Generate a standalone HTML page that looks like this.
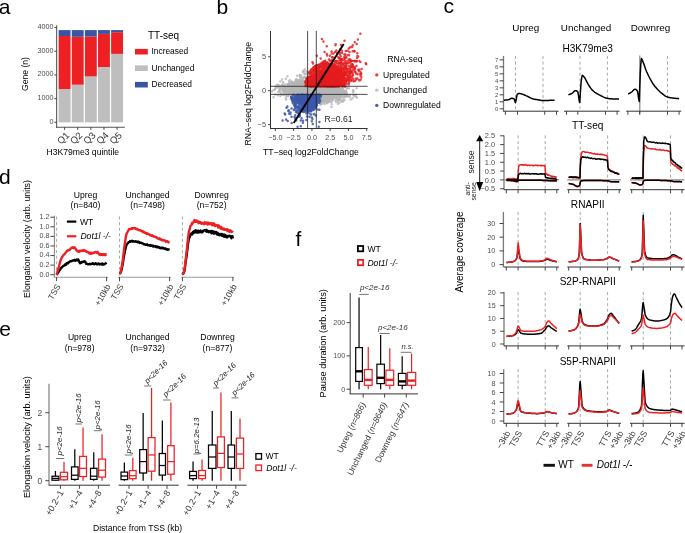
<!DOCTYPE html>
<html><head><meta charset="utf-8"><style>
html,body{margin:0;padding:0;background:#fff;}
svg{display:block;font-family:"Liberation Sans",sans-serif;will-change:transform;}
</style></head><body>
<svg width="685" height="533" viewBox="0 0 685 533">
<rect width="685" height="533" fill="#fff"/>
<text x="-1.2" y="14.2" font-size="21" text-anchor="start" fill="#000">a</text>
<text x="216.4" y="14.2" font-size="21" text-anchor="start" fill="#000">b</text>
<text x="443.6" y="12.8" font-size="21" text-anchor="start" fill="#000">c</text>
<text x="-1" y="184" font-size="21" text-anchor="start" fill="#000">d</text>
<text x="-0.8" y="336.2" font-size="21" text-anchor="start" fill="#000">e</text>
<text x="295.4" y="245.7" font-size="21" text-anchor="start" fill="#000">f</text>
<line x1="56.6" y1="25.2" x2="56.6" y2="127.8" stroke="#666" stroke-width="1.2" stroke-linecap="butt"/>
<line x1="56" y1="127.3" x2="124.9" y2="127.3" stroke="#555" stroke-width="1.1" stroke-linecap="butt"/>
<line x1="54.4" y1="122.3" x2="56.6" y2="122.3" stroke="#333" stroke-width="0.9" stroke-linecap="butt"/>
<text x="53.6" y="123.7" font-size="7.2" text-anchor="end" fill="#4d4d4d">0</text>
<line x1="54.4" y1="98.62" x2="56.6" y2="98.62" stroke="#333" stroke-width="0.9" stroke-linecap="butt"/>
<text x="53.6" y="100.02" font-size="7.2" text-anchor="end" fill="#4d4d4d">1000</text>
<line x1="54.4" y1="74.94" x2="56.6" y2="74.94" stroke="#333" stroke-width="0.9" stroke-linecap="butt"/>
<text x="53.6" y="76.34" font-size="7.2" text-anchor="end" fill="#4d4d4d">2000</text>
<line x1="54.4" y1="51.26" x2="56.6" y2="51.26" stroke="#333" stroke-width="0.9" stroke-linecap="butt"/>
<text x="53.6" y="52.66" font-size="7.2" text-anchor="end" fill="#4d4d4d">3000</text>
<line x1="54.4" y1="27.58" x2="56.6" y2="27.58" stroke="#333" stroke-width="0.9" stroke-linecap="butt"/>
<text x="53.6" y="28.98" font-size="7.2" text-anchor="end" fill="#4d4d4d">4000</text>
<rect x="58.65" y="89.1" width="11.9" height="33.2" fill="#bebebe" stroke="none" stroke-width="1"/>
<rect x="58.65" y="36" width="11.9" height="53.1" fill="#ed2024" stroke="none" stroke-width="1"/>
<rect x="58.65" y="30.1" width="11.9" height="5.9" fill="#3a54a4" stroke="none" stroke-width="1"/>
<line x1="64.6" y1="127.3" x2="64.6" y2="129.8" stroke="#333" stroke-width="0.9" stroke-linecap="butt"/>
<text transform="translate(69.9,135.9) rotate(-45)" font-size="9.5" text-anchor="end" fill="#333">Q1</text>
<rect x="71.77" y="84.7" width="11.9" height="37.6" fill="#bebebe" stroke="none" stroke-width="1"/>
<rect x="71.77" y="36.8" width="11.9" height="47.9" fill="#ed2024" stroke="none" stroke-width="1"/>
<rect x="71.77" y="30.1" width="11.9" height="6.7" fill="#3a54a4" stroke="none" stroke-width="1"/>
<line x1="77.72" y1="127.3" x2="77.72" y2="129.8" stroke="#333" stroke-width="0.9" stroke-linecap="butt"/>
<text transform="translate(83.02,135.9) rotate(-45)" font-size="9.5" text-anchor="end" fill="#333">Q2</text>
<rect x="84.89" y="76.4" width="11.9" height="45.9" fill="#bebebe" stroke="none" stroke-width="1"/>
<rect x="84.89" y="36.4" width="11.9" height="40" fill="#ed2024" stroke="none" stroke-width="1"/>
<rect x="84.89" y="30.1" width="11.9" height="6.3" fill="#3a54a4" stroke="none" stroke-width="1"/>
<line x1="90.84" y1="127.3" x2="90.84" y2="129.8" stroke="#333" stroke-width="0.9" stroke-linecap="butt"/>
<text transform="translate(96.14,135.9) rotate(-45)" font-size="9.5" text-anchor="end" fill="#333">Q3</text>
<rect x="98.01" y="67" width="11.9" height="55.3" fill="#bebebe" stroke="none" stroke-width="1"/>
<rect x="98.01" y="33.9" width="11.9" height="33.1" fill="#ed2024" stroke="none" stroke-width="1"/>
<rect x="98.01" y="30.1" width="11.9" height="3.8" fill="#3a54a4" stroke="none" stroke-width="1"/>
<line x1="103.96" y1="127.3" x2="103.96" y2="129.8" stroke="#333" stroke-width="0.9" stroke-linecap="butt"/>
<text transform="translate(109.26,135.9) rotate(-45)" font-size="9.5" text-anchor="end" fill="#333">Q4</text>
<rect x="111.13" y="53.9" width="11.9" height="68.4" fill="#bebebe" stroke="none" stroke-width="1"/>
<rect x="111.13" y="32.2" width="11.9" height="21.7" fill="#ed2024" stroke="none" stroke-width="1"/>
<rect x="111.13" y="30.1" width="11.9" height="2.1" fill="#3a54a4" stroke="none" stroke-width="1"/>
<line x1="117.08" y1="127.3" x2="117.08" y2="129.8" stroke="#333" stroke-width="0.9" stroke-linecap="butt"/>
<text transform="translate(122.38,135.9) rotate(-45)" font-size="9.5" text-anchor="end" fill="#333">Q5</text>
<text x="82.8" y="155.2" font-size="8.6" text-anchor="middle" fill="#000">H3K79me3 quintile</text>
<text transform="translate(27.6,74) rotate(-90)" font-size="8.6" text-anchor="middle" fill="#000">Gene (n)</text>
<text x="148" y="38.7" font-size="10" text-anchor="start" fill="#000">TT-seq</text>
<rect x="135" y="48.9" width="12.8" height="5.6" fill="#ed2024" stroke="none" stroke-width="1"/>
<text x="151.5" y="54.3" font-size="8.4" text-anchor="start" fill="#000">Increased</text>
<rect x="135" y="65.4" width="12.8" height="5.6" fill="#bebebe" stroke="none" stroke-width="1"/>
<text x="151.5" y="70.8" font-size="8.4" text-anchor="start" fill="#000">Unchanged</text>
<rect x="135" y="81.9" width="12.8" height="5.6" fill="#3a54a4" stroke="none" stroke-width="1"/>
<text x="151.5" y="87.3" font-size="8.4" text-anchor="start" fill="#000">Decreased</text>
<line x1="270.5" y1="31" x2="270.5" y2="128.9" stroke="#333" stroke-width="1" stroke-linecap="butt"/>
<line x1="270.1" y1="128.5" x2="367.6" y2="128.5" stroke="#333" stroke-width="1" stroke-linecap="butt"/>
<line x1="268" y1="56.8" x2="270.5" y2="56.8" stroke="#333" stroke-width="0.9" stroke-linecap="butt"/>
<text x="266" y="59.4" font-size="7.4" text-anchor="end" fill="#4d4d4d">5</text>
<line x1="268" y1="90.7" x2="270.5" y2="90.7" stroke="#333" stroke-width="0.9" stroke-linecap="butt"/>
<text x="266" y="93.3" font-size="7.4" text-anchor="end" fill="#4d4d4d">0</text>
<line x1="268" y1="124.6" x2="270.5" y2="124.6" stroke="#333" stroke-width="0.9" stroke-linecap="butt"/>
<text x="266" y="127.2" font-size="7.4" text-anchor="end" fill="#4d4d4d">−5</text>
<line x1="275.35" y1="128.5" x2="275.35" y2="131" stroke="#333" stroke-width="0.9" stroke-linecap="butt"/>
<text x="275.35" y="140.4" font-size="7.2" text-anchor="middle" fill="#4d4d4d">−5.0</text>
<line x1="293.62" y1="128.5" x2="293.62" y2="131" stroke="#333" stroke-width="0.9" stroke-linecap="butt"/>
<text x="293.62" y="140.4" font-size="7.2" text-anchor="middle" fill="#4d4d4d">−2.5</text>
<line x1="311.9" y1="128.5" x2="311.9" y2="131" stroke="#333" stroke-width="0.9" stroke-linecap="butt"/>
<text x="311.9" y="140.4" font-size="7.2" text-anchor="middle" fill="#4d4d4d">0.0</text>
<line x1="330.17" y1="128.5" x2="330.17" y2="131" stroke="#333" stroke-width="0.9" stroke-linecap="butt"/>
<text x="330.17" y="140.4" font-size="7.2" text-anchor="middle" fill="#4d4d4d">2.5</text>
<line x1="348.45" y1="128.5" x2="348.45" y2="131" stroke="#333" stroke-width="0.9" stroke-linecap="butt"/>
<text x="348.45" y="140.4" font-size="7.2" text-anchor="middle" fill="#4d4d4d">5.0</text>
<line x1="366.72" y1="128.5" x2="366.72" y2="131" stroke="#333" stroke-width="0.9" stroke-linecap="butt"/>
<text x="366.72" y="140.4" font-size="7.2" text-anchor="middle" fill="#4d4d4d">7.5</text>
<text x="310.9" y="154.9" font-size="8.7" text-anchor="middle" fill="#000">TT−seq log2FoldChange</text>
<text transform="translate(250.6,93.8) rotate(-90)" font-size="8.7" text-anchor="middle" fill="#000">RNA−seq log2FoldChange</text>
<path d="M311.6 88.8h0M329.0 89.9h0M293.5 86.7h0M303.4 92.1h0M318.8 89.5h0M306.9 93.2h0M309.1 94.1h0M320.3 96.6h0M313.5 93.8h0M323.4 87.7h0M322.7 93.5h0M331.3 99.2h0M290.5 99.1h0M328.9 90.9h0M321.5 89.1h0M289.6 92.0h0M298.1 84.1h0M316.4 86.6h0M303.6 86.8h0M312.9 91.9h0M304.8 88.0h0M316.8 88.8h0M324.6 89.2h0M314.7 87.4h0M300.4 89.3h0M318.4 92.9h0M311.9 90.9h0M314.0 87.2h0M310.5 88.3h0M323.6 96.8h0M325.0 90.8h0M349.9 96.7h0M317.7 88.6h0M301.7 95.7h0M314.8 95.1h0M327.5 92.1h0M319.9 89.5h0M333.4 92.4h0M333.0 92.7h0M318.9 93.3h0M314.0 86.9h0M290.8 93.8h0M312.4 90.8h0M321.6 87.4h0M293.8 92.1h0M316.9 95.3h0M303.3 93.2h0M284.6 88.2h0M286.3 92.8h0M323.3 90.0h0M326.3 86.5h0M320.8 82.1h0M322.0 87.8h0M314.4 91.5h0M303.9 93.5h0M322.8 89.4h0M290.0 85.8h0M296.9 92.5h0M342.0 88.2h0M338.1 88.9h0M314.1 88.9h0M323.0 90.4h0M306.8 90.5h0M313.1 95.4h0M320.5 94.7h0M301.0 100.0h0M305.1 88.4h0M314.6 88.6h0M312.9 88.0h0M312.1 81.2h0M310.4 87.4h0M319.4 86.8h0M317.5 90.8h0M314.9 96.3h0M322.1 91.4h0M328.8 94.8h0M290.6 89.9h0M306.8 95.7h0M334.0 87.4h0M313.8 90.8h0M312.3 91.9h0M313.7 93.3h0M295.6 89.2h0M320.7 88.8h0M324.2 90.2h0M300.6 90.6h0M344.6 93.4h0M305.2 89.5h0M324.6 87.8h0M329.9 95.3h0M329.7 91.4h0M304.9 83.8h0M332.9 94.3h0M331.9 91.7h0M334.3 87.5h0M306.5 90.6h0M295.6 96.0h0M313.3 94.8h0M320.8 92.0h0M324.6 91.7h0M318.6 89.1h0M350.6 99.5h0M311.8 89.3h0M314.8 94.7h0M324.4 90.1h0M320.6 93.1h0M338.7 94.0h0M326.3 93.9h0M326.3 97.9h0M295.6 90.7h0M299.2 88.9h0M308.2 93.0h0M318.5 90.1h0M313.3 91.1h0M325.6 94.2h0M313.9 90.1h0M300.4 97.5h0M311.3 92.9h0M325.7 91.9h0M306.0 81.6h0M299.0 97.9h0M317.4 90.0h0M310.0 103.5h0M314.7 91.8h0M315.3 90.6h0M323.3 91.8h0M328.6 90.2h0M317.4 91.5h0M319.3 90.8h0M309.4 88.1h0M310.7 87.9h0M317.5 91.2h0M307.5 88.6h0M321.6 96.9h0M309.7 87.4h0M314.9 89.5h0M343.1 99.5h0M311.3 94.6h0M314.5 98.0h0M303.5 91.8h0M330.0 85.2h0M305.6 90.5h0M291.5 88.7h0M320.9 89.5h0M324.1 94.3h0M300.2 93.1h0M314.3 85.8h0M311.3 92.8h0M320.3 90.4h0M325.0 86.4h0M308.5 86.1h0M309.3 88.7h0M293.8 86.7h0M331.0 91.1h0M304.4 87.1h0M326.3 88.6h0M347.5 95.9h0M329.5 94.5h0M294.4 85.8h0M302.3 90.7h0M330.7 90.3h0M301.7 93.0h0M298.1 87.6h0M305.5 90.2h0M308.8 90.3h0M311.1 90.7h0M310.6 90.7h0M341.4 101.8h0M282.8 88.9h0M325.7 90.0h0M317.7 92.9h0M303.6 90.4h0M303.2 97.5h0M306.9 93.1h0M346.7 85.1h0M331.6 91.9h0M314.7 92.0h0M298.6 92.9h0M304.7 93.0h0M313.3 91.4h0M317.6 86.1h0M334.7 85.2h0M330.2 96.3h0M303.8 91.6h0M315.1 82.8h0M335.6 89.5h0M320.3 86.2h0M310.9 87.7h0M339.5 91.7h0M315.7 89.1h0M306.5 97.2h0M318.5 95.4h0M316.5 91.4h0M314.5 94.1h0M301.4 94.4h0M306.7 97.4h0M319.1 86.0h0M337.9 86.6h0M308.4 95.5h0M299.4 84.9h0M341.2 96.7h0M328.3 97.0h0M319.5 90.1h0M324.6 90.9h0M329.6 92.5h0M294.5 87.4h0M318.4 92.2h0M317.5 101.2h0M320.8 87.1h0M313.0 88.2h0M334.5 88.6h0M304.4 88.2h0M317.5 88.2h0M316.3 86.8h0M308.2 87.8h0M321.5 87.6h0M321.9 93.0h0M319.0 89.2h0M310.9 88.5h0M324.9 89.1h0M320.9 86.1h0M296.6 86.1h0M325.8 87.4h0M295.8 92.7h0M317.8 96.7h0M307.9 85.7h0M308.2 92.6h0M301.5 97.9h0M280.2 88.6h0M329.2 93.1h0M296.6 90.4h0M319.6 85.6h0M312.1 89.7h0M297.4 87.3h0M329.4 93.2h0M330.1 86.9h0M319.8 81.6h0M304.4 89.7h0M320.8 93.5h0M335.3 91.7h0M298.4 87.8h0M337.3 89.4h0M313.3 91.2h0M320.5 89.9h0M333.5 95.4h0M301.5 97.1h0M294.2 91.1h0M315.5 88.8h0M299.8 89.9h0M298.7 89.1h0M319.7 91.4h0M302.6 98.1h0M317.5 91.5h0M305.1 87.2h0M300.5 87.9h0M304.6 90.4h0M309.4 87.7h0M334.7 90.3h0M323.1 91.1h0M329.7 94.3h0M311.1 93.0h0M316.3 90.0h0M324.7 97.2h0M309.2 87.0h0M321.1 90.7h0M327.4 91.1h0M309.8 89.7h0M334.2 91.6h0M316.5 90.4h0M335.8 89.8h0M300.9 94.4h0M314.4 91.4h0M307.1 84.9h0M303.6 86.7h0M302.8 86.2h0M335.9 94.0h0M307.9 97.2h0M306.0 92.3h0M293.0 94.6h0M299.8 87.8h0M324.5 98.2h0M303.5 97.9h0M321.4 85.2h0M306.3 89.9h0M334.6 88.2h0M326.5 94.4h0M323.2 86.0h0M317.1 90.0h0M316.6 93.0h0M353.0 90.2h0M317.3 94.8h0M314.7 89.8h0M290.6 92.4h0M304.3 92.5h0M294.5 97.1h0M353.5 95.1h0M337.5 96.5h0M292.3 98.4h0M310.0 93.4h0M314.5 88.9h0M313.9 91.3h0M320.3 82.5h0M338.9 87.0h0M321.3 94.9h0M311.2 95.3h0M320.5 88.6h0M303.4 83.0h0M310.5 92.9h0M289.0 81.0h0M318.3 91.8h0M318.9 94.2h0M320.2 87.4h0M324.2 85.5h0M303.2 93.0h0M321.2 95.7h0M314.1 92.0h0M312.6 90.7h0M324.3 84.8h0M330.3 91.4h0M325.2 98.1h0M338.9 89.1h0M312.3 90.9h0M314.8 84.0h0M332.0 91.1h0M328.7 95.8h0M313.6 88.9h0M324.9 87.4h0M304.6 87.9h0M316.8 94.3h0M324.3 99.0h0M343.6 94.4h0M310.1 90.9h0M336.6 93.1h0M317.4 91.6h0M286.8 91.8h0M324.9 92.2h0M329.6 92.7h0M319.7 89.7h0M328.5 89.0h0M320.9 85.5h0M311.3 88.1h0M326.7 91.1h0M306.6 79.7h0M324.3 94.2h0M321.9 89.5h0M303.3 85.8h0M313.3 96.9h0M320.6 92.1h0M282.0 89.2h0M305.1 92.7h0M302.2 87.2h0M301.0 90.2h0M310.0 91.4h0M323.2 91.9h0M301.1 91.9h0M309.8 94.0h0M307.9 94.6h0M291.3 93.2h0M326.6 91.5h0M338.5 92.9h0M331.5 101.9h0M299.7 90.5h0M290.2 80.2h0M308.0 85.2h0M310.7 92.8h0M271.9 91.4h0M315.2 92.6h0M297.2 94.4h0M312.2 94.1h0M304.5 92.1h0M286.7 94.2h0M337.6 95.0h0M288.9 95.3h0M313.0 93.3h0M315.2 88.6h0M309.0 91.3h0M331.9 86.8h0M315.1 89.9h0M323.3 89.6h0M317.4 93.0h0M323.0 82.4h0M312.1 93.5h0M307.9 92.1h0M312.0 84.3h0M310.6 89.6h0M327.6 88.4h0M311.4 88.2h0M333.4 95.2h0M333.8 90.7h0M311.8 93.4h0M336.0 86.4h0M319.3 88.9h0M309.6 92.4h0M297.0 87.8h0M314.0 89.7h0M332.2 87.4h0M310.5 94.1h0M327.5 92.7h0M305.1 93.3h0M320.8 92.0h0M313.7 86.1h0M326.0 90.1h0M309.7 96.0h0M325.8 92.7h0M303.0 84.4h0M303.2 92.7h0M309.3 88.6h0M308.9 90.0h0M316.5 90.7h0M331.2 92.2h0M313.2 90.9h0M309.2 92.9h0M320.5 93.7h0M325.8 85.6h0M319.9 94.0h0M315.1 89.8h0M340.3 97.1h0M310.3 91.4h0M317.9 90.4h0M328.4 97.6h0M301.5 90.6h0M321.1 92.4h0M316.6 89.4h0M337.8 99.5h0M307.0 95.0h0M308.3 93.0h0M308.8 94.2h0M301.2 87.9h0M327.2 94.4h0M305.3 90.9h0M326.5 88.5h0M291.1 87.0h0M335.2 92.1h0M330.8 92.8h0M315.8 87.3h0M311.3 94.5h0M337.3 95.6h0M304.7 96.7h0M314.2 91.9h0M336.9 86.3h0M323.7 95.4h0M321.3 86.8h0M326.1 94.6h0M310.8 88.9h0M324.6 85.0h0M322.0 94.3h0M320.5 83.4h0M298.4 89.1h0M313.5 90.1h0M310.0 93.2h0M283.2 91.0h0M330.2 96.2h0M322.1 98.4h0M313.8 95.2h0M325.6 90.1h0M315.2 88.1h0M301.5 89.0h0M311.3 87.6h0M329.7 93.9h0M301.1 85.2h0M323.1 93.0h0M312.3 93.2h0M309.8 92.6h0M324.4 98.4h0M327.8 95.2h0M307.1 93.5h0M332.0 90.2h0M312.8 90.6h0M299.3 94.0h0M315.4 92.5h0M297.2 91.9h0M309.6 96.7h0M304.9 89.5h0M296.4 89.2h0M315.1 92.5h0M307.2 91.3h0M312.6 99.1h0M329.8 92.0h0M302.4 83.0h0M294.0 85.6h0M331.7 93.4h0M315.8 88.4h0M318.3 86.3h0M315.1 97.8h0M325.0 86.5h0M321.5 83.7h0M342.1 101.2h0M343.0 91.7h0M312.5 92.2h0M318.1 91.1h0M305.5 90.5h0M304.2 83.3h0M323.2 86.1h0M305.7 86.9h0M330.2 95.6h0M329.5 90.3h0M307.8 95.5h0M329.1 95.7h0M305.2 88.0h0M292.1 95.1h0M316.8 89.2h0M310.9 93.8h0M336.0 91.8h0M316.6 85.7h0M297.4 90.9h0M317.8 85.9h0M300.4 90.8h0M299.3 90.8h0M297.1 88.7h0M297.1 85.2h0M324.4 89.2h0M280.3 81.5h0M315.2 93.0h0M306.8 88.0h0M322.3 90.4h0M317.6 92.4h0M319.5 96.0h0M312.3 93.8h0M302.2 87.0h0M301.7 86.3h0M300.0 90.9h0M301.0 89.2h0M301.0 88.6h0M311.8 90.1h0M321.5 89.4h0M315.2 95.7h0M333.3 89.8h0M319.8 92.6h0M313.3 87.9h0M301.5 90.5h0M320.9 93.4h0M300.4 89.2h0M329.1 93.8h0M304.4 91.7h0M320.4 95.8h0M327.6 90.0h0M308.2 91.9h0M306.0 95.4h0M322.4 92.4h0M298.7 87.3h0M333.3 89.7h0M305.1 92.0h0M318.8 92.8h0M301.5 86.6h0M313.0 94.7h0M352.6 98.3h0M314.9 95.2h0M301.8 92.9h0M320.0 93.3h0M297.7 82.6h0M315.2 84.7h0M309.5 91.2h0M329.8 90.6h0M307.4 87.6h0M302.8 84.0h0M319.5 92.3h0M323.0 87.3h0M316.7 89.1h0M345.3 91.4h0M317.6 84.8h0M304.3 90.7h0M296.3 93.7h0M318.5 91.1h0M320.1 94.9h0M310.2 89.7h0M310.9 89.0h0M337.5 92.0h0M315.0 96.1h0M331.8 88.4h0M314.6 92.8h0M326.2 97.2h0M322.2 93.5h0M336.9 93.2h0M305.7 89.7h0M297.4 85.9h0M310.3 89.7h0M326.5 97.0h0M319.9 94.7h0M299.9 84.4h0M310.7 94.5h0M337.8 90.1h0M319.2 83.3h0M329.4 92.7h0M314.5 90.8h0M314.8 87.4h0M293.8 83.9h0M284.6 86.2h0M295.8 90.7h0M337.6 89.4h0M330.8 95.4h0M340.6 94.3h0M298.3 86.2h0M302.0 91.3h0M290.8 83.2h0M293.5 93.0h0M320.3 92.6h0M311.1 87.2h0M322.8 92.1h0M304.9 88.1h0M291.6 87.6h0M315.5 95.1h0M296.2 83.6h0M315.3 91.9h0M313.9 88.0h0M295.0 86.4h0M301.7 94.5h0M307.9 87.4h0M299.6 91.0h0M326.9 89.8h0M301.1 87.4h0M325.9 86.8h0M313.8 97.7h0M309.8 95.5h0M313.5 88.2h0M318.7 94.3h0M332.8 91.6h0M293.0 92.1h0M306.8 92.9h0M321.1 84.2h0M329.7 90.7h0M303.7 92.2h0M337.9 92.1h0M308.0 90.2h0M310.3 88.6h0M301.1 90.6h0M296.3 92.1h0M311.3 96.5h0M311.7 95.9h0M325.7 91.5h0M319.6 94.9h0M276.4 87.0h0M319.1 89.7h0M342.6 91.0h0M313.4 94.4h0M318.6 86.2h0M311.1 90.4h0M295.9 95.4h0M325.3 93.4h0M298.5 88.7h0M314.1 92.0h0M316.0 85.5h0M311.1 91.4h0M320.5 97.8h0M337.6 92.9h0M318.5 85.5h0M316.2 90.3h0M323.8 85.0h0M336.7 97.2h0M297.0 90.1h0M304.6 91.2h0M326.0 97.3h0M309.2 89.8h0M311.7 97.9h0M315.4 93.0h0M320.4 90.3h0M300.1 87.3h0M335.6 95.5h0M291.0 86.5h0M314.6 87.7h0M333.3 92.3h0M315.0 93.8h0M336.6 97.3h0M319.2 95.5h0M304.2 86.9h0M285.5 91.6h0M322.3 89.8h0M306.6 101.5h0M314.3 97.0h0M317.3 88.2h0M298.7 93.4h0M310.3 89.0h0M311.6 84.4h0M309.7 94.4h0M316.4 91.7h0M309.9 93.2h0M305.6 94.6h0M327.3 91.8h0M339.7 91.3h0M329.4 86.5h0M315.1 84.2h0M317.9 88.5h0M317.6 91.8h0M308.9 89.9h0M307.0 90.2h0M305.6 87.2h0M314.2 95.6h0M329.5 93.1h0M323.5 89.8h0M304.1 89.4h0M329.4 91.9h0M329.1 90.9h0M300.1 93.5h0M322.5 94.0h0M319.1 91.9h0M322.5 85.4h0M345.9 91.6h0M275.2 88.4h0M329.0 91.5h0M304.3 85.7h0M332.3 91.6h0M321.0 89.0h0M298.1 90.7h0M302.8 92.4h0M324.6 92.1h0M316.7 90.5h0M301.1 88.0h0M321.9 89.3h0M323.0 91.8h0M311.3 93.4h0M333.7 89.0h0M329.3 91.3h0M336.5 93.5h0M287.3 84.4h0M303.5 95.8h0M321.6 90.7h0M330.5 93.3h0M312.4 90.6h0M317.4 98.0h0M322.0 85.2h0M330.1 97.7h0M313.3 93.7h0M324.1 91.2h0M337.3 86.2h0M309.2 87.1h0M317.8 89.6h0M313.3 94.1h0M321.8 90.5h0M321.5 97.6h0M322.4 97.4h0M320.2 89.2h0M314.1 86.9h0M316.7 87.9h0M317.9 87.9h0M318.0 97.9h0M306.7 85.0h0M307.5 90.7h0M325.9 88.3h0M315.8 92.6h0M310.4 92.9h0M305.2 87.5h0M297.3 88.6h0M324.7 88.3h0M316.6 94.9h0M324.8 90.3h0M322.9 87.3h0M304.4 88.8h0M313.6 84.7h0M306.4 92.3h0M326.0 82.5h0M314.4 86.6h0M324.7 85.8h0M325.7 95.0h0M325.7 92.3h0M306.4 88.0h0M299.4 87.3h0M327.9 102.2h0M307.8 93.5h0M319.9 94.2h0M334.4 94.1h0M301.3 91.4h0M317.4 87.6h0M317.5 93.5h0M302.2 89.4h0M326.2 93.9h0M309.4 91.4h0M292.0 85.9h0M333.9 93.2h0M296.3 87.5h0M317.7 94.4h0M344.5 100.0h0M318.1 88.0h0M295.8 90.0h0M317.1 93.2h0M296.1 83.5h0M340.6 97.5h0M299.1 95.0h0M301.4 88.1h0M310.4 96.7h0M292.7 94.7h0M310.1 96.3h0M327.8 92.8h0M323.7 88.0h0M315.1 88.4h0M319.5 88.8h0M320.7 87.2h0M306.5 90.0h0M304.8 99.7h0M310.2 94.1h0M326.9 96.3h0M305.0 89.1h0M322.3 88.4h0M298.3 82.5h0M333.2 95.7h0M297.1 84.0h0M303.4 89.8h0M306.1 87.7h0M303.1 84.3h0M336.4 89.4h0M312.7 96.7h0M339.5 87.4h0M310.6 89.6h0M319.0 90.7h0M320.6 89.7h0M292.0 81.8h0M355.9 94.7h0M302.4 85.4h0M293.8 87.4h0M308.1 87.3h0M319.8 89.3h0M318.3 95.4h0M296.1 92.5h0M306.5 92.6h0M320.5 97.8h0M313.5 85.7h0M319.5 91.8h0M289.8 93.3h0M315.8 92.6h0M313.4 93.6h0M313.3 93.3h0M356.9 97.4h0M290.2 87.7h0M314.8 92.9h0M314.4 92.8h0M329.1 90.6h0M300.8 89.3h0M317.6 89.1h0M310.9 88.7h0M322.5 92.6h0M304.1 93.7h0M321.5 96.4h0M343.0 94.1h0M318.3 89.2h0M294.4 92.0h0M349.9 95.1h0M304.2 91.3h0M303.5 93.8h0M304.2 93.8h0M304.3 81.0h0M306.6 91.3h0M303.1 98.1h0M327.7 90.2h0M291.0 85.7h0M325.2 85.0h0M303.6 90.6h0M332.3 100.8h0M302.4 86.1h0M310.5 92.5h0M314.6 88.8h0M322.9 87.5h0M319.2 90.9h0M319.1 93.5h0M315.7 93.5h0M330.3 93.9h0M330.5 88.7h0M315.1 88.7h0M307.9 89.5h0M324.7 86.9h0M313.9 96.7h0M311.9 92.1h0M316.6 89.4h0M310.5 93.0h0M329.3 89.5h0M306.4 90.3h0M336.3 94.6h0M307.0 95.8h0M316.8 92.7h0M303.4 85.6h0M313.8 90.7h0M329.4 85.2h0M318.6 91.0h0M333.7 95.3h0M330.5 93.1h0M304.1 87.2h0M301.5 90.3h0M317.3 96.7h0M302.4 90.5h0M294.2 89.2h0M301.2 85.4h0M304.0 95.0h0M312.7 90.0h0M317.9 93.5h0M302.6 90.0h0M329.8 97.6h0M317.9 89.0h0M330.9 97.9h0M335.0 86.3h0M327.4 91.0h0M305.2 85.5h0M306.6 92.5h0M300.5 92.7h0M302.6 92.9h0M296.8 83.9h0M315.5 85.9h0M312.2 84.3h0M317.3 85.8h0M316.7 92.6h0M326.8 89.1h0M305.6 87.5h0M322.6 91.5h0M321.4 83.7h0M313.7 89.3h0M303.7 91.0h0M326.5 92.3h0M302.5 89.0h0M300.1 85.9h0M308.1 94.4h0M311.4 93.4h0M303.7 90.5h0M322.1 88.8h0M306.7 91.6h0M305.7 87.3h0M312.3 91.3h0M319.3 93.0h0M292.4 87.2h0M324.2 93.3h0M310.2 92.0h0M336.2 96.0h0M335.7 94.8h0M298.2 91.7h0M318.0 95.0h0M319.5 93.5h0M326.6 92.4h0M314.0 98.4h0M307.7 93.7h0M292.3 90.1h0M323.4 89.6h0M317.6 87.0h0M298.4 91.7h0M329.4 96.5h0M322.7 91.9h0M319.4 83.7h0M320.2 87.1h0M344.2 91.3h0M306.1 91.0h0M298.2 92.4h0M312.2 92.7h0M317.7 91.8h0M305.1 90.2h0M313.7 92.6h0M307.6 96.6h0M289.7 85.1h0M301.1 90.5h0M320.5 87.7h0M298.6 88.9h0M296.9 84.4h0M322.8 94.7h0M320.0 85.9h0M307.0 86.0h0M317.6 94.0h0M342.1 88.5h0M302.9 87.6h0M327.1 92.2h0M300.2 95.8h0M328.3 90.4h0M313.6 88.7h0M316.1 86.1h0M309.3 85.9h0M308.4 84.9h0M322.1 91.0h0M307.9 90.7h0M316.9 91.9h0M294.0 94.2h0M313.0 93.7h0M305.6 92.0h0M305.6 90.3h0M305.6 87.7h0M345.4 92.8h0M333.3 91.8h0M319.3 88.5h0M330.3 88.4h0M322.9 90.6h0M307.9 96.3h0M326.7 83.0h0M319.9 93.4h0M322.2 93.2h0M322.3 98.0h0M306.8 91.5h0M318.9 83.9h0M313.2 90.4h0M314.6 90.7h0M331.1 88.2h0M327.0 92.1h0M334.8 91.0h0M323.8 87.4h0M294.9 92.8h0M304.4 91.7h0M306.8 98.8h0M301.4 88.8h0M318.3 93.6h0M303.3 90.2h0M309.5 92.3h0M329.4 91.0h0M318.0 95.9h0M305.6 93.9h0M313.8 90.3h0M304.1 99.5h0M307.4 88.6h0M301.8 90.0h0M327.7 88.1h0M328.5 95.3h0M315.1 86.0h0M307.0 86.4h0M317.9 91.0h0M304.4 93.3h0M326.0 91.1h0M301.1 95.6h0M297.7 91.0h0M324.0 92.1h0M322.3 86.9h0M284.8 89.1h0M319.0 91.6h0M309.7 95.3h0M325.0 97.6h0M340.5 92.0h0M298.7 95.3h0M307.3 85.3h0M314.7 86.2h0M308.6 95.8h0M323.3 89.5h0M324.1 89.1h0M330.8 88.6h0M303.1 88.1h0M309.8 97.0h0M312.0 87.8h0M326.8 95.4h0M299.1 88.6h0M292.9 89.9h0M296.7 85.2h0M313.1 99.2h0M301.3 88.8h0M321.6 91.6h0M317.7 91.0h0M319.7 85.0h0M314.2 92.4h0M291.0 93.4h0M328.9 89.6h0M306.9 87.3h0M306.2 89.2h0M306.8 91.4h0M322.0 92.9h0M319.4 90.7h0M319.4 93.9h0M329.0 90.3h0M306.0 89.5h0M312.3 94.1h0M307.1 91.4h0M324.2 89.3h0M330.0 96.3h0M308.7 84.9h0M327.3 91.7h0M302.7 91.3h0M294.4 91.8h0M314.4 90.8h0M295.4 87.8h0M313.7 93.2h0M312.7 95.6h0M318.3 89.7h0M324.5 92.4h0M345.3 95.2h0M290.1 86.3h0M323.1 93.0h0M319.0 88.5h0M317.9 96.9h0M303.5 89.8h0M338.7 95.5h0M320.8 94.1h0M282.4 84.5h0M320.2 89.7h0M296.6 95.2h0M325.4 92.7h0M321.4 92.7h0M318.0 97.1h0M319.1 96.9h0M343.5 89.8h0M309.8 86.2h0M308.9 94.1h0M309.0 96.3h0M295.4 93.8h0M321.5 90.6h0M330.0 94.8h0M328.2 91.4h0M326.1 96.4h0M324.2 87.7h0M313.9 88.0h0M299.5 90.4h0M312.3 88.9h0M329.1 95.5h0M319.3 86.5h0M325.2 97.3h0M311.3 96.8h0M331.1 94.2h0M308.8 91.4h0M306.6 87.6h0M335.2 91.1h0M315.0 90.2h0M312.8 89.6h0M307.5 96.8h0M331.4 97.2h0M307.9 90.0h0M307.5 94.1h0M303.5 92.4h0M316.4 87.5h0M323.3 85.8h0M310.0 91.7h0M321.3 90.7h0M327.3 94.0h0M320.4 88.7h0M320.8 89.2h0M302.1 89.7h0M314.7 80.5h0M332.4 85.8h0M317.0 88.7h0M311.5 94.5h0M304.0 91.4h0M320.5 97.5h0M322.2 90.6h0M306.2 89.2h0M324.6 91.6h0M323.1 93.2h0M302.8 94.7h0M331.8 90.2h0M314.9 88.6h0M319.2 92.3h0M295.4 91.9h0M325.9 91.0h0M308.0 83.5h0M308.6 89.4h0M309.4 89.5h0M316.5 92.4h0M316.3 95.5h0M336.2 87.5h0M308.6 96.9h0M316.3 96.6h0M292.1 88.1h0M323.7 93.6h0M303.4 91.5h0M322.1 89.9h0M299.8 91.7h0M320.4 89.9h0M318.6 91.5h0M293.3 91.1h0M303.1 87.7h0M307.9 84.8h0M309.2 94.3h0M342.1 91.7h0M304.2 85.3h0M321.1 90.6h0M309.9 90.1h0M308.6 85.8h0M317.1 92.3h0M339.0 92.6h0M314.2 89.5h0M306.0 92.2h0M304.6 89.7h0M331.6 97.5h0M312.1 84.7h0M304.7 86.3h0M309.6 87.8h0M329.6 89.7h0M282.1 79.6h0M324.3 92.2h0M339.6 94.5h0M324.0 92.2h0M311.5 92.0h0M318.0 89.8h0M343.5 93.8h0M312.5 96.2h0M322.8 84.2h0M327.0 93.3h0M320.5 91.1h0M331.9 97.5h0M313.2 90.2h0M316.1 89.5h0M326.1 91.6h0M311.3 93.8h0M287.4 87.1h0M327.0 87.7h0M304.4 92.8h0M331.1 91.7h0M315.1 85.1h0M300.0 96.3h0M309.8 86.6h0M319.7 91.1h0M309.0 92.4h0M303.2 93.5h0M303.5 83.3h0M317.0 92.6h0M278.7 84.9h0M317.0 90.2h0M311.7 82.3h0M347.0 88.1h0M330.5 87.7h0M320.5 91.0h0M318.9 92.5h0M317.9 97.6h0M320.0 91.4h0M319.3 91.1h0M310.2 94.9h0M307.0 97.9h0M301.0 87.6h0M330.7 76.5h0M318.6 88.0h0M326.2 71.2h0M304.9 84.0h0M292.2 89.8h0M334.2 79.6h0M311.6 81.8h0M310.0 82.6h0M301.9 80.7h0M319.8 81.0h0M315.2 83.7h0M294.4 91.3h0M336.1 77.0h0M315.7 77.4h0M285.8 78.8h0M305.0 82.2h0M297.1 91.3h0M301.4 85.2h0M325.1 85.3h0M315.8 81.4h0M310.8 75.5h0M294.4 82.7h0M305.6 91.3h0M296.1 87.9h0M295.1 85.3h0M313.1 86.4h0M307.7 82.4h0M304.4 83.7h0M296.2 86.5h0M307.2 78.5h0M317.1 81.5h0M324.3 81.5h0M315.6 86.2h0M330.7 75.4h0M302.1 81.2h0M316.5 82.0h0M314.2 90.5h0M315.9 87.5h0M305.3 83.8h0M319.0 76.2h0M307.0 89.9h0M336.5 74.6h0M296.3 88.4h0M300.2 75.2h0M298.1 81.3h0M273.4 90.3h0M285.5 88.5h0M305.0 85.4h0M316.9 84.4h0M322.5 81.5h0M324.6 76.1h0M314.5 80.3h0M336.9 80.0h0M328.5 79.7h0M290.2 94.1h0M307.2 72.6h0M308.5 83.6h0M317.1 79.1h0M314.7 88.6h0M284.7 91.9h0M304.0 86.6h0M326.1 79.1h0M301.8 87.7h0M311.3 89.0h0M319.4 82.7h0M304.3 88.4h0M314.5 90.1h0M329.2 77.8h0M293.3 84.7h0M322.7 80.5h0M330.8 83.1h0M300.3 89.9h0M316.6 80.9h0M334.5 83.3h0M314.4 86.7h0M326.0 77.2h0M301.9 86.0h0M298.6 91.5h0M278.3 92.2h0M326.9 80.5h0M305.9 89.5h0M318.4 76.1h0M307.1 74.2h0M310.4 84.5h0M301.0 85.1h0M294.6 88.5h0M322.5 79.9h0M324.6 71.3h0M309.1 87.4h0M309.3 77.5h0M292.3 85.8h0M293.8 87.3h0M337.4 82.3h0M306.2 82.0h0M304.4 71.6h0M328.8 81.8h0M329.6 87.8h0M306.6 85.3h0M318.7 81.9h0M322.6 72.9h0M306.1 90.3h0M315.2 77.5h0M314.6 82.1h0M301.0 80.4h0M275.9 85.9h0M319.7 76.0h0M328.4 70.9h0M289.2 82.5h0M303.1 71.0h0M309.0 84.6h0M298.6 83.1h0M306.7 87.9h0M304.4 83.0h0M303.0 88.4h0M322.7 74.1h0M292.6 82.9h0M322.4 82.4h0M300.3 81.0h0M303.3 90.1h0M311.3 83.7h0M298.8 89.0h0M329.9 71.6h0M305.3 73.7h0M323.8 77.3h0M301.2 75.4h0M305.5 89.9h0M296.1 87.5h0M315.9 94.6h0M310.3 100.5h0M318.9 97.1h0M335.7 95.6h0M322.6 97.3h0M332.7 93.3h0M308.7 101.7h0M335.7 99.6h0M345.2 96.2h0M324.3 100.2h0M322.5 97.2h0M338.7 90.9h0M309.0 95.1h0M310.4 96.7h0M321.6 101.2h0M335.6 100.4h0M324.8 98.1h0M314.1 90.2h0M318.0 100.3h0M317.6 92.4h0M332.1 89.6h0M324.7 93.5h0M330.1 92.9h0M320.2 101.9h0M315.3 103.7h0M329.8 99.3h0M312.5 94.4h0M325.4 93.5h0M345.5 92.2h0M320.7 97.1h0M311.2 92.5h0M339.5 98.8h0M321.9 94.1h0M322.7 97.9h0M317.2 100.6h0M320.7 97.3h0M309.1 97.1h0M314.0 98.8h0M332.8 99.7h0M317.3 98.3h0M332.7 98.3h0M315.8 104.3h0M325.7 101.6h0M333.6 96.7h0M313.5 97.5h0M316.1 101.2h0M327.5 96.5h0M338.6 93.6h0M312.9 94.4h0M328.7 95.8h0M317.8 99.1h0M329.6 101.5h0M313.0 91.9h0M323.8 96.3h0M320.6 103.3h0M299.5 92.0h0M314.7 92.3h0M318.6 101.2h0M323.2 101.9h0M311.7 95.0h0M319.7 94.4h0M306.5 91.8h0M327.8 94.9h0M318.2 98.9h0M335.3 91.3h0M315.6 99.7h0M324.7 88.1h0M329.9 91.4h0M330.6 99.5h0M322.9 100.9h0M318.5 92.4h0M319.3 99.3h0M305.1 98.4h0M326.5 94.2h0M337.3 95.2h0M302.9 105.1h0M332.1 90.3h0M338.6 100.1h0M323.5 93.2h0M314.1 95.8h0M321.2 104.3h0M335.2 96.4h0M326.4 96.4h0M327.2 101.8h0M326.4 95.0h0M326.6 96.5h0M323.8 100.9h0M318.6 101.2h0M330.1 100.5h0M319.9 90.4h0M310.6 102.0h0M305.9 98.7h0M318.0 96.8h0M322.3 93.3h0M329.4 92.7h0M334.3 96.7h0M302.9 93.9h0M343.5 85.3h0M316.1 102.9h0M306.4 104.3h0M316.7 97.3h0M302.5 98.8h0M322.1 94.5h0M297.0 102.2h0M326.1 95.9h0M318.2 97.0h0M310.9 97.1h0M296.0 102.0h0M336.5 96.0h0M311.1 94.2h0M303.6 98.5h0M325.1 91.3h0M320.5 97.4h0M305.9 102.7h0M323.5 101.7h0M308.4 101.3h0M331.7 104.2h0M323.5 95.4h0M330.0 99.2h0M321.2 91.8h0M315.0 93.9h0M345.3 96.8h0M303.4 97.7h0M328.4 92.9h0M327.9 93.0h0M305.5 104.5h0M319.3 96.5h0M310.1 91.6h0M323.5 98.0h0M343.4 96.9h0M314.5 97.5h0M326.3 96.2h0M328.2 95.6h0M341.6 101.3h0M326.2 94.2h0M342.1 91.3h0M322.8 93.7h0M322.6 101.0h0M315.1 97.0h0M333.7 96.7h0M339.1 89.9h0M333.9 97.0h0M320.2 100.8h0M330.8 99.4h0M311.9 96.0h0M320.9 96.2h0M318.9 100.0h0M313.2 96.2h0M334.1 93.5h0M326.0 96.0h0" stroke="#b4b4b4" stroke-opacity="0.8" stroke-width="2.5" stroke-linecap="round" fill="none"/>
<path d="M311.9 91.9h0M328.1 90.5h0M321.3 89.3h0M318.7 91.2h0M306.4 84.0h0M310.4 91.0h0M308.2 86.0h0M315.4 86.0h0M321.2 91.4h0M333.3 90.3h0M309.0 95.3h0M296.2 89.1h0M319.4 93.8h0M318.0 89.4h0M294.8 85.1h0M325.6 98.1h0M321.9 91.7h0M306.4 92.0h0M333.6 93.4h0M332.8 95.5h0M329.3 88.3h0M312.6 89.7h0M340.5 90.8h0M310.5 89.2h0M319.9 90.2h0M345.9 91.0h0M279.9 91.0h0M325.8 85.8h0M328.8 101.5h0M317.1 86.5h0M313.7 85.1h0M326.5 92.4h0M295.3 95.6h0M331.0 88.8h0M324.6 85.4h0M289.6 84.4h0M334.0 95.5h0M305.3 86.6h0M285.4 90.9h0M314.7 87.7h0M333.9 85.7h0M289.7 85.7h0M307.3 89.6h0M312.3 95.4h0M327.7 88.5h0M294.8 92.3h0M295.2 90.4h0M306.6 97.7h0M318.5 92.7h0M331.9 89.2h0M311.0 92.4h0M303.0 87.7h0M303.2 90.6h0M301.8 91.6h0M348.9 88.2h0M336.4 90.2h0M319.0 93.6h0M318.6 90.3h0M299.5 95.1h0M303.7 89.3h0M305.5 90.9h0M310.7 87.7h0M313.4 90.2h0M320.2 87.2h0M290.6 89.5h0M301.5 84.3h0M321.2 90.5h0M336.0 88.2h0M311.0 86.7h0M330.7 92.4h0M327.4 91.4h0M324.8 91.2h0M311.7 88.1h0M309.2 98.1h0M311.9 96.0h0M312.5 97.5h0M322.9 97.8h0M315.2 89.9h0M298.0 91.9h0M321.1 97.0h0M314.0 93.6h0M312.6 100.9h0M316.7 96.1h0M314.4 94.0h0M305.6 95.5h0M308.5 90.2h0M328.9 91.0h0M322.5 82.5h0M321.3 91.7h0M318.0 83.1h0M304.5 89.4h0M336.1 91.8h0M323.4 93.0h0M306.2 87.4h0M308.2 82.0h0M292.4 83.1h0M329.9 93.2h0M315.1 96.2h0M303.3 89.7h0M308.8 93.2h0M322.1 83.3h0M308.2 89.9h0M315.5 88.0h0M301.5 87.9h0M321.3 91.5h0M313.6 88.0h0M316.7 91.5h0M314.6 90.9h0M324.3 91.8h0M333.9 93.9h0M336.5 90.2h0M321.6 89.1h0M298.1 90.8h0M310.3 86.7h0M315.7 88.1h0M295.7 89.9h0M315.3 89.9h0M320.9 97.0h0M318.8 93.5h0M306.6 90.4h0M322.6 88.2h0M326.7 90.0h0M325.2 92.7h0M308.4 93.7h0M312.6 87.3h0M300.1 84.7h0M294.8 83.9h0M295.0 86.3h0M323.5 92.6h0M331.9 93.0h0M336.3 91.7h0M316.3 86.7h0M301.3 88.4h0M324.5 97.0h0M315.9 92.4h0M330.7 90.6h0M314.3 89.3h0M316.1 87.0h0M311.5 92.3h0M314.2 93.3h0M304.8 91.9h0M321.5 96.2h0M330.1 98.5h0M331.5 92.4h0M313.4 84.3h0M317.3 87.4h0M309.8 92.7h0M311.5 88.4h0M302.0 87.4h0M306.0 88.8h0M306.5 87.4h0M313.6 93.3h0M292.8 85.5h0M297.0 96.3h0M321.2 88.7h0M326.1 100.5h0M310.6 90.5h0M318.2 93.0h0M318.7 93.1h0M321.7 89.2h0M315.0 91.9h0M307.2 92.8h0M301.8 88.9h0M316.7 97.4h0M324.2 88.4h0M311.4 91.8h0M302.4 90.3h0M312.2 97.5h0M321.5 92.3h0M315.1 93.0h0M286.1 89.6h0M322.7 90.7h0M325.8 85.6h0M326.2 94.8h0M306.0 93.1h0M300.9 85.3h0M319.0 93.6h0M314.5 90.6h0M287.7 90.2h0M326.8 91.3h0M307.5 91.8h0M315.1 88.7h0M306.6 88.8h0M306.4 93.6h0M330.0 90.3h0M331.0 91.2h0M296.5 90.2h0M340.4 89.7h0M314.4 95.0h0M315.2 89.8h0M312.4 93.6h0M313.1 85.4h0M314.2 88.1h0M323.2 93.5h0M296.8 98.9h0M295.9 87.7h0M339.7 88.1h0M310.9 88.9h0M308.0 96.3h0M326.2 98.5h0M321.6 89.6h0M298.9 95.3h0M315.2 93.4h0M310.7 84.9h0M325.4 95.5h0M303.4 85.5h0M318.1 93.1h0M329.7 91.4h0M301.0 84.4h0M310.1 94.8h0M307.5 96.7h0M319.0 92.0h0M327.1 94.0h0M293.8 91.1h0M328.6 85.5h0M317.3 95.8h0M318.7 88.1h0M315.0 87.5h0M335.2 92.7h0M337.5 92.6h0M321.6 89.6h0M309.6 94.7h0M297.5 86.6h0M306.7 89.2h0M326.4 95.9h0M325.7 89.1h0M302.3 88.4h0M322.4 86.2h0M330.4 90.4h0M328.3 88.6h0M322.2 95.2h0M297.9 86.1h0M312.9 87.0h0M308.8 88.2h0M319.3 84.5h0M321.5 96.1h0M303.8 86.1h0M308.5 91.1h0M307.9 88.5h0M313.0 88.0h0M308.3 93.5h0M333.4 95.3h0M346.2 91.6h0M317.1 84.5h0M328.1 84.6h0M320.6 98.0h0M290.3 86.8h0M310.4 90.6h0M290.1 91.5h0M302.4 96.4h0M303.0 94.3h0M297.3 80.8h0M311.3 95.8h0M293.2 90.9h0M319.8 93.8h0M280.1 89.6h0M309.7 85.9h0M326.9 94.5h0M330.3 94.0h0M301.5 93.7h0M307.8 94.1h0M319.2 99.2h0M305.7 91.5h0M296.1 96.7h0M321.0 95.7h0M289.6 94.5h0M309.4 92.6h0M338.9 85.2h0M313.0 93.5h0M309.1 97.7h0M286.0 87.4h0M333.3 91.2h0M327.6 85.0h0M297.0 87.9h0M305.7 93.2h0M305.1 91.6h0M306.2 86.0h0M290.7 86.3h0M318.5 93.9h0M325.6 98.5h0M305.6 91.7h0M311.7 89.4h0M323.3 92.4h0M314.2 84.6h0M316.1 93.6h0M297.9 89.3h0M304.1 86.7h0M327.2 91.5h0M305.2 92.4h0M324.7 94.5h0M335.4 93.9h0M317.3 88.7h0M284.9 87.1h0M338.4 85.5h0M308.6 93.8h0M315.5 89.8h0M316.9 91.9h0M321.5 90.4h0M296.7 93.4h0M307.1 90.2h0M313.1 93.2h0M332.8 97.5h0M324.7 95.7h0M309.9 92.1h0M330.7 85.6h0M321.0 94.0h0M341.6 85.3h0M304.4 89.9h0M343.9 92.3h0M313.3 93.8h0M315.3 90.7h0M322.5 92.6h0M312.8 93.1h0M313.5 88.3h0M316.2 89.6h0M319.1 94.2h0M327.1 93.7h0M309.7 88.9h0M300.3 88.7h0M306.1 85.1h0M329.2 92.7h0M323.7 91.8h0M320.5 90.8h0M301.0 92.3h0M321.1 90.6h0M309.1 89.4h0M314.7 93.1h0M323.2 95.1h0M315.5 87.5h0M324.7 97.9h0M314.9 86.9h0M301.0 88.4h0M331.5 93.6h0M308.5 92.8h0M307.8 92.5h0M308.5 85.5h0M313.2 86.6h0M311.3 87.0h0M324.2 95.6h0M299.2 89.0h0M317.5 86.6h0M320.9 93.2h0M308.6 84.4h0M326.5 90.0h0M335.1 93.3h0M296.3 94.8h0M315.7 95.1h0M315.6 91.1h0M302.9 92.0h0M301.3 89.0h0M306.4 88.3h0M319.2 88.1h0M324.7 92.9h0M289.7 86.0h0M334.2 94.8h0M304.1 86.4h0M324.9 89.2h0M329.2 92.5h0M291.7 91.1h0M308.7 90.7h0M325.0 93.8h0M317.9 88.8h0M312.4 91.6h0M325.7 91.3h0M298.6 90.0h0M303.1 92.0h0M321.1 89.8h0M316.7 90.7h0M319.7 88.5h0M302.8 89.1h0M298.3 88.1h0M304.0 83.0h0M283.6 89.1h0M305.3 83.3h0M309.6 88.7h0M302.5 91.0h0M309.1 88.3h0M308.8 93.5h0M318.2 92.7h0M302.5 85.5h0M305.6 90.5h0M328.6 94.4h0M319.4 92.4h0M300.8 86.6h0M325.9 84.8h0M305.1 87.0h0M329.1 87.3h0M333.7 96.7h0M308.7 93.5h0M321.6 94.0h0M312.8 96.6h0M310.7 87.2h0M323.7 95.3h0M314.5 90.7h0M325.5 95.4h0M321.9 83.2h0M314.5 97.8h0M332.6 94.1h0M333.5 89.8h0M315.1 92.0h0M332.7 92.7h0M307.5 89.2h0M315.5 88.1h0M306.7 83.1h0M294.2 91.8h0M317.3 97.9h0M324.5 90.2h0M308.3 86.8h0M336.1 92.1h0M326.3 88.6h0M330.9 94.2h0M315.0 88.8h0M322.0 86.3h0M325.0 96.7h0M303.8 86.9h0M298.4 92.2h0M299.8 90.0h0M311.9 92.8h0M307.1 89.6h0M317.9 94.8h0M307.6 87.1h0M310.9 86.8h0M308.5 86.8h0M332.1 92.9h0M310.0 86.0h0M300.1 83.7h0M331.0 88.8h0M303.0 91.8h0M334.2 86.9h0M298.6 89.8h0M310.4 91.4h0M295.6 91.8h0M334.1 87.5h0M315.9 92.9h0M331.9 91.2h0M328.5 94.8h0M325.3 86.0h0M323.7 88.7h0M310.2 91.7h0M310.4 93.2h0M316.8 90.4h0M310.0 85.1h0M306.2 96.7h0M288.8 89.7h0M309.3 93.9h0M327.1 95.1h0M311.6 91.3h0M305.7 88.2h0M278.5 86.4h0M312.6 86.4h0M318.2 91.0h0M302.7 94.2h0M332.8 93.8h0M307.0 93.1h0M297.9 80.1h0M310.8 89.0h0M305.0 91.7h0M312.5 95.4h0M321.9 90.0h0M291.6 86.5h0M314.7 90.0h0M307.9 89.0h0M311.5 100.2h0M311.1 89.0h0M322.6 92.4h0M309.8 93.7h0M307.3 86.7h0M329.5 93.7h0M312.1 89.3h0M320.1 94.7h0M305.6 92.4h0M316.6 94.1h0M284.7 90.7h0M316.7 94.4h0M321.6 90.8h0M326.2 92.7h0M316.5 90.1h0M307.1 93.1h0M331.0 87.8h0M330.2 89.8h0M316.4 88.1h0M315.9 96.2h0M328.9 85.3h0M312.5 87.5h0M303.3 92.7h0M300.6 85.2h0M314.0 90.0h0M327.0 86.5h0M299.5 83.1h0M317.0 84.4h0M309.4 89.8h0M325.6 88.4h0M327.4 86.5h0M325.2 93.0h0M313.7 88.5h0M301.2 87.6h0M299.3 91.4h0M305.8 88.5h0M308.8 89.4h0M314.3 85.7h0M327.2 96.9h0M305.0 94.1h0M324.1 94.8h0M314.3 94.4h0M309.8 93.6h0M312.2 82.6h0M316.1 88.9h0M318.5 93.5h0M327.5 98.4h0M317.5 92.7h0M319.9 95.3h0M310.1 94.4h0M309.6 93.8h0M313.0 90.3h0M312.8 93.7h0M298.2 95.6h0M312.2 89.9h0M299.3 87.2h0M322.3 92.3h0M312.5 89.5h0M332.3 95.3h0M321.9 94.4h0M291.0 90.2h0M307.9 94.8h0M335.7 88.6h0M333.0 89.8h0M300.1 87.7h0M307.0 86.6h0M311.0 88.0h0M325.2 90.3h0M316.1 89.7h0M304.3 92.1h0M325.4 90.3h0M311.5 84.1h0M286.1 87.1h0M312.2 91.6h0M329.3 93.8h0M312.4 88.3h0M319.4 90.1h0M313.5 82.7h0M338.3 90.1h0M308.0 91.3h0M325.8 101.3h0M317.5 86.3h0M312.1 92.4h0M329.3 93.2h0M319.9 91.8h0M320.8 90.0h0M317.7 91.4h0M312.6 91.7h0M324.6 85.4h0M293.5 91.9h0M329.9 88.5h0M310.9 92.6h0M325.1 94.4h0M299.0 90.0h0M302.6 90.4h0M316.5 83.4h0M292.2 89.3h0M320.5 88.7h0M319.0 92.0h0M313.7 92.1h0M300.4 94.0h0M316.5 91.2h0M315.5 84.8h0M317.7 88.5h0M299.9 89.6h0M320.5 86.1h0M310.4 88.8h0M329.1 99.2h0M303.3 92.4h0M330.1 92.7h0M314.5 83.7h0M286.9 89.2h0M320.1 96.5h0M300.8 96.0h0M329.6 91.4h0M303.6 92.8h0M307.0 92.6h0M302.5 96.0h0M318.9 88.3h0M294.0 94.9h0M323.1 91.4h0M328.8 83.5h0M327.9 88.6h0M329.7 94.9h0M302.7 86.1h0M327.4 93.8h0M308.2 94.9h0M314.8 91.8h0M325.3 87.4h0M308.3 92.9h0M333.2 92.4h0M309.9 96.1h0M318.0 94.3h0M314.3 93.1h0M346.9 94.3h0M308.9 86.9h0M324.6 92.0h0M300.4 95.1h0M297.0 92.0h0M304.5 90.9h0M322.5 95.5h0M329.4 89.5h0M323.2 89.2h0M316.8 94.6h0M318.9 94.3h0M301.5 97.2h0M289.8 89.8h0M311.1 83.5h0M315.2 95.2h0M299.2 96.3h0M314.1 89.4h0M315.8 89.2h0M313.3 92.1h0M321.4 88.9h0M338.1 90.2h0M306.7 86.2h0M320.6 95.4h0M310.7 90.0h0M297.8 90.4h0M325.9 92.2h0M296.2 88.4h0M306.3 88.7h0M321.3 85.6h0M335.7 92.9h0M322.8 90.2h0M313.8 87.3h0M322.5 90.6h0M319.7 90.0h0M334.2 95.2h0M300.8 91.9h0M307.2 99.2h0M324.1 97.9h0M313.6 90.4h0M326.9 94.4h0M296.6 89.5h0M328.4 88.4h0M301.7 94.6h0M302.1 89.6h0M309.7 94.5h0M317.5 80.0h0M300.8 94.8h0M318.8 90.7h0M331.4 93.9h0M315.1 92.6h0M322.8 87.4h0M339.8 91.9h0M295.8 93.7h0M313.6 90.5h0M308.5 90.0h0M330.7 92.3h0M318.3 92.4h0M287.0 96.0h0M308.7 95.3h0M297.9 96.7h0M314.2 91.7h0M327.9 83.4h0M308.3 87.8h0M334.6 94.4h0M314.8 87.0h0M304.4 84.7h0M333.7 87.4h0M322.2 91.7h0M291.2 85.2h0M308.3 82.6h0M321.0 87.5h0M314.9 88.0h0M332.7 92.9h0M313.3 89.5h0M326.2 88.5h0M317.4 89.4h0M314.0 92.4h0M319.2 93.4h0M323.1 91.1h0M310.5 92.6h0M305.2 94.3h0M337.3 84.9h0M314.7 87.3h0M312.1 87.1h0M305.7 88.0h0M302.3 96.3h0M295.3 88.5h0M316.5 86.9h0M329.8 93.4h0M337.3 98.8h0M315.3 88.6h0M327.5 93.3h0M320.0 85.8h0M315.6 90.4h0M313.9 95.4h0M329.0 86.2h0M321.5 92.5h0M315.5 89.9h0M288.6 94.0h0M316.4 86.7h0M308.4 92.3h0M319.7 81.7h0M327.1 90.9h0M314.1 86.7h0M338.4 85.4h0M318.1 91.8h0M292.3 85.6h0M327.1 92.8h0M312.2 87.7h0M328.3 97.0h0M305.5 94.6h0M339.1 88.3h0M315.9 87.3h0M304.6 93.3h0M306.0 95.7h0M316.3 87.0h0M322.4 92.8h0M321.1 89.2h0M303.7 88.2h0M302.5 85.7h0M311.4 92.7h0M303.4 94.4h0M311.7 88.0h0M307.6 91.8h0M316.0 90.7h0M312.9 84.9h0M322.0 91.6h0M305.0 90.0h0M300.8 94.2h0M306.6 90.3h0M310.4 94.1h0M328.9 88.7h0M315.5 89.2h0M309.5 91.5h0M294.7 91.1h0M302.3 94.7h0M309.6 93.1h0M308.0 99.7h0M331.3 89.8h0M338.6 95.1h0M302.8 90.7h0M326.3 89.8h0M308.8 86.7h0M341.6 95.9h0M314.2 89.8h0M306.9 92.6h0M325.8 89.4h0M315.6 92.9h0M318.7 93.0h0M321.6 89.2h0M336.4 96.9h0M295.0 88.6h0M333.2 87.4h0M322.1 91.3h0M310.3 88.6h0M336.5 91.4h0M328.5 97.1h0M310.4 89.4h0M331.1 95.7h0M311.9 96.9h0M318.5 92.7h0M328.6 97.5h0M306.6 95.3h0M302.9 84.8h0M314.8 89.1h0M319.1 90.4h0M325.1 100.1h0M331.6 95.2h0M294.3 93.5h0M310.4 92.8h0M334.9 85.9h0M309.7 89.9h0M318.5 84.9h0M303.4 88.8h0M304.9 85.1h0M334.7 84.4h0M328.5 94.0h0M315.6 90.1h0M285.2 90.0h0M299.4 87.8h0M309.3 90.3h0M315.6 88.0h0M319.9 86.3h0M311.4 83.6h0M319.0 90.3h0M286.2 99.4h0M321.8 87.9h0M322.0 89.9h0M282.9 85.7h0M308.8 91.7h0M305.0 88.4h0M329.5 85.4h0M303.8 86.2h0M297.0 91.8h0M328.3 96.8h0M302.5 91.4h0M326.0 90.8h0M305.6 86.7h0M301.5 86.9h0M296.4 83.7h0M325.3 86.5h0M320.4 89.0h0M341.0 96.9h0M307.2 89.5h0M329.8 96.0h0M316.7 90.4h0M322.2 86.5h0M303.2 88.8h0M312.7 93.0h0M329.5 89.9h0M302.4 92.1h0M338.6 94.5h0M300.3 86.3h0M337.7 91.7h0M287.6 84.4h0M307.6 88.4h0M334.3 92.1h0M328.6 85.3h0M334.3 94.4h0M303.3 92.3h0M313.8 89.0h0M312.5 96.1h0M309.0 93.0h0M299.9 88.0h0M289.3 84.3h0M313.0 91.9h0M306.7 93.2h0M336.2 88.0h0M310.8 96.6h0M317.4 92.7h0M327.9 93.2h0M329.5 94.4h0M323.3 94.4h0M314.5 93.5h0M325.2 86.5h0M300.2 89.3h0M308.4 91.7h0M325.6 87.5h0M323.3 90.8h0M333.3 93.5h0M327.2 95.6h0M316.1 80.9h0M308.4 90.6h0M334.1 92.0h0M325.7 92.0h0M294.6 93.6h0M338.6 86.8h0M327.6 92.2h0M331.1 87.6h0M354.0 96.1h0M312.4 95.4h0M318.8 89.2h0M300.2 92.3h0M306.5 89.2h0M327.0 89.1h0M303.1 96.5h0M316.9 89.6h0M305.1 88.9h0M311.0 87.6h0M321.1 90.6h0M329.0 89.9h0M307.1 90.6h0M315.7 91.1h0M299.2 101.1h0M299.0 86.8h0M343.5 92.7h0M307.6 94.3h0M307.9 90.2h0M284.0 94.2h0M313.0 89.6h0M301.3 85.8h0M332.1 88.4h0M313.5 92.6h0M299.0 84.1h0M326.1 95.1h0M319.9 86.8h0M307.1 91.9h0M310.6 92.7h0M317.8 95.4h0M311.6 87.0h0M318.1 87.0h0M313.9 93.3h0M301.8 94.5h0M330.0 92.6h0M311.6 89.2h0M313.0 86.5h0M302.4 88.8h0M309.2 82.3h0M307.3 89.4h0M302.9 88.9h0M313.4 90.4h0M309.0 92.3h0M322.6 84.2h0M313.3 89.9h0M321.2 89.3h0M342.8 84.9h0M312.3 90.0h0M277.4 87.7h0M319.1 98.1h0M313.5 84.6h0M315.0 90.6h0M304.3 90.5h0M299.9 90.4h0M307.6 87.9h0M326.6 92.4h0M303.1 83.9h0M308.6 89.3h0M317.3 84.4h0M323.7 90.8h0M306.5 90.0h0M310.6 92.2h0M308.3 91.2h0M307.9 94.7h0M292.3 87.3h0M338.2 93.2h0M346.1 96.3h0M322.1 95.2h0M308.9 94.8h0M326.3 90.8h0M320.5 88.5h0M328.6 91.7h0M313.8 93.5h0M319.4 92.6h0M325.3 82.5h0M310.5 94.2h0M299.8 90.4h0M309.4 88.6h0M307.5 90.8h0M321.4 85.5h0M305.2 93.6h0M337.7 91.8h0M310.2 92.0h0M304.6 96.5h0M325.5 89.1h0M309.3 89.2h0M301.4 91.2h0M315.9 89.9h0M316.9 94.1h0M304.7 87.3h0M295.1 91.8h0M314.9 89.3h0M310.4 86.7h0M315.1 90.4h0M323.6 91.3h0M306.2 88.4h0M294.6 87.4h0M325.0 93.7h0M315.3 86.1h0M316.9 91.0h0M322.2 88.9h0M304.5 94.9h0M311.4 89.0h0M292.5 91.7h0M335.1 90.8h0M309.2 89.6h0M306.4 89.4h0M298.0 86.2h0M320.9 92.9h0M301.5 90.7h0M311.9 90.2h0M313.7 92.1h0M327.1 91.0h0M315.7 89.4h0M320.6 94.6h0M314.5 92.5h0M318.6 90.2h0M306.6 90.4h0M312.0 85.4h0M326.3 88.4h0M322.8 93.1h0M313.8 84.0h0M320.8 95.5h0M308.6 92.2h0M326.3 88.8h0M327.2 92.3h0M307.2 93.5h0M336.5 93.3h0M313.9 96.7h0M318.2 95.1h0M325.5 95.9h0M311.7 89.2h0M303.0 83.9h0M303.3 88.9h0M323.8 91.9h0M301.6 92.4h0M341.5 92.6h0M322.0 96.5h0M313.5 87.0h0M302.8 93.9h0M325.9 92.9h0M303.3 94.7h0M315.5 94.1h0M303.9 97.5h0M355.9 96.7h0M322.6 91.6h0M287.8 84.7h0M315.7 87.7h0M307.1 85.9h0M318.4 90.3h0M323.6 95.5h0M311.4 91.6h0M331.4 88.0h0M340.7 100.0h0M310.0 82.3h0M307.1 88.3h0M329.7 93.6h0M299.1 88.9h0M304.3 93.8h0M318.0 91.9h0M315.8 87.2h0M307.1 86.1h0M302.3 90.6h0M319.3 99.7h0M327.5 85.3h0M311.3 88.8h0M331.4 87.0h0M321.1 82.5h0M317.5 92.5h0M326.2 91.7h0M304.9 97.0h0M331.5 86.1h0M330.8 87.1h0M316.8 95.1h0M320.4 92.6h0M323.2 89.8h0M326.3 90.7h0M295.4 91.1h0M314.2 93.4h0M302.4 89.8h0M321.2 93.3h0M322.4 87.9h0M324.5 93.6h0M308.9 93.3h0M338.5 96.2h0M330.9 94.1h0M328.5 97.1h0M301.9 89.5h0M323.8 91.6h0M331.9 93.4h0M302.8 92.3h0M329.1 83.7h0M308.9 86.6h0M321.9 90.4h0M317.4 94.9h0M305.1 95.3h0M329.6 89.6h0M335.2 90.5h0M318.0 88.8h0M320.8 95.8h0M333.7 92.6h0M317.8 83.8h0M312.7 93.8h0M302.1 85.1h0M316.6 91.0h0M316.2 94.1h0M311.3 90.6h0M313.8 85.3h0M310.6 92.8h0M310.5 87.5h0M324.5 85.9h0M314.7 86.3h0M314.8 96.6h0M326.2 91.1h0M338.9 90.9h0M316.3 89.1h0M302.6 92.2h0M299.0 83.2h0M332.5 85.9h0M334.2 90.5h0M295.9 89.9h0M322.5 85.8h0M307.0 90.9h0M321.1 89.3h0M289.1 84.0h0M285.6 92.0h0M310.1 91.6h0M306.8 85.3h0M297.6 85.6h0M329.5 90.8h0M345.4 93.7h0M313.0 91.2h0M314.3 89.9h0M335.8 92.0h0M308.9 91.5h0M356.6 88.2h0M333.9 90.2h0M317.0 92.8h0M296.9 88.7h0M323.7 91.4h0M311.9 90.2h0M312.1 96.9h0M296.6 93.6h0M321.2 91.4h0M301.5 95.4h0M305.3 94.5h0M302.9 88.5h0M303.8 88.7h0M303.8 87.8h0M336.1 98.1h0M333.8 96.1h0M302.4 89.6h0M327.7 88.1h0M334.1 89.5h0M337.9 97.4h0M314.9 82.3h0M304.7 91.8h0M299.9 82.3h0M299.7 87.4h0M307.5 91.3h0M314.3 85.9h0M288.9 86.6h0M308.5 87.3h0M319.0 99.0h0M295.7 90.8h0M302.2 85.8h0M304.8 85.5h0M323.8 90.0h0M314.9 87.7h0M306.3 97.8h0M314.0 86.2h0M336.1 92.5h0M318.5 92.5h0M321.7 89.7h0M312.8 87.8h0M310.0 88.7h0M302.0 94.2h0M319.2 88.6h0M326.1 93.9h0M325.6 87.4h0M312.5 92.4h0M308.8 93.3h0M302.7 87.2h0M300.5 82.6h0M318.7 95.7h0M309.1 87.1h0M322.4 98.6h0M306.7 88.0h0M308.8 87.8h0M310.3 94.2h0M310.9 83.0h0M318.4 91.2h0M301.0 87.7h0M306.3 95.2h0M324.2 91.1h0M323.5 87.4h0M309.2 81.2h0M292.0 89.2h0M293.5 92.4h0M311.5 94.9h0M320.3 94.3h0M329.6 89.3h0M335.3 95.6h0M294.9 81.6h0M323.2 88.8h0M323.6 91.9h0M304.2 90.9h0M313.0 96.4h0M328.7 90.4h0M329.1 97.0h0M321.0 91.3h0M333.6 87.0h0M329.8 82.9h0M310.9 101.3h0M283.5 91.4h0M303.6 91.6h0M313.8 83.9h0M303.5 86.7h0M319.1 91.7h0M337.8 92.0h0M304.8 91.0h0M322.1 94.4h0M330.5 90.9h0M320.1 87.6h0M313.3 92.7h0M315.4 90.5h0M306.3 89.3h0M312.7 92.4h0M309.0 86.7h0M317.2 93.2h0M331.6 87.8h0M315.6 95.1h0M320.4 87.3h0M310.5 88.3h0M327.6 91.4h0M318.2 87.7h0M314.2 96.1h0M328.1 90.5h0M323.0 94.2h0M313.0 84.3h0M311.3 90.7h0M317.2 94.6h0M339.8 96.1h0M324.1 96.1h0M312.3 90.9h0M334.1 95.7h0M323.1 97.3h0M328.0 97.3h0M314.5 90.6h0M281.9 94.7h0M314.9 93.5h0M308.7 89.8h0M316.1 94.3h0M305.8 83.7h0M319.9 90.3h0M307.5 90.8h0M312.2 75.6h0M288.0 96.3h0M304.1 77.6h0M288.7 91.7h0M314.4 80.2h0M308.2 83.2h0M309.1 79.0h0M336.0 76.9h0M322.2 84.2h0M291.9 86.3h0M296.3 90.9h0M329.6 88.1h0M318.2 71.2h0M308.6 76.1h0M312.3 85.8h0M282.8 89.6h0M310.1 79.8h0M318.0 79.4h0M292.5 89.1h0M297.3 86.2h0M331.7 92.5h0M345.4 80.0h0M312.6 73.0h0M303.7 92.5h0M301.8 90.0h0M292.9 84.8h0M316.8 76.5h0M311.5 81.9h0M300.0 76.7h0M313.3 77.3h0M277.9 95.2h0M343.7 73.6h0M295.7 80.0h0M317.5 83.9h0M315.8 72.5h0M311.6 85.2h0M322.0 84.6h0M324.3 70.8h0M303.2 83.7h0M288.4 93.8h0M315.0 78.5h0M302.2 83.8h0M338.8 82.2h0M308.8 74.2h0M321.3 84.6h0M314.1 78.1h0M309.8 88.7h0M315.3 81.2h0M308.9 84.5h0M298.0 83.5h0M320.0 79.7h0M327.2 73.0h0M316.8 79.1h0M311.7 82.6h0M328.6 73.3h0M294.7 90.4h0M306.5 85.4h0M287.4 76.2h0M299.7 80.6h0M299.1 87.3h0M302.3 77.6h0M309.1 76.6h0M303.2 80.9h0M327.4 76.4h0M290.1 83.7h0M304.1 85.3h0M281.4 93.7h0M306.7 77.6h0M316.0 74.6h0M312.7 81.7h0M324.5 78.9h0M324.1 84.1h0M294.3 93.6h0M326.9 71.2h0M328.2 81.7h0M305.8 81.0h0M329.3 84.6h0M304.0 83.9h0M322.9 84.2h0M307.4 77.8h0M306.9 85.2h0M307.7 81.2h0M304.1 91.2h0M307.3 86.1h0M305.7 89.8h0M354.2 70.3h0M304.5 74.3h0M318.5 87.2h0M306.1 82.0h0M313.6 83.7h0M309.2 79.2h0M320.7 81.7h0M274.9 89.6h0M335.1 74.9h0M298.5 81.4h0M308.9 82.5h0M336.1 72.7h0M306.4 85.0h0M335.2 80.2h0M321.0 89.6h0M297.2 75.7h0M321.2 79.0h0M320.2 86.3h0M306.8 77.0h0M314.2 87.6h0M329.0 77.2h0M296.4 83.2h0M312.4 79.8h0M303.8 88.7h0M298.7 85.9h0M292.6 84.3h0M315.7 79.9h0M318.2 83.6h0M300.4 86.6h0M301.4 89.4h0M305.9 85.5h0M299.1 85.3h0M344.0 80.4h0M335.7 67.4h0M302.8 82.9h0M284.4 92.7h0M314.8 74.4h0M284.3 89.1h0M311.9 74.9h0M321.6 76.8h0M317.6 97.0h0M329.9 87.8h0M321.5 95.7h0M326.7 95.8h0M319.0 96.9h0M326.6 99.8h0M323.7 90.7h0M328.8 96.9h0M321.9 101.6h0M310.7 91.7h0M306.2 93.9h0M332.1 95.3h0M321.5 94.6h0M297.1 101.8h0M318.8 98.5h0M317.9 95.6h0M327.6 90.4h0M314.4 93.4h0M312.4 95.0h0M314.4 100.9h0M327.4 96.7h0M317.7 97.1h0M329.8 98.1h0M318.0 98.2h0M332.5 98.3h0M330.5 94.3h0M320.0 103.1h0M305.8 99.1h0M338.0 103.8h0M321.5 95.6h0M327.5 93.6h0M294.2 98.7h0M309.2 99.5h0M313.8 99.5h0M327.7 99.7h0M318.3 101.8h0M312.0 100.9h0M320.7 98.1h0M322.7 93.9h0M319.1 92.1h0M308.8 98.3h0M337.6 92.1h0M323.6 97.4h0M299.1 96.9h0M319.2 102.3h0M319.3 89.6h0M307.1 100.4h0M316.6 96.7h0M326.8 103.3h0M332.9 97.0h0M335.7 91.0h0M318.5 100.0h0M307.0 100.7h0M315.6 97.9h0M315.5 96.5h0M315.6 92.9h0M319.1 87.5h0M332.2 99.4h0M323.5 97.8h0M331.5 94.0h0M307.4 99.1h0M335.8 90.5h0M339.3 102.7h0M318.9 96.8h0M327.2 93.7h0M322.9 97.2h0M322.5 97.9h0M320.8 97.8h0M317.2 99.4h0M315.5 102.0h0M310.6 99.9h0M320.9 96.3h0M307.1 98.2h0M329.7 98.9h0M316.9 93.8h0M309.7 93.5h0M305.8 92.7h0M312.5 95.7h0M321.3 98.9h0M325.8 92.4h0M317.1 100.1h0M318.5 94.1h0M317.5 97.3h0M317.2 97.8h0M323.9 93.9h0M331.2 88.2h0M327.0 93.3h0M323.5 99.6h0M321.3 99.1h0M329.9 90.9h0M317.6 102.5h0M340.2 94.4h0M333.9 97.9h0M310.6 98.7h0M320.3 104.5h0M320.1 103.2h0M315.3 100.0h0M311.8 102.8h0M308.6 100.2h0M316.7 99.5h0M335.6 91.9h0M307.4 95.2h0M336.7 89.9h0M322.7 92.7h0M307.2 95.5h0M322.5 98.2h0M332.5 92.0h0M323.9 96.4h0M321.5 98.4h0M314.4 99.0h0M329.7 93.7h0M327.1 101.7h0M327.3 95.8h0M323.9 97.5h0M331.1 97.2h0M321.6 98.7h0M326.4 91.8h0M315.5 100.7h0M319.5 94.5h0M338.1 99.8h0M313.4 90.9h0M292.6 102.1h0M307.7 98.7h0M333.3 98.0h0M326.6 95.2h0M333.7 93.6h0M336.8 94.7h0M313.2 93.7h0M327.4 102.2h0M320.9 96.0h0M310.7 95.2h0M322.8 97.2h0M318.8 90.3h0M313.4 90.6h0M321.8 97.7h0M319.4 101.6h0M321.0 100.9h0M325.9 91.3h0M314.7 92.1h0M320.5 100.6h0M297.8 104.5h0M342.0 91.4h0M320.3 101.7h0M330.0 92.4h0M320.5 103.6h0M324.5 103.9h0M313.7 103.2h0M321.9 103.7h0M311.6 94.3h0M317.5 102.6h0" stroke="#b4b4b4" stroke-opacity="0.8" stroke-width="2.5" stroke-linecap="round" fill="none"/>
<path d="M302.9 91.1h0M319.9 90.4h0M293.2 96.3h0M321.5 93.5h0M321.9 86.7h0M322.9 90.3h0M304.5 89.4h0M289.1 90.8h0M296.1 86.9h0M316.3 95.8h0M302.4 92.2h0M333.3 89.5h0M300.5 86.5h0M335.2 89.5h0M327.0 89.4h0M312.5 86.9h0M319.0 88.6h0M328.1 91.4h0M297.2 90.5h0M331.0 96.3h0M319.2 90.5h0M322.2 91.2h0M309.4 92.0h0M338.3 101.5h0M309.3 88.1h0M307.7 90.9h0M327.7 95.8h0M293.1 91.1h0M328.8 96.9h0M312.9 90.0h0M328.2 92.6h0M316.5 88.3h0M322.7 94.8h0M333.7 95.2h0M303.4 84.5h0M313.6 93.0h0M329.4 86.0h0M316.3 90.4h0M291.1 86.7h0M315.8 85.9h0M306.2 87.2h0M299.1 90.2h0M337.7 91.7h0M307.7 86.5h0M314.9 87.8h0M326.6 93.5h0M299.7 88.8h0M324.1 92.3h0M324.8 88.5h0M320.6 98.9h0M339.6 98.5h0M339.0 92.4h0M318.6 87.9h0M326.2 91.0h0M323.0 100.9h0M314.0 88.8h0M331.8 84.9h0M309.7 94.2h0M336.6 88.2h0M287.2 92.3h0M320.7 89.7h0M315.5 93.9h0M314.8 90.2h0M320.4 91.8h0M302.9 87.5h0M309.9 95.7h0M333.8 89.1h0M327.9 95.5h0M322.5 87.8h0M316.0 81.2h0M299.9 89.4h0M325.7 89.3h0M301.3 92.6h0M306.1 88.3h0M338.2 90.0h0M324.8 87.8h0M291.5 93.7h0M322.9 88.6h0M301.3 94.2h0M299.0 90.2h0M323.8 89.9h0M302.3 90.1h0M311.6 91.9h0M313.0 91.0h0M310.1 93.4h0M321.5 92.7h0M329.1 100.4h0M319.0 86.3h0M321.3 95.2h0M312.0 90.6h0M322.3 88.5h0M318.3 92.6h0M305.9 87.7h0M314.2 89.6h0M314.9 87.9h0M332.3 96.2h0M314.0 92.0h0M313.9 89.6h0M308.6 84.7h0M302.8 91.6h0M305.8 90.4h0M316.8 89.4h0M290.6 93.0h0M306.5 88.1h0M296.8 90.1h0M303.6 87.9h0M334.5 90.6h0M292.1 84.4h0M320.6 89.7h0M301.7 95.3h0M318.0 82.7h0M301.8 94.6h0M307.9 88.8h0M332.6 93.0h0M334.2 93.2h0M306.2 89.0h0M307.8 87.2h0M306.2 90.5h0M318.7 84.8h0M317.0 87.1h0M322.8 81.4h0M336.1 96.4h0M326.6 83.4h0M306.8 88.1h0M321.1 91.7h0M320.8 94.7h0M319.1 87.7h0M315.2 91.9h0M314.4 98.8h0M313.3 84.9h0M330.5 94.2h0M345.4 94.7h0M322.1 92.2h0M305.9 92.5h0M321.8 85.3h0M298.4 80.8h0M327.2 88.9h0M300.9 94.0h0M320.6 93.7h0M315.0 88.0h0M283.1 82.3h0M320.8 91.2h0M325.2 90.5h0M326.0 92.9h0M320.5 91.7h0M320.3 89.1h0M326.2 91.1h0M319.3 95.6h0M311.2 91.9h0M303.6 81.7h0M343.2 101.6h0M342.4 91.8h0M307.4 90.0h0M330.0 88.8h0M285.9 90.6h0M317.0 89.1h0M326.2 93.0h0M316.8 93.5h0M317.4 87.3h0M310.5 98.5h0M318.2 92.6h0M300.0 87.8h0M332.4 90.9h0M307.1 89.9h0M326.4 89.2h0M312.5 97.2h0M321.4 91.8h0M327.4 81.5h0M321.9 99.5h0M323.0 93.0h0M317.4 88.1h0M330.7 84.1h0M326.6 88.3h0M291.6 93.5h0M317.8 93.8h0M307.4 89.7h0M291.2 98.0h0M321.9 90.7h0M321.0 89.1h0M324.3 89.1h0M304.5 93.3h0M329.9 88.5h0M333.2 91.3h0M334.0 94.1h0M307.0 88.9h0M321.4 91.9h0M317.9 93.1h0M319.0 96.8h0M314.1 94.9h0M303.9 85.0h0M301.9 91.6h0M323.6 91.8h0M313.6 99.7h0M316.7 82.8h0M290.8 88.4h0M304.9 91.7h0M316.7 90.2h0M318.5 90.8h0M330.5 89.6h0M338.4 88.9h0M317.4 90.3h0M307.7 92.8h0M309.2 87.0h0M307.2 88.1h0M327.8 90.7h0M306.1 91.0h0M323.4 91.2h0M292.0 89.4h0M312.8 81.8h0M328.9 88.1h0M306.5 93.0h0M317.0 91.5h0M295.5 84.6h0M315.2 96.2h0M303.8 95.5h0M324.8 88.3h0M307.7 97.4h0M307.3 90.8h0M341.1 86.4h0M313.4 94.7h0M312.3 90.1h0M305.2 93.5h0M326.2 93.5h0M310.2 98.2h0M306.0 93.6h0M318.9 96.8h0M305.3 93.0h0M317.1 94.6h0M326.7 85.9h0M295.2 91.4h0M288.5 84.8h0M341.4 84.6h0M328.1 91.1h0M318.2 84.9h0M308.0 88.9h0M298.7 89.2h0M324.7 97.5h0M320.8 94.1h0M307.5 89.4h0M310.1 86.6h0M337.5 95.1h0M330.2 86.1h0M309.4 92.9h0M310.6 88.9h0M297.5 94.1h0M321.2 85.7h0M305.4 91.4h0M307.8 90.1h0M339.3 91.7h0M305.4 87.7h0M332.1 90.7h0M300.1 90.4h0M301.4 83.9h0M318.2 87.1h0M320.9 94.5h0M302.0 95.7h0M300.0 95.0h0M325.1 90.3h0M302.5 95.8h0M309.1 95.3h0M315.3 92.6h0M308.0 93.5h0M310.5 86.9h0M330.4 89.9h0M327.0 93.4h0M329.3 92.0h0M316.1 90.4h0M336.8 87.9h0M314.0 93.2h0M314.1 92.4h0M314.0 81.2h0M317.0 92.3h0M310.3 90.5h0M328.8 86.2h0M297.9 85.7h0M346.9 88.6h0M338.7 92.9h0M300.9 86.2h0M324.8 91.3h0M338.2 90.1h0M328.6 96.9h0M293.3 92.0h0M299.8 93.6h0M318.5 95.0h0M290.9 93.5h0M317.9 88.7h0M302.2 87.7h0M329.1 88.2h0M312.2 90.8h0M305.7 91.6h0M328.6 100.2h0M318.4 90.4h0M318.8 91.7h0M314.1 86.0h0M307.7 89.8h0M314.4 87.3h0M319.4 96.8h0M315.8 99.7h0M323.7 89.2h0M315.3 88.8h0M343.4 90.2h0M323.7 88.1h0M303.7 89.3h0M315.6 89.6h0M313.5 87.0h0M322.2 87.4h0M340.3 89.2h0M314.4 88.3h0M323.5 89.5h0M317.1 91.0h0M322.6 95.2h0M308.5 91.4h0M319.6 90.3h0M299.6 93.9h0M313.4 94.6h0M328.8 97.7h0M321.8 93.3h0M303.0 86.7h0M329.5 87.5h0M299.1 85.9h0M299.1 90.5h0M317.3 89.4h0M312.2 93.0h0M313.1 92.4h0M299.8 90.0h0M293.5 93.9h0M328.7 99.3h0M290.7 84.3h0M281.7 85.2h0M329.4 90.0h0M306.6 93.1h0M321.8 90.9h0M324.5 98.5h0M310.4 93.3h0M301.3 90.7h0M327.3 88.0h0M307.7 91.0h0M312.5 88.0h0M298.1 92.4h0M303.9 93.1h0M302.2 86.9h0M300.9 91.7h0M317.4 89.8h0M295.4 87.7h0M321.4 88.3h0M321.5 95.2h0M319.2 96.8h0M316.5 95.8h0M320.3 98.5h0M313.0 93.8h0M320.6 98.2h0M325.1 87.5h0M328.3 97.4h0M318.8 90.9h0M299.5 90.6h0M296.4 82.7h0M301.5 87.4h0M298.2 88.1h0M320.2 88.2h0M330.3 95.1h0M320.7 88.5h0M302.9 94.0h0M295.7 86.5h0M324.1 95.4h0M313.0 85.4h0M320.2 89.6h0M291.2 90.7h0M316.3 94.2h0M337.3 87.2h0M340.2 89.4h0M314.8 89.7h0M319.2 93.9h0M315.4 87.2h0M292.2 89.1h0M325.3 91.9h0M311.0 89.9h0M318.6 88.2h0M326.0 86.5h0M292.0 87.3h0M291.7 83.2h0M308.3 90.0h0M308.3 88.5h0M298.9 90.5h0M304.8 91.7h0M306.7 85.5h0M313.5 89.5h0M312.2 87.0h0M321.8 88.9h0M298.8 87.2h0M309.2 92.3h0M318.4 90.7h0M325.5 90.5h0M312.8 93.5h0M326.0 96.9h0M324.0 90.4h0M314.8 92.4h0M313.7 89.2h0M313.1 97.8h0M301.0 88.3h0M308.0 97.0h0M305.5 91.2h0M312.2 88.8h0M301.0 90.6h0M325.2 87.6h0M324.0 86.4h0M322.8 89.2h0M321.3 85.7h0M309.8 88.9h0M332.4 88.7h0M307.2 89.5h0M294.0 96.1h0M336.6 90.7h0M331.4 98.6h0M311.0 88.5h0M298.4 84.9h0M323.3 96.5h0M320.8 88.5h0M283.1 85.9h0M314.7 91.1h0M310.9 85.3h0M302.8 96.3h0M303.9 91.7h0M342.4 93.6h0M316.5 92.1h0M328.8 92.7h0M323.0 90.8h0M303.1 86.8h0M320.9 89.6h0M314.7 89.2h0M317.3 86.1h0M310.6 89.8h0M315.1 92.7h0M308.7 89.1h0M315.5 92.1h0M317.3 87.9h0M326.3 94.8h0M303.0 85.0h0M312.3 99.8h0M292.8 91.8h0M319.7 87.3h0M332.5 87.4h0M309.6 89.2h0M316.8 91.1h0M315.9 91.8h0M307.4 90.2h0M325.0 89.8h0M320.7 88.0h0M331.6 91.4h0M321.7 90.6h0M313.6 86.0h0M294.4 92.3h0M308.0 88.2h0M307.6 84.5h0M302.4 91.5h0M302.7 89.9h0M340.7 91.7h0M317.1 89.7h0M325.6 92.6h0M281.7 94.6h0M328.2 89.7h0M320.0 88.5h0M294.4 94.4h0M310.6 91.5h0M320.8 86.8h0M305.0 84.9h0M327.2 90.0h0M306.8 92.1h0M319.2 91.1h0M318.8 89.3h0M298.3 91.3h0M314.3 93.7h0M319.8 101.2h0M316.0 90.5h0M324.0 91.4h0M328.9 89.9h0M319.6 89.2h0M316.5 93.6h0M319.3 95.0h0M331.7 89.5h0M290.6 85.2h0M313.8 86.8h0M302.5 78.8h0M321.7 93.3h0M288.0 88.9h0M291.5 93.4h0M320.1 92.9h0M341.3 85.6h0M321.2 89.8h0M309.3 98.1h0M313.5 91.7h0M353.7 91.2h0M323.7 88.3h0M308.6 90.6h0M322.1 81.6h0M314.4 89.4h0M313.6 90.4h0M301.5 100.1h0M284.8 84.6h0M316.1 90.9h0M308.0 88.6h0M318.2 91.6h0M301.1 81.1h0M280.2 95.8h0M311.8 94.3h0M303.8 93.7h0M294.7 88.9h0M328.9 93.5h0M326.0 85.2h0M317.4 91.8h0M320.4 88.8h0M309.6 90.1h0M292.1 88.9h0M305.5 90.8h0M319.9 86.5h0M310.6 88.2h0M318.8 87.3h0M303.4 89.0h0M319.3 94.3h0M334.7 92.8h0M315.3 94.5h0M331.8 90.8h0M288.3 88.3h0M304.7 95.7h0M317.5 97.3h0M319.2 90.1h0M311.3 94.8h0M338.4 92.0h0M353.1 92.2h0M325.1 95.0h0M330.2 96.5h0M302.8 91.1h0M317.5 93.3h0M302.0 91.0h0M309.6 84.9h0M290.1 87.1h0M318.0 92.1h0M319.5 95.2h0M318.6 92.8h0M321.5 100.1h0M311.9 92.7h0M312.3 88.1h0M324.5 93.0h0M312.3 90.1h0M326.7 89.1h0M317.9 92.7h0M311.8 87.4h0M289.4 88.9h0M311.2 82.9h0M287.6 95.2h0M307.8 87.0h0M313.4 89.4h0M303.1 92.6h0M326.2 87.8h0M329.6 83.7h0M318.2 89.7h0M325.4 88.5h0M319.0 87.4h0M287.9 89.7h0M297.2 92.5h0M327.4 90.7h0M306.6 91.7h0M315.3 85.8h0M319.4 94.2h0M327.1 92.8h0M311.7 92.6h0M297.8 81.2h0M319.9 99.1h0M327.5 96.8h0M333.5 92.9h0M332.3 95.1h0M325.0 97.1h0M320.8 91.7h0M315.8 88.4h0M306.9 95.9h0M337.2 94.4h0M305.6 86.2h0M321.0 90.9h0M310.3 88.4h0M323.5 89.7h0M328.9 87.6h0M326.5 92.3h0M303.0 87.6h0M318.5 92.9h0M292.5 87.9h0M324.8 94.7h0M330.7 89.2h0M306.4 93.1h0M291.9 82.1h0M294.6 87.9h0M311.7 88.9h0M311.3 91.2h0M315.7 94.0h0M321.3 96.4h0M313.5 88.6h0M324.7 87.8h0M313.2 89.6h0M319.1 88.1h0M322.5 89.4h0M322.8 83.4h0M311.9 88.7h0M315.0 93.8h0M308.0 92.6h0M296.4 82.9h0M315.3 96.5h0M294.3 97.6h0M334.4 94.0h0M325.0 84.4h0M322.6 88.7h0M306.5 94.7h0M320.7 98.0h0M336.8 96.6h0M328.4 87.2h0M295.8 94.2h0M299.3 99.2h0M320.8 93.9h0M327.8 90.0h0M321.8 89.5h0M319.4 84.6h0M336.6 90.6h0M300.8 94.5h0M318.6 83.6h0M319.7 91.2h0M311.2 94.6h0M322.0 85.5h0M318.1 88.2h0M342.1 94.8h0M340.3 91.4h0M324.2 86.8h0M298.0 83.8h0M327.4 86.1h0M291.3 88.7h0M317.3 88.2h0M328.4 92.0h0M316.2 90.5h0M325.7 97.1h0M325.0 89.9h0M317.4 88.3h0M320.8 89.3h0M310.4 90.1h0M305.4 95.6h0M332.4 85.3h0M316.5 87.2h0M320.3 90.7h0M316.6 82.3h0M323.6 92.7h0M334.7 92.7h0M332.5 87.6h0M292.5 92.2h0M318.6 90.4h0M314.7 91.7h0M309.7 92.7h0M311.4 89.4h0M307.5 88.2h0M315.0 91.3h0M300.8 90.7h0M312.3 97.3h0M304.3 96.9h0M296.1 87.9h0M326.3 89.1h0M336.1 102.1h0M324.0 90.9h0M319.0 98.8h0M307.8 85.7h0M296.6 91.0h0M302.5 99.3h0M324.7 91.0h0M307.3 95.8h0M334.1 90.7h0M299.1 93.1h0M316.8 90.7h0M334.0 92.8h0M310.5 87.0h0M325.5 92.7h0M329.0 96.8h0M321.0 92.4h0M318.4 89.7h0M315.6 89.5h0M301.4 85.7h0M308.7 90.8h0M315.7 93.5h0M305.7 93.7h0M315.1 89.9h0M320.1 90.0h0M318.4 90.1h0M323.0 90.1h0M318.7 92.4h0M320.7 93.0h0M314.2 92.3h0M310.7 89.2h0M306.0 94.1h0M316.3 86.5h0M334.6 93.8h0M317.3 86.0h0M308.3 89.8h0M299.1 86.9h0M283.8 90.1h0M319.1 93.2h0M309.1 87.1h0M327.4 85.5h0M296.2 92.2h0M318.9 89.4h0M315.6 88.6h0M301.5 96.5h0M341.7 89.4h0M340.1 93.6h0M306.1 94.1h0M323.5 98.8h0M307.5 91.5h0M295.8 90.8h0M304.0 96.2h0M310.0 92.5h0M323.2 91.9h0M313.7 94.3h0M317.0 88.1h0M329.7 89.2h0M307.5 89.6h0M292.4 82.8h0M305.5 99.7h0M322.4 95.7h0M330.6 91.1h0M324.0 86.2h0M317.3 91.0h0M306.9 86.6h0M319.9 90.5h0M313.0 84.2h0M329.6 93.6h0M312.9 93.4h0M322.1 85.7h0M306.3 94.6h0M308.5 92.6h0M335.0 90.6h0M294.1 95.2h0M319.9 88.8h0M317.9 94.1h0M318.3 90.4h0M306.6 89.9h0M311.5 95.2h0M305.1 90.1h0M309.7 96.8h0M310.4 91.8h0M342.7 93.1h0M334.2 89.1h0M342.2 86.8h0M318.7 90.1h0M324.9 85.7h0M321.1 91.5h0M283.3 87.8h0M314.1 92.8h0M309.7 88.2h0M321.7 93.8h0M294.1 86.5h0M293.3 94.8h0M313.6 87.2h0M318.8 82.9h0M315.8 82.5h0M318.6 93.6h0M303.6 91.1h0M319.9 92.5h0M339.5 89.7h0M320.0 98.5h0M313.5 90.0h0M314.3 93.3h0M308.2 85.6h0M305.0 83.4h0M300.2 90.7h0M306.9 87.8h0M331.5 90.5h0M291.4 90.8h0M317.7 93.5h0M307.5 98.8h0M321.0 86.8h0M331.2 91.6h0M316.4 98.4h0M287.5 89.7h0M308.2 91.3h0M314.2 87.8h0M326.5 91.3h0M306.9 90.7h0M310.9 96.8h0M318.6 91.6h0M320.4 96.5h0M303.6 84.9h0M306.8 92.6h0M308.7 86.5h0M284.1 88.6h0M317.3 89.7h0M304.2 88.8h0M313.5 91.0h0M326.2 93.2h0M311.9 99.8h0M298.6 93.1h0M317.4 89.3h0M300.0 89.6h0M331.3 93.9h0M317.1 93.8h0M304.9 91.1h0M323.1 90.9h0M324.2 90.2h0M287.4 92.2h0M314.5 98.2h0M286.0 95.4h0M310.1 95.7h0M299.0 98.8h0M314.6 88.1h0M318.0 89.0h0M313.4 91.7h0M327.6 94.9h0M328.9 93.9h0M337.8 91.7h0M298.5 87.2h0M343.1 94.5h0M333.5 95.5h0M305.9 84.7h0M304.6 90.1h0M327.6 86.3h0M319.8 91.7h0M324.4 94.2h0M327.0 88.9h0M295.1 83.8h0M322.6 97.1h0M308.5 90.2h0M330.7 91.9h0M315.0 84.0h0M317.5 91.6h0M298.4 82.9h0M320.7 87.1h0M317.0 93.7h0M336.4 93.0h0M337.9 87.1h0M291.6 88.2h0M302.5 91.5h0M313.5 87.2h0M324.1 93.6h0M327.2 92.2h0M322.3 89.0h0M294.6 83.0h0M303.7 86.4h0M316.5 90.7h0M324.7 96.0h0M314.6 91.0h0M313.3 91.0h0M323.4 91.0h0M311.9 83.1h0M313.3 92.1h0M313.9 88.7h0M332.7 91.9h0M297.5 83.8h0M295.3 93.5h0M301.2 87.8h0M315.2 93.6h0M306.0 88.2h0M300.4 88.9h0M324.8 89.6h0M284.9 90.1h0M331.7 94.7h0M325.5 95.7h0M311.8 89.2h0M308.2 94.0h0M317.0 87.2h0M309.7 88.1h0M308.1 89.6h0M327.1 88.8h0M318.7 93.9h0M308.2 90.3h0M334.3 90.1h0M297.1 93.0h0M308.9 80.4h0M326.8 95.4h0M300.9 86.4h0M326.0 91.4h0M332.9 92.7h0M303.3 89.9h0M312.2 86.4h0M304.8 91.0h0M315.0 82.3h0M308.8 97.2h0M308.0 88.0h0M317.1 84.4h0M314.2 89.5h0M298.8 98.6h0M320.7 97.0h0M308.4 98.2h0M301.3 80.9h0M321.7 93.8h0M316.6 94.5h0M306.7 92.1h0M299.8 85.6h0M333.8 91.0h0M322.7 92.7h0M306.4 85.7h0M309.8 87.0h0M316.3 83.6h0M321.5 97.7h0M326.6 90.2h0M302.7 91.4h0M277.3 84.8h0M319.5 90.1h0M310.2 94.9h0M297.2 84.7h0M302.5 93.4h0M328.9 87.9h0M307.8 87.2h0M304.9 95.1h0M291.5 87.9h0M333.6 93.1h0M323.4 86.5h0M308.9 92.1h0M297.2 89.5h0M298.3 94.4h0M295.3 92.5h0M311.3 92.1h0M313.4 93.7h0M341.6 91.3h0M320.4 93.0h0M319.4 90.5h0M309.7 82.3h0M317.8 93.9h0M339.3 87.4h0M310.4 94.6h0M310.7 84.6h0M316.3 88.3h0M335.9 90.8h0M302.9 85.3h0M327.4 93.5h0M300.7 84.7h0M302.8 86.9h0M314.2 83.8h0M316.6 94.0h0M297.2 87.9h0M307.6 90.6h0M321.7 86.7h0M290.5 89.9h0M316.7 95.7h0M313.5 93.4h0M331.7 89.5h0M334.5 87.5h0M314.7 89.2h0M299.2 85.4h0M311.9 89.1h0M335.8 90.4h0M342.7 88.1h0M321.9 94.9h0M306.1 94.5h0M318.3 92.1h0M302.2 94.0h0M310.0 96.5h0M328.5 90.9h0M309.8 93.3h0M330.3 87.5h0M309.4 88.9h0M304.1 90.8h0M325.9 92.0h0M313.7 89.0h0M294.6 87.6h0M340.1 95.0h0M288.1 86.8h0M320.3 91.9h0M325.0 88.3h0M321.9 89.8h0M314.7 88.1h0M327.1 92.7h0M308.9 95.2h0M305.2 89.2h0M334.6 88.3h0M294.4 90.0h0M341.7 93.0h0M308.2 92.2h0M337.2 88.3h0M295.2 88.5h0M303.3 94.9h0M303.8 88.7h0M300.9 92.1h0M329.1 91.7h0M337.3 94.5h0M310.1 87.3h0M318.4 89.1h0M326.3 86.5h0M311.5 87.9h0M340.2 91.4h0M314.8 90.0h0M315.1 87.8h0M332.4 86.5h0M292.5 91.9h0M322.1 85.7h0M335.5 95.0h0M324.1 89.3h0M335.3 94.3h0M328.5 88.2h0M319.6 89.6h0M293.4 87.6h0M327.3 89.5h0M293.5 86.1h0M302.0 90.0h0M323.4 91.3h0M293.3 86.5h0M313.0 91.0h0M302.8 91.2h0M320.2 95.9h0M315.0 92.0h0M327.3 98.4h0M316.1 96.0h0M329.0 94.0h0M309.9 100.3h0M306.2 99.1h0M315.6 91.8h0M317.8 85.2h0M336.2 93.7h0M301.7 84.7h0M324.9 91.0h0M302.0 87.4h0M322.1 88.8h0M307.7 90.6h0M318.2 93.5h0M317.1 97.3h0M329.3 98.8h0M305.4 91.6h0M322.1 93.0h0M315.9 94.1h0M317.8 93.0h0M334.0 88.9h0M301.4 96.7h0M315.9 84.3h0M323.6 88.6h0M310.1 87.9h0M341.5 96.2h0M314.5 89.1h0M329.5 91.8h0M327.8 87.7h0M304.3 90.6h0M327.9 93.3h0M324.0 94.0h0M297.9 85.1h0M322.4 84.9h0M305.4 87.7h0M310.8 89.3h0M328.0 91.9h0M301.4 92.7h0M281.2 85.8h0M302.2 84.9h0M299.5 91.2h0M293.9 84.2h0M309.7 92.8h0M307.5 92.6h0M320.5 94.9h0M307.6 93.6h0M296.9 91.1h0M328.7 91.1h0M317.0 85.2h0M293.7 92.9h0M317.1 91.6h0M320.6 84.8h0M316.0 93.5h0M316.4 96.2h0M298.0 91.2h0M324.6 89.3h0M330.7 87.4h0M311.5 83.0h0M305.7 91.5h0M311.2 88.4h0M314.1 90.2h0M310.5 89.2h0M309.5 86.3h0M319.0 95.7h0M310.3 91.7h0M316.0 86.3h0M321.2 86.2h0M324.7 90.5h0M316.4 92.5h0M316.2 95.1h0M296.3 81.9h0M333.2 86.8h0M320.6 91.5h0M296.8 86.7h0M291.8 88.6h0M337.1 88.3h0M319.9 91.5h0M327.0 93.2h0M323.8 92.6h0M316.6 88.9h0M288.3 84.9h0M340.0 86.4h0M300.0 90.0h0M324.3 94.0h0M290.5 93.0h0M326.2 91.0h0M327.8 93.5h0M308.2 84.8h0M320.6 88.1h0M316.3 89.2h0M298.5 90.6h0M293.3 89.6h0M299.9 88.2h0M320.3 91.4h0M304.6 92.3h0M311.6 86.6h0M315.4 88.0h0M317.2 84.3h0M335.0 92.3h0M336.0 89.0h0M310.5 91.8h0M314.0 92.7h0M293.1 87.3h0M325.7 92.3h0M307.3 93.1h0M308.7 85.7h0M311.2 84.2h0M319.1 88.9h0M315.6 94.7h0M289.1 85.8h0M307.3 88.5h0M299.7 89.0h0M314.0 90.9h0M320.5 84.4h0M312.6 87.4h0M311.3 92.2h0M322.3 95.6h0M312.7 89.8h0M308.0 93.4h0M327.0 101.1h0M346.5 86.7h0M287.6 86.2h0M306.8 90.6h0M300.3 90.5h0M338.1 90.1h0M316.2 92.8h0M306.0 96.5h0M319.9 89.4h0M302.5 91.5h0M333.8 98.0h0M322.1 89.2h0M309.1 91.0h0M311.9 88.8h0M328.6 85.7h0M293.7 90.4h0M328.8 96.3h0M318.3 94.0h0M320.6 95.4h0M339.1 87.5h0M321.7 96.5h0M316.2 93.0h0M332.1 95.2h0M318.8 96.5h0M297.5 84.2h0M282.9 91.1h0M319.1 92.7h0M333.3 91.9h0M310.5 88.0h0M301.9 91.7h0M334.7 93.4h0M324.2 88.5h0M315.3 90.1h0M307.3 94.7h0M311.6 94.8h0M308.7 92.1h0M306.9 90.3h0M326.8 91.3h0M300.1 83.2h0M294.6 93.6h0M320.3 91.8h0M314.8 90.0h0M288.5 93.7h0M328.0 91.0h0M316.5 85.1h0M310.9 93.9h0M292.8 88.1h0M279.0 90.4h0M291.6 92.4h0M308.4 91.5h0M303.5 92.5h0M314.0 84.0h0M315.3 95.9h0M284.2 94.9h0M317.2 87.0h0M321.6 87.9h0M329.3 88.4h0M308.9 93.7h0M295.7 89.0h0M288.9 92.1h0M300.5 94.6h0M327.5 92.9h0M319.5 91.2h0M332.0 94.0h0M330.2 90.8h0M326.5 92.3h0M324.5 91.2h0M309.5 85.7h0M301.6 90.8h0M313.0 96.5h0M307.3 92.8h0M308.4 87.6h0M328.1 91.3h0M316.5 92.7h0M305.5 90.7h0M328.0 91.9h0M319.3 99.5h0M309.5 87.5h0M329.8 91.6h0M296.7 86.8h0M313.5 95.6h0M307.0 80.9h0M315.8 73.5h0M301.0 81.9h0M314.8 78.3h0M279.5 87.2h0M309.4 82.9h0M313.2 74.5h0M308.9 77.8h0M303.2 79.2h0M308.5 89.5h0M316.8 72.0h0M318.7 78.1h0M305.9 82.3h0M330.8 74.8h0M320.7 90.2h0M305.0 87.3h0M317.1 78.3h0M309.9 86.7h0M321.1 78.5h0M295.4 89.3h0M330.6 74.6h0M322.9 82.3h0M311.8 89.3h0M310.3 86.6h0M313.6 73.8h0M360.9 74.8h0M323.8 82.5h0M307.4 81.0h0M300.2 79.5h0M275.4 94.6h0M285.0 87.1h0M298.6 81.9h0M298.0 90.8h0M291.8 87.8h0M303.2 72.3h0M307.6 77.1h0M322.5 78.0h0M319.8 84.4h0M309.3 79.9h0M284.9 92.4h0M307.1 71.3h0M327.6 81.7h0M320.6 76.0h0M306.3 90.2h0M314.9 82.2h0M316.0 83.5h0M321.8 77.1h0M311.8 82.7h0M318.5 83.1h0M321.9 78.2h0M292.5 86.8h0M320.0 88.3h0M285.8 98.2h0M310.9 88.9h0M322.8 75.1h0M320.4 81.7h0M323.9 84.5h0M311.9 89.1h0M318.0 78.9h0M300.8 86.6h0M273.5 97.2h0M288.1 85.6h0M316.4 87.2h0M300.0 85.5h0M325.2 90.1h0M336.7 76.3h0M316.8 77.3h0M311.9 78.5h0M280.4 92.5h0M324.5 82.6h0M294.0 86.3h0M304.0 91.0h0M319.3 87.5h0M320.8 73.6h0M322.9 77.4h0M309.2 83.7h0M314.4 83.9h0M305.5 83.4h0M334.6 73.4h0M307.3 86.6h0M300.2 77.6h0M307.5 87.2h0M304.7 69.6h0M281.8 87.2h0M289.3 85.9h0M299.7 75.0h0M296.6 80.8h0M326.6 84.2h0M298.7 91.0h0M310.9 93.1h0M324.7 86.0h0M296.4 79.0h0M303.6 88.4h0M303.2 84.4h0M310.7 87.9h0M312.9 84.0h0M296.5 89.6h0M313.3 90.0h0M299.4 80.3h0M288.6 90.2h0M318.2 94.1h0M295.5 91.5h0M312.0 87.0h0M339.8 71.2h0M299.5 89.1h0M302.1 84.0h0M340.0 72.8h0M316.3 78.4h0M295.9 81.7h0M297.4 86.8h0M320.2 83.0h0M302.8 89.1h0M305.7 91.4h0M313.3 79.1h0M309.9 79.5h0M317.4 89.1h0M320.8 78.1h0M313.9 92.9h0M311.5 79.9h0M333.2 87.9h0M323.2 85.8h0M299.1 86.2h0M304.7 77.0h0M298.1 86.8h0M312.3 79.2h0M315.3 81.5h0M322.6 82.6h0M330.7 99.0h0M326.1 99.2h0M320.1 98.9h0M312.6 101.6h0M332.1 96.7h0M322.8 92.7h0M327.9 90.9h0M316.5 100.5h0M319.1 88.7h0M312.2 103.9h0M313.5 101.2h0M336.8 91.1h0M321.0 102.2h0M307.9 98.1h0M312.3 105.5h0M331.3 93.1h0M324.8 100.3h0M319.0 100.8h0M322.6 92.3h0M346.8 93.5h0M327.1 95.1h0M319.0 92.4h0M322.1 91.5h0M312.3 98.4h0M323.4 94.2h0M318.3 92.8h0M318.2 91.8h0M330.3 89.6h0M303.8 91.4h0M321.1 98.8h0M330.6 93.6h0M324.1 98.2h0M325.0 93.4h0M322.1 101.4h0M315.6 99.2h0M326.2 93.7h0M318.7 100.1h0M312.8 97.6h0M328.4 98.1h0M344.4 94.0h0M316.6 99.7h0M327.2 98.2h0M324.7 98.7h0M331.5 107.0h0M310.9 95.0h0M329.7 100.6h0M331.7 95.5h0M320.1 89.8h0M319.6 88.1h0M318.6 98.5h0M320.7 87.3h0M316.7 97.3h0M317.8 95.3h0M321.3 92.4h0M324.8 97.5h0M334.8 95.6h0M316.7 93.4h0M333.6 85.1h0M306.0 101.8h0M319.0 91.8h0M327.1 98.0h0M325.3 97.2h0M329.4 96.0h0M320.4 92.5h0M325.1 95.2h0M327.3 102.8h0M345.0 91.7h0M332.9 92.5h0M313.7 96.9h0M340.5 91.9h0M321.1 101.2h0M300.2 99.6h0M310.7 99.6h0M324.0 101.9h0M312.1 97.3h0M326.0 97.2h0M323.6 99.5h0M304.6 96.8h0M319.9 96.4h0M330.7 91.7h0M340.0 93.8h0M318.8 98.8h0M318.4 93.0h0M337.4 96.2h0M333.2 94.3h0M322.7 99.4h0M322.3 98.1h0M325.2 95.8h0M319.4 94.3h0M331.8 94.6h0M321.7 95.5h0M328.4 98.1h0M303.2 98.9h0M315.4 93.9h0M301.6 96.5h0M316.0 95.6h0M330.8 92.6h0M305.2 100.7h0M322.3 95.0h0M303.2 97.8h0M335.0 94.9h0M323.4 97.5h0M329.4 97.1h0M314.3 105.7h0M331.3 95.7h0M316.8 92.7h0M317.0 96.1h0M322.4 95.2h0M311.3 98.4h0M309.1 96.0h0M331.0 96.0h0M308.8 93.8h0M325.0 93.2h0M344.4 97.3h0M322.4 97.3h0M331.5 93.4h0M328.3 96.5h0M310.7 95.5h0M328.5 98.0h0M318.0 100.9h0M334.7 94.0h0M330.3 95.9h0M326.5 89.9h0M316.3 101.5h0M330.6 96.2h0M321.6 94.0h0M310.4 99.7h0M303.9 88.0h0M308.6 97.6h0M309.4 97.5h0M334.2 91.6h0M324.8 92.3h0M308.5 90.4h0M332.9 92.2h0M313.5 97.1h0M326.4 93.9h0M348.1 96.6h0M310.4 100.1h0M323.8 96.8h0M328.7 100.6h0M323.7 99.6h0M334.4 97.6h0M321.4 95.1h0M319.9 93.8h0M310.3 96.0h0M315.9 91.5h0M304.7 87.5h0M335.0 89.0h0M312.3 98.0h0M304.6 93.7h0" stroke="#b4b4b4" stroke-opacity="0.8" stroke-width="2.5" stroke-linecap="round" fill="none"/>
<path d="M324.0 84.5h0M321.6 86.3h0M314.9 80.9h0M320.1 83.7h0M328.6 73.3h0M317.4 77.1h0M312.8 82.6h0M329.1 80.0h0M317.5 78.0h0M319.9 86.3h0M320.5 78.2h0M323.6 73.2h0M316.9 78.9h0M336.1 86.4h0M331.0 80.1h0M333.2 74.4h0M337.6 80.3h0M313.1 81.9h0M325.5 80.8h0M320.2 77.1h0M329.1 83.6h0M335.8 85.7h0M311.8 86.6h0M330.2 72.0h0M319.0 79.7h0M316.6 80.5h0M310.5 84.4h0M333.0 86.6h0M317.5 80.5h0M314.6 76.5h0M324.8 75.4h0M319.7 78.1h0M328.4 77.7h0M338.1 83.5h0M315.5 77.0h0M334.0 77.9h0M314.5 86.0h0M329.0 73.3h0M329.1 74.3h0M332.1 86.5h0M329.2 72.3h0M326.5 77.1h0M320.7 86.5h0M312.5 81.1h0M318.5 73.1h0M322.3 77.2h0M329.7 74.0h0M322.2 71.9h0M323.0 86.5h0M335.6 86.3h0M319.6 83.9h0M323.6 78.2h0M329.5 75.0h0M335.7 81.0h0M335.0 80.1h0M311.2 82.4h0M324.5 73.5h0M312.4 85.1h0M317.5 80.7h0M336.3 81.6h0M329.5 81.6h0M328.6 73.0h0M325.8 82.0h0M322.4 83.6h0M329.6 80.7h0M328.7 76.3h0M321.8 82.4h0M331.6 73.8h0M314.0 79.3h0M322.8 85.5h0M315.7 76.4h0M321.9 80.6h0M325.8 74.8h0M328.7 85.8h0M320.3 81.8h0M322.4 82.4h0M312.4 82.7h0M329.3 72.7h0M332.3 73.7h0M326.3 81.8h0M331.8 85.4h0M317.6 82.3h0M329.7 72.1h0M315.4 77.4h0M320.1 84.2h0M325.8 79.9h0M323.2 84.5h0M314.5 79.8h0M321.7 80.6h0M314.1 84.5h0M311.0 81.0h0M335.3 81.9h0M314.9 76.0h0M335.4 83.5h0M319.7 81.6h0M312.5 85.9h0M336.1 83.1h0M333.2 81.9h0M337.7 81.4h0M320.5 75.4h0M327.9 79.7h0M333.9 86.5h0M334.0 84.8h0M332.3 84.4h0M310.9 86.5h0M319.3 84.8h0M321.1 75.1h0M316.9 74.8h0M321.3 77.6h0M315.0 80.9h0M327.6 73.4h0M311.9 84.4h0M332.0 73.7h0M329.4 73.4h0M335.1 76.9h0M323.6 83.2h0M336.0 83.1h0M322.7 80.9h0M310.0 84.9h0M323.7 77.3h0M327.6 74.6h0M312.9 81.4h0M328.2 72.6h0M327.7 86.5h0M326.7 76.7h0M325.9 78.9h0M332.6 78.5h0M337.7 83.5h0M320.7 77.0h0M320.1 72.1h0M313.7 83.3h0M316.5 79.8h0M331.0 81.7h0M333.5 84.5h0M334.0 85.6h0M322.9 72.1h0M321.2 85.1h0M330.5 77.9h0M338.0 81.4h0M337.5 81.8h0M315.2 82.9h0M327.0 72.2h0M335.7 82.0h0M322.9 77.2h0M331.6 72.5h0M334.6 79.6h0M321.4 71.1h0M321.6 72.2h0M331.1 75.9h0M317.5 74.5h0M317.2 73.3h0M320.4 72.5h0M321.9 79.0h0M329.3 86.4h0M329.0 86.6h0M332.8 78.7h0M331.9 83.8h0M319.0 80.5h0M318.9 72.9h0M324.4 77.0h0M336.1 86.2h0M323.0 73.3h0M323.5 74.1h0M335.8 78.3h0M315.1 84.9h0M331.3 73.3h0M325.7 78.8h0M329.6 85.8h0M312.5 78.1h0M322.2 83.4h0M329.6 72.2h0M327.2 70.8h0M333.5 76.4h0M319.7 80.6h0M311.3 83.9h0M322.5 72.8h0M333.4 84.5h0M314.2 82.8h0M327.7 72.4h0M332.6 73.4h0M316.1 81.3h0M332.5 82.1h0M325.0 74.9h0M321.6 85.3h0M326.1 77.3h0M323.8 72.6h0M310.2 86.0h0M334.5 75.8h0M315.7 78.5h0M322.9 77.7h0M327.8 74.3h0M322.4 80.8h0M322.2 70.8h0M328.6 74.8h0M310.5 82.2h0M328.9 81.7h0M323.6 84.5h0M331.1 86.3h0M323.2 76.8h0M311.6 82.7h0M328.6 75.6h0M320.2 82.7h0M332.2 80.1h0M330.3 79.3h0M336.4 79.6h0M321.8 86.0h0M327.4 83.0h0M337.0 80.0h0M324.1 84.3h0M319.6 82.4h0M331.8 83.8h0M312.3 83.1h0M330.7 76.5h0M332.7 81.9h0M315.7 78.3h0M322.2 72.0h0M312.0 81.9h0M323.1 76.1h0M318.6 83.4h0M317.5 85.6h0M313.3 83.6h0M327.3 76.9h0M316.8 84.3h0M329.3 74.3h0M336.2 86.6h0M325.9 79.2h0M338.0 83.9h0M315.7 85.3h0M326.6 79.5h0M332.8 81.2h0M321.5 72.4h0M310.1 84.8h0M312.6 78.3h0M330.5 81.9h0M333.2 86.5h0M324.6 84.0h0M312.3 77.8h0M317.0 80.1h0M331.5 72.5h0M321.1 75.5h0M321.4 70.9h0M328.6 74.1h0M333.7 80.5h0M323.1 70.6h0M323.9 74.9h0M332.1 85.5h0M320.6 76.5h0M331.6 77.7h0M337.8 80.7h0M319.2 77.6h0M331.1 86.5h0M317.2 83.8h0M321.9 79.5h0M326.4 78.2h0M321.0 77.9h0M325.0 73.4h0M324.5 77.6h0M325.9 80.0h0M334.8 82.7h0M324.6 83.5h0M327.4 86.1h0M331.1 83.3h0M319.7 79.8h0M326.1 85.1h0M324.9 76.4h0M323.8 83.8h0M336.1 84.3h0M320.9 84.9h0M322.1 81.0h0M324.1 76.6h0M310.4 82.0h0M313.1 77.4h0M330.4 81.9h0M317.1 78.4h0M327.7 79.6h0M313.7 77.0h0M313.4 78.1h0M319.4 80.8h0M332.6 84.1h0M316.8 74.4h0M316.8 79.6h0M330.4 74.5h0M318.8 80.2h0M312.9 86.1h0M328.8 79.5h0M327.7 75.7h0M330.1 78.9h0M324.4 82.9h0M320.8 74.0h0M329.0 76.2h0M329.1 83.1h0M331.7 79.1h0M329.6 82.0h0M314.5 86.2h0M327.4 76.2h0M324.7 81.4h0M328.1 72.9h0M336.2 80.5h0M330.5 75.2h0M334.6 82.3h0M323.3 73.0h0M331.1 86.4h0M330.5 80.0h0M333.4 82.2h0M333.8 75.3h0M320.6 81.2h0M314.6 85.7h0M329.8 77.4h0M329.4 72.5h0M310.4 83.3h0M325.3 84.0h0M311.0 85.7h0M324.3 81.8h0M329.3 81.3h0M333.5 74.6h0M319.8 77.9h0M329.8 85.8h0M326.9 83.1h0M322.2 77.5h0M323.2 79.3h0M312.9 79.9h0M324.1 77.9h0M331.9 77.3h0M325.3 86.3h0M321.6 86.0h0M335.2 83.1h0M335.4 81.4h0M323.4 81.5h0M320.2 73.5h0M322.3 79.4h0M315.4 74.7h0M333.7 77.6h0M326.3 85.4h0M332.3 78.0h0M333.3 77.1h0M313.8 84.8h0M338.9 86.2h0M314.0 86.4h0M320.5 85.3h0M323.8 75.0h0M322.8 70.6h0M331.1 73.3h0M318.3 73.3h0M326.8 79.2h0M334.8 80.2h0M329.2 83.4h0M332.5 81.1h0M326.4 81.8h0M334.6 81.7h0M333.4 80.4h0M314.5 79.0h0M336.1 83.4h0M319.6 76.6h0M322.1 71.3h0M314.6 75.0h0M314.2 81.4h0M324.4 81.2h0M335.6 84.2h0M313.3 82.1h0M313.4 80.3h0M336.0 81.0h0M328.1 71.9h0M324.9 84.2h0M327.7 72.0h0M323.9 74.4h0M314.4 75.9h0M313.3 85.5h0M320.4 78.9h0M322.4 73.9h0M326.1 83.9h0M327.4 80.3h0M336.8 83.7h0M336.2 85.4h0M321.8 83.8h0M332.7 84.5h0M320.1 81.8h0M318.9 74.1h0M333.2 80.1h0M323.7 78.0h0M321.9 85.8h0M336.0 85.3h0M319.6 75.2h0M330.6 85.1h0M311.9 82.8h0M316.1 84.8h0M326.2 78.2h0M319.3 81.6h0M334.6 86.5h0M325.5 79.3h0M327.4 85.5h0M315.2 78.1h0M331.2 84.5h0M333.2 75.6h0M330.7 85.2h0M312.4 80.6h0M328.5 77.8h0M321.3 82.3h0M324.6 78.2h0M336.3 80.5h0M313.4 76.7h0M319.4 72.8h0M328.8 83.5h0M326.2 72.2h0M317.9 79.1h0M327.4 72.3h0M330.2 73.9h0M316.6 75.2h0M320.7 72.8h0M325.7 85.1h0M333.6 74.8h0M321.0 71.1h0M334.6 78.1h0M317.4 77.0h0M328.3 76.7h0M319.2 74.4h0M331.1 78.6h0M322.7 81.2h0M330.7 66.2h0M331.7 65.4h0M314.8 70.7h0M311.3 80.3h0M341.6 72.7h0M327.4 68.1h0M309.2 80.8h0M333.1 84.9h0M323.1 64.6h0M307.5 80.0h0M312.6 76.3h0M332.6 85.3h0M322.7 63.7h0M341.3 83.7h0M319.9 72.9h0M337.0 77.9h0M335.4 77.7h0M335.0 74.3h0M322.6 81.3h0M330.0 69.8h0M335.4 77.7h0M315.6 70.1h0M339.2 84.5h0M312.9 81.5h0M312.2 80.9h0M309.1 84.1h0M335.0 85.9h0M311.2 85.1h0M334.4 65.7h0M337.2 74.3h0M325.1 70.8h0M316.1 70.6h0M305.6 85.7h0M326.9 70.1h0M336.0 80.8h0M319.1 67.1h0M332.5 65.6h0M308.6 77.7h0M330.1 71.9h0M339.8 78.5h0M311.4 81.1h0M344.5 85.6h0M318.6 80.3h0M317.3 72.0h0M314.5 67.5h0M340.1 73.4h0M310.6 82.6h0M335.8 86.2h0M310.5 77.9h0M308.8 83.6h0M342.7 76.0h0M306.7 85.8h0M314.6 85.8h0M328.0 71.6h0M345.0 86.4h0M310.0 84.9h0M306.9 84.6h0M309.0 77.0h0M308.2 86.0h0M307.8 83.2h0M335.6 66.2h0M315.5 77.6h0M317.6 69.8h0M336.2 72.8h0M328.9 65.3h0M330.7 66.7h0M309.7 80.6h0M343.8 76.9h0M331.7 82.9h0M332.5 70.7h0M344.2 85.7h0M315.9 66.8h0M345.2 83.1h0M325.6 71.4h0M340.8 79.5h0M337.5 72.9h0M310.3 84.0h0M339.4 70.7h0M308.6 78.8h0M341.8 76.3h0M309.4 84.4h0M341.1 79.6h0M313.5 83.7h0M340.8 84.7h0M335.4 77.8h0M330.5 73.8h0M340.5 73.2h0M327.3 69.4h0M311.2 77.5h0M309.1 72.4h0M342.2 81.9h0M322.9 70.8h0M331.7 68.6h0M324.1 68.8h0M333.6 68.8h0M317.8 66.5h0M338.7 73.1h0M319.9 71.5h0M305.4 82.4h0M334.1 70.4h0M335.6 77.7h0M337.8 71.1h0M308.2 80.7h0M315.3 69.3h0M341.0 71.5h0M310.0 86.3h0M323.9 66.8h0M338.2 70.9h0M323.2 63.3h0M320.8 79.3h0M336.3 71.2h0M324.1 71.0h0M341.3 78.4h0M338.2 68.4h0M333.5 82.2h0M312.7 76.5h0M315.9 66.1h0M309.3 80.3h0M330.6 81.7h0M313.5 67.3h0M339.8 71.1h0M310.5 73.1h0M320.3 66.7h0M342.1 84.9h0M333.4 76.3h0M342.2 83.3h0M321.8 75.3h0M318.3 65.0h0M322.7 68.3h0M318.1 70.5h0M308.6 78.7h0M331.1 66.2h0M315.9 66.1h0M326.1 63.6h0M337.2 83.8h0M336.0 70.5h0M311.8 69.1h0M315.0 81.4h0M324.0 79.6h0M312.7 76.3h0M337.6 67.1h0M351.2 73.1h0M337.9 68.6h0M339.9 69.5h0M338.3 71.5h0M345.5 54.6h0M340.9 64.9h0M324.7 65.5h0M340.8 67.6h0M339.6 71.3h0M336.8 69.7h0M345.8 65.8h0M358.3 56.6h0M324.7 76.6h0M336.3 50.5h0M339.9 54.4h0M328.5 77.7h0M336.3 61.0h0M344.4 74.7h0M318.9 67.9h0M326.3 74.5h0M352.7 45.3h0M321.7 62.8h0M354.3 66.9h0M348.1 54.9h0M346.0 61.3h0M342.1 75.2h0M332.1 57.2h0M352.4 66.1h0M340.3 49.3h0M334.0 73.5h0M333.0 71.3h0M326.8 54.1h0M326.0 74.0h0M326.1 78.2h0M340.6 68.6h0M328.3 71.9h0M356.1 61.3h0M350.9 66.2h0M333.5 75.6h0M333.5 75.7h0M328.7 74.8h0M326.5 68.0h0M341.5 75.6h0M339.8 71.5h0M355.0 68.8h0M326.6 78.5h0M328.3 70.7h0M315.1 78.1h0M333.6 70.8h0M329.0 59.6h0M344.3 62.9h0M325.3 74.2h0M324.7 65.5h0M349.1 55.2h0M333.8 70.1h0M337.6 70.0h0M341.6 67.9h0M325.3 60.8h0M335.0 61.4h0M346.8 68.7h0M345.5 74.9h0M333.1 70.1h0M342.1 60.5h0M341.2 73.4h0M338.7 63.4h0M333.5 72.8h0M350.2 47.3h0M328.9 72.2h0M354.8 61.3h0M332.4 76.0h0M313.9 69.8h0M340.8 67.5h0M331.0 72.7h0M325.4 71.5h0M328.6 72.0h0M350.0 68.2h0M352.1 47.0h0M341.1 59.5h0M344.3 62.6h0M344.7 58.0h0M335.6 75.4h0M316.8 55.8h0M340.7 56.3h0M349.1 66.3h0M352.7 51.3h0M336.2 70.4h0M346.6 57.6h0M324.1 71.5h0M350.5 60.8h0M336.1 70.5h0M324.3 73.3h0M327.1 55.5h0M319.9 69.5h0M341.4 63.1h0M345.3 63.0h0M337.1 72.9h0M345.4 73.5h0M340.5 68.8h0M317.0 80.7h0M334.3 68.8h0M335.0 74.6h0M337.1 73.0h0M342.0 52.9h0M355.0 71.2h0M324.2 78.8h0M314.8 66.4h0M352.7 73.1h0M344.3 60.1h0M339.2 58.3h0M328.3 70.8h0M329.3 72.2h0M348.1 60.5h0M320.3 64.3h0M337.5 74.8h0M351.1 65.0h0M331.6 51.5h0M356.7 44.1h0M338.9 75.9h0M341.4 68.6h0M336.7 74.7h0M333.3 60.7h0M341.5 74.1h0M347.6 62.8h0M324.3 65.3h0M350.8 71.8h0M345.2 81.9h0M344.4 77.7h0M336.1 79.4h0M340.2 77.0h0M335.5 71.0h0M337.8 76.0h0M342.3 78.4h0M344.0 75.7h0M349.0 79.6h0M337.8 71.3h0M336.5 79.6h0M347.9 79.3h0M346.5 82.7h0M335.2 69.8h0M360.1 74.3h0M342.9 83.9h0M339.9 82.1h0M335.9 70.3h0M335.0 81.8h0M349.2 82.4h0M350.6 66.1h0M344.9 81.8h0M351.4 80.5h0M336.4 72.0h0M340.4 72.1h0M351.2 72.2h0M344.8 73.0h0M345.1 73.6h0M334.3 81.7h0M334.5 80.1h0M353.6 60.9h0M348.5 77.0h0M338.9 83.4h0M361.4 77.3h0M354.9 81.0h0M348.2 78.5h0M334.2 75.7h0M357.4 56.1h0M340.8 76.8h0M334.9 84.0h0M349.9 77.7h0M351.8 64.0h0M339.3 78.5h0M335.2 77.2h0M346.5 81.3h0M339.4 72.7h0M349.3 77.7h0M345.0 80.4h0M345.0 73.2h0M352.2 75.8h0M343.7 74.6h0M341.7 80.0h0M341.8 74.1h0M337.4 82.0h0M360.6 75.8h0" stroke="#e41a1c" stroke-opacity="0.82" stroke-width="2.5" stroke-linecap="round" fill="none"/>
<path d="M332.3 78.9h0M337.8 83.3h0M312.8 84.2h0M316.3 84.4h0M316.1 79.2h0M321.5 77.6h0M323.6 76.8h0M320.1 77.6h0M333.7 85.7h0M325.8 74.3h0M324.6 79.8h0M319.6 73.6h0M330.7 72.6h0M326.6 72.1h0M319.6 74.2h0M322.4 78.1h0M330.3 82.7h0M328.2 86.3h0M318.6 79.2h0M322.5 81.1h0M316.3 74.1h0M314.3 78.2h0M329.0 74.9h0M317.5 86.5h0M325.7 70.6h0M314.0 75.5h0M328.0 75.5h0M332.6 73.3h0M318.1 75.2h0M322.4 75.6h0M315.9 76.3h0M315.8 83.5h0M321.2 76.5h0M321.2 71.7h0M333.2 82.8h0M323.9 75.1h0M312.8 85.7h0M322.1 74.3h0M324.6 72.2h0M323.2 71.3h0M329.2 71.4h0M328.5 78.0h0M321.9 72.4h0M324.3 76.6h0M320.2 76.8h0M323.5 79.7h0M315.4 76.7h0M318.2 76.3h0M327.6 74.4h0M327.5 74.3h0M330.1 80.2h0M336.5 78.5h0M335.0 80.6h0M322.7 83.6h0M333.5 84.8h0M319.0 73.8h0M316.3 81.6h0M326.1 77.3h0M324.8 79.6h0M332.8 80.3h0M328.5 78.9h0M332.3 80.1h0M318.6 83.3h0M315.8 79.8h0M335.5 84.7h0M323.6 82.2h0M316.4 79.8h0M321.4 75.2h0M324.2 78.5h0M332.9 81.4h0M313.2 83.2h0M331.1 86.0h0M334.3 86.2h0M326.1 80.6h0M331.5 73.7h0M325.0 72.5h0M312.0 79.6h0M331.7 85.8h0M315.7 85.9h0M316.5 85.2h0M337.8 83.0h0M314.8 86.1h0M316.3 76.4h0M330.5 84.5h0M314.9 86.5h0M314.0 81.3h0M318.9 74.6h0M319.2 85.7h0M316.4 84.9h0M316.7 83.6h0M322.5 72.7h0M329.7 75.1h0M323.2 75.8h0M338.1 84.4h0M334.8 79.9h0M325.4 72.1h0M319.0 78.7h0M333.9 83.2h0M319.3 75.0h0M324.8 79.7h0M337.8 84.1h0M320.1 84.1h0M320.7 84.3h0M323.8 77.5h0M335.2 85.0h0M327.7 86.0h0M326.8 81.8h0M325.1 79.8h0M338.9 85.3h0M323.0 81.8h0M320.1 82.4h0M320.3 80.0h0M320.7 71.3h0M321.6 76.0h0M333.8 81.5h0M328.0 74.5h0M332.7 86.0h0M319.7 78.1h0M315.1 86.2h0M337.1 82.0h0M327.0 77.0h0M328.6 86.3h0M331.3 86.3h0M317.0 83.4h0M332.0 75.9h0M324.1 72.6h0M322.6 76.7h0M337.6 82.1h0M331.7 73.7h0M328.6 73.3h0M327.1 80.9h0M322.3 81.8h0M319.4 80.2h0M333.4 76.1h0M319.4 81.1h0M338.8 86.5h0M322.9 80.5h0M321.3 80.8h0M328.7 80.7h0M320.1 75.2h0M325.1 72.3h0M320.5 77.4h0M315.8 82.0h0M328.6 77.7h0M328.4 76.5h0M331.5 77.7h0M323.0 77.3h0M334.7 81.2h0M323.2 72.5h0M316.6 74.5h0M324.3 75.9h0M316.2 80.2h0M321.5 77.5h0M325.6 71.8h0M338.0 84.3h0M319.3 74.8h0M330.5 81.2h0M313.7 77.9h0M327.0 74.3h0M332.7 80.4h0M317.4 79.7h0M332.7 86.1h0M336.0 81.9h0M329.0 73.8h0M325.3 75.9h0M336.7 79.9h0M320.1 81.1h0M335.1 83.5h0M314.2 79.8h0M319.5 74.5h0M318.9 85.7h0M324.5 80.2h0M335.6 76.7h0M326.5 78.5h0M336.7 79.1h0M310.0 86.0h0M317.8 79.4h0M335.4 82.2h0M315.3 82.6h0M319.5 76.0h0M317.2 77.4h0M328.9 78.3h0M336.3 83.8h0M314.0 85.4h0M325.9 72.5h0M324.6 72.6h0M322.3 74.6h0M333.3 76.4h0M322.0 85.2h0M335.0 79.2h0M316.0 75.9h0M333.0 77.8h0M317.2 73.1h0M315.5 77.4h0M314.9 84.2h0M333.5 81.6h0M318.6 78.4h0M329.9 72.8h0M325.8 80.8h0M331.3 85.3h0M333.8 77.9h0M319.2 82.5h0M321.2 81.7h0M320.0 82.2h0M330.5 82.9h0M313.8 79.7h0M332.9 74.8h0M316.1 81.3h0M332.9 79.2h0M327.7 71.9h0M322.0 73.2h0M322.0 77.3h0M322.8 74.1h0M321.2 75.1h0M319.8 84.5h0M332.8 81.5h0M314.0 84.6h0M333.9 77.1h0M334.3 81.6h0M327.4 84.9h0M330.8 85.6h0M332.9 74.7h0M328.7 80.0h0M322.8 81.3h0M321.7 84.8h0M331.9 74.4h0M313.0 85.5h0M333.4 74.9h0M321.4 72.7h0M317.3 83.4h0M332.4 86.6h0M316.7 84.9h0M331.8 76.1h0M330.4 76.4h0M324.1 85.1h0M322.9 73.9h0M310.3 85.2h0M328.9 82.3h0M324.6 85.7h0M331.2 73.9h0M320.5 78.2h0M329.9 74.3h0M328.9 79.7h0M327.7 75.2h0M331.6 81.3h0M322.2 76.4h0M316.7 80.2h0M329.3 73.7h0M317.2 84.9h0M311.4 85.5h0M321.5 78.8h0M327.8 74.8h0M324.3 82.7h0M316.6 77.3h0M314.7 84.2h0M319.3 76.7h0M312.3 77.8h0M326.3 76.2h0M317.1 76.2h0M327.6 73.8h0M314.2 83.9h0M315.6 77.8h0M328.3 73.0h0M316.0 74.4h0M322.1 86.0h0M315.4 74.5h0M322.3 77.9h0M331.4 75.9h0M317.6 84.3h0M328.1 78.4h0M319.4 76.7h0M327.7 78.8h0M319.7 85.1h0M326.5 73.4h0M320.1 78.1h0M313.5 76.6h0M324.7 78.9h0M326.3 73.5h0M314.8 77.4h0M311.3 85.1h0M336.3 82.4h0M330.2 79.1h0M319.2 82.6h0M325.7 73.2h0M313.3 78.8h0M318.8 74.4h0M321.9 84.4h0M333.3 74.8h0M320.5 79.7h0M319.0 72.3h0M325.9 71.4h0M320.4 72.7h0M331.1 75.4h0M327.0 77.0h0M330.5 83.1h0M322.4 80.2h0M333.1 84.2h0M310.4 82.4h0M318.6 79.1h0M330.4 77.7h0M319.1 76.7h0M318.0 76.6h0M312.5 80.6h0M323.1 72.8h0M320.3 83.6h0M327.6 85.6h0M334.2 77.2h0M328.4 80.3h0M315.2 79.8h0M331.2 73.8h0M322.6 73.2h0M316.1 83.9h0M333.8 84.2h0M323.2 72.4h0M325.5 78.0h0M326.7 86.1h0M335.6 78.3h0M319.1 75.7h0M322.5 81.7h0M325.4 79.7h0M326.3 70.7h0M338.5 83.8h0M324.5 72.8h0M337.8 82.7h0M317.7 85.8h0M317.0 78.4h0M324.1 76.2h0M330.9 82.5h0M314.2 81.9h0M315.4 84.1h0M328.0 76.8h0M337.1 83.3h0M312.5 78.3h0M327.5 73.6h0M319.1 77.7h0M327.5 83.1h0M335.0 81.1h0M330.1 72.0h0M316.7 86.1h0M324.6 79.7h0M337.0 80.3h0M316.1 80.5h0M334.5 86.1h0M319.6 83.7h0M314.8 86.5h0M321.5 78.7h0M324.0 81.5h0M334.4 83.6h0M335.6 83.3h0M331.5 83.5h0M321.8 76.1h0M335.4 80.8h0M330.9 74.7h0M315.8 78.0h0M336.2 80.3h0M330.8 74.3h0M326.7 78.5h0M316.0 74.3h0M319.1 73.8h0M331.5 80.4h0M329.5 82.2h0M326.0 79.7h0M333.3 85.4h0M311.2 82.3h0M320.4 73.6h0M315.7 81.7h0M317.9 82.9h0M311.5 81.2h0M324.0 79.5h0M318.0 82.8h0M337.6 80.5h0M332.6 76.9h0M318.6 72.2h0M331.6 80.7h0M335.9 84.2h0M316.8 86.3h0M334.6 81.2h0M327.3 83.2h0M322.2 84.8h0M314.6 76.7h0M315.9 73.5h0M326.2 84.9h0M334.5 81.4h0M336.2 77.5h0M321.0 77.9h0M313.7 79.5h0M316.8 76.3h0M321.6 77.5h0M333.6 78.0h0M314.3 79.7h0M320.4 72.4h0M326.0 81.5h0M312.3 79.0h0M329.8 82.1h0M337.6 83.2h0M323.1 73.1h0M338.1 84.8h0M331.3 78.1h0M315.4 79.9h0M332.9 73.5h0M323.8 74.6h0M331.2 84.3h0M332.3 79.0h0M310.7 86.5h0M324.8 79.3h0M331.0 76.2h0M334.1 80.0h0M334.3 80.0h0M318.9 78.3h0M331.1 83.6h0M334.4 84.6h0M331.2 83.1h0M330.7 83.5h0M329.8 84.1h0M332.9 79.9h0M315.4 86.0h0M330.0 80.9h0M342.8 75.9h0M311.7 81.1h0M311.6 69.5h0M307.1 78.8h0M336.6 78.8h0M329.6 77.6h0M307.3 83.0h0M309.8 76.8h0M341.0 78.9h0M316.2 80.3h0M341.7 82.3h0M327.9 68.2h0M322.7 63.2h0M315.4 77.7h0M339.7 70.2h0M307.1 81.7h0M329.0 70.8h0M339.6 76.9h0M326.0 75.4h0M334.2 70.4h0M340.1 80.9h0M313.6 72.1h0M333.0 66.8h0M310.4 77.5h0M321.1 70.8h0M306.2 81.4h0M322.7 63.5h0M337.9 77.4h0M310.9 76.2h0M308.5 82.5h0M321.0 63.9h0M328.9 65.3h0M317.1 70.9h0M313.6 76.8h0M311.8 73.1h0M336.3 72.1h0M322.5 65.0h0M343.1 75.8h0M307.3 80.9h0M322.0 69.8h0M319.7 66.5h0M307.2 83.7h0M328.7 71.5h0M327.4 63.5h0M309.9 71.8h0M331.1 74.4h0M310.7 70.3h0M330.5 76.3h0M332.1 68.3h0M305.6 81.6h0M333.7 79.4h0M319.7 77.6h0M344.2 81.8h0M337.6 82.4h0M340.8 82.5h0M316.2 68.2h0M315.7 80.3h0M336.1 77.8h0M327.3 77.4h0M322.3 67.3h0M312.6 82.6h0M336.4 81.0h0M329.8 63.8h0M329.2 82.0h0M339.0 76.0h0M325.8 66.3h0M337.7 68.4h0M342.4 85.9h0M326.8 66.7h0M321.9 73.8h0M318.3 68.5h0M313.7 77.6h0M334.1 65.7h0M332.5 85.7h0M325.0 63.3h0M314.6 70.0h0M332.0 82.2h0M328.2 63.4h0M336.3 67.2h0M336.1 69.4h0M317.1 76.7h0M344.9 79.3h0M319.0 67.3h0M325.6 70.7h0M315.8 69.8h0M312.5 75.5h0M316.4 85.7h0M314.6 76.6h0M342.3 73.9h0M314.2 72.8h0M310.4 77.9h0M308.9 80.6h0M330.2 72.0h0M326.5 63.2h0M326.4 72.8h0M335.5 84.8h0M315.5 72.5h0M342.4 86.5h0M327.4 65.0h0M321.5 73.5h0M342.2 78.2h0M312.3 72.8h0M315.7 67.4h0M339.8 80.8h0M335.4 66.6h0M342.6 80.0h0M317.5 71.4h0M344.8 84.5h0M305.9 85.9h0M332.3 65.6h0M338.0 83.1h0M331.7 76.4h0M341.0 72.4h0M343.5 81.9h0M330.8 74.6h0M324.5 79.1h0M316.7 65.1h0M318.0 68.0h0M338.3 82.2h0M340.8 72.7h0M324.2 69.1h0M315.9 65.7h0M321.2 63.9h0M326.3 68.7h0M306.3 80.6h0M323.8 69.2h0M340.4 74.8h0M313.2 72.3h0M320.4 65.4h0M328.5 67.5h0M319.3 72.5h0M328.1 79.7h0M333.7 67.6h0M315.9 70.6h0M339.0 73.0h0M337.5 74.6h0M340.3 80.5h0M307.8 85.7h0M312.1 80.6h0M307.1 82.1h0M345.6 68.2h0M331.8 77.9h0M345.1 67.1h0M326.8 46.3h0M357.1 58.1h0M349.2 72.3h0M333.8 69.1h0M365.8 63.2h0M354.7 42.3h0M334.2 74.3h0M320.0 79.2h0M340.5 71.5h0M336.3 61.2h0M327.8 72.2h0M336.8 72.1h0M354.6 61.0h0M354.5 51.5h0M312.9 70.7h0M339.9 59.4h0M348.8 48.5h0M335.4 71.6h0M325.3 79.6h0M344.5 40.7h0M332.7 64.3h0M344.9 58.6h0M352.4 71.2h0M336.4 73.8h0M335.1 51.9h0M341.0 45.1h0M332.2 68.0h0M329.7 71.0h0M335.2 73.5h0M324.0 73.9h0M360.3 33.7h0M331.7 68.0h0M342.8 73.7h0M335.8 75.3h0M322.6 72.5h0M337.0 63.1h0M356.4 65.9h0M350.5 69.7h0M323.9 64.1h0M325.6 75.9h0M329.1 68.8h0M345.6 63.4h0M339.9 52.7h0M324.0 63.6h0M341.1 62.3h0M335.1 70.6h0M327.3 62.2h0M343.5 64.5h0M350.5 59.7h0M345.6 56.3h0M352.8 64.4h0M316.2 71.7h0M359.1 69.7h0M342.9 68.9h0M337.7 71.4h0M349.0 73.4h0M341.2 59.5h0M337.5 68.2h0M331.7 70.0h0M333.0 60.3h0M312.5 62.3h0M338.4 73.2h0M341.5 72.2h0M333.7 73.8h0M313.0 78.4h0M339.9 72.0h0M338.9 63.3h0M339.3 74.6h0M339.9 58.4h0M339.7 62.6h0M337.3 69.4h0M324.6 76.2h0M313.9 82.3h0M345.1 72.2h0M335.3 66.5h0M350.1 62.4h0M343.2 68.2h0M333.2 64.1h0M313.0 63.4h0M327.1 76.4h0M335.1 65.4h0M342.1 70.6h0M326.0 78.3h0M355.5 60.9h0M350.5 61.6h0M341.1 67.1h0M335.2 77.4h0M327.5 65.8h0M324.2 74.1h0M331.6 60.2h0M337.9 76.3h0M350.2 72.4h0M352.0 61.0h0M334.9 77.2h0M343.4 64.7h0M329.7 76.1h0M345.4 74.2h0M343.7 70.6h0M344.9 72.7h0M333.4 71.2h0M341.9 50.7h0M313.7 70.4h0M337.3 75.4h0M324.9 74.9h0M326.8 75.3h0M345.7 51.0h0M359.4 71.2h0M323.4 61.6h0M353.2 69.5h0M345.4 66.2h0M344.3 56.9h0M347.8 73.8h0M320.7 58.4h0M339.2 69.7h0M330.0 63.4h0M344.2 70.0h0M358.9 71.2h0M324.6 51.9h0M334.8 71.4h0M331.5 61.0h0M327.8 63.7h0M334.6 74.9h0M347.8 71.6h0M341.4 75.7h0M345.5 80.7h0M350.8 79.2h0M338.7 73.5h0M340.6 83.8h0M336.3 84.6h0M347.3 69.6h0M340.9 79.7h0M347.2 78.7h0M339.2 76.3h0M345.8 72.3h0M345.4 84.4h0M346.0 80.6h0M357.7 74.2h0M339.4 79.1h0M350.2 77.4h0M334.4 80.0h0M335.1 74.5h0M346.8 77.6h0M349.6 80.2h0M340.8 75.1h0M346.6 75.3h0M334.5 73.3h0M357.3 78.6h0M337.7 61.1h0M356.8 73.8h0M338.1 65.4h0M337.1 76.0h0M352.7 67.4h0M346.9 79.7h0M343.1 80.7h0M337.9 73.3h0M352.3 65.7h0M336.0 80.6h0M343.4 78.6h0M338.6 80.9h0M351.2 80.6h0M345.8 81.7h0M351.1 79.3h0M336.2 72.7h0M349.8 75.3h0M344.1 77.9h0M353.1 65.8h0M342.5 76.8h0M337.3 76.0h0M336.1 85.1h0M361.6 68.9h0M356.0 73.4h0M347.3 75.2h0M361.2 73.7h0M339.0 68.9h0M336.9 83.4h0M342.9 74.3h0M334.8 76.1h0M336.7 69.5h0" stroke="#e41a1c" stroke-opacity="0.82" stroke-width="2.5" stroke-linecap="round" fill="none"/>
<path d="M334.9 86.5h0M324.0 73.5h0M312.7 83.1h0M311.4 85.1h0M323.9 82.7h0M328.9 73.6h0M315.4 81.1h0M318.6 86.2h0M322.3 76.8h0M326.1 84.7h0M322.8 78.3h0M322.3 82.5h0M334.4 76.7h0M324.4 75.7h0M326.6 83.8h0M315.5 85.0h0M330.4 78.2h0M327.1 82.1h0M310.0 85.5h0M311.5 81.2h0M336.8 83.6h0M332.6 86.5h0M317.4 81.4h0M326.0 76.2h0M328.5 72.3h0M313.8 79.6h0M324.2 85.3h0M338.4 85.9h0M334.1 83.4h0M324.6 72.0h0M317.9 80.5h0M313.5 76.5h0M323.9 83.7h0M314.9 74.2h0M311.8 81.0h0M324.6 76.8h0M336.2 78.4h0M331.7 75.3h0M312.6 86.5h0M314.2 80.0h0M313.6 79.6h0M316.0 81.8h0M331.2 76.1h0M329.2 81.2h0M330.6 86.5h0M330.0 79.8h0M333.2 85.6h0M314.0 83.2h0M311.1 81.6h0M314.8 80.4h0M327.0 85.6h0M327.4 78.6h0M323.6 83.3h0M320.7 85.7h0M326.3 82.3h0M323.9 74.2h0M326.7 78.1h0M331.7 80.3h0M322.4 78.2h0M318.1 75.5h0M311.6 80.7h0M314.5 84.9h0M324.6 77.7h0M315.7 76.7h0M315.3 74.5h0M336.3 81.5h0M315.0 86.1h0M316.1 80.7h0M321.5 75.0h0M321.9 71.8h0M326.1 83.3h0M328.9 83.5h0M331.8 78.2h0M325.0 80.0h0M320.4 86.2h0M336.7 79.8h0M324.0 75.9h0M330.3 83.5h0M326.8 73.4h0M314.9 85.7h0M320.5 72.8h0M313.6 84.5h0M336.1 85.7h0M323.8 82.4h0M327.1 73.0h0M331.6 73.5h0M313.4 78.5h0M335.7 82.7h0M324.7 78.0h0M321.6 73.1h0M326.7 84.5h0M316.6 81.3h0M310.2 82.9h0M321.9 81.7h0M310.4 86.5h0M311.3 83.8h0M332.0 81.7h0M334.1 78.0h0M321.8 79.9h0M319.5 72.8h0M323.9 75.4h0M330.3 77.9h0M334.7 78.4h0M324.1 72.5h0M321.6 81.5h0M328.5 71.1h0M318.3 79.4h0M336.3 78.5h0M325.8 73.2h0M318.4 80.3h0M321.9 73.3h0M333.1 75.8h0M310.8 80.9h0M327.7 72.5h0M328.0 81.3h0M322.5 72.2h0M319.1 83.7h0M312.6 78.9h0M332.5 75.7h0M317.3 73.4h0M326.5 73.1h0M336.0 77.6h0M321.4 76.5h0M333.1 76.5h0M324.2 76.9h0M325.9 83.2h0M331.7 81.3h0M322.8 74.6h0M327.2 84.3h0M319.6 79.0h0M312.7 82.7h0M319.5 79.0h0M312.4 82.9h0M324.8 72.9h0M315.1 82.6h0M323.4 76.4h0M327.1 78.7h0M335.5 83.4h0M324.6 76.8h0M327.6 79.2h0M326.0 82.8h0M323.0 83.7h0M323.6 78.3h0M316.3 73.8h0M329.8 72.8h0M330.0 72.4h0M316.3 73.7h0M318.6 73.2h0M316.1 86.4h0M315.3 85.2h0M321.4 85.4h0M325.0 84.4h0M328.2 71.8h0M334.0 85.6h0M325.0 77.4h0M338.2 82.0h0M322.2 85.0h0M323.7 84.2h0M322.9 72.0h0M313.9 80.0h0M324.2 80.7h0M335.0 79.8h0M314.2 75.2h0M317.2 75.6h0M335.3 80.3h0M322.9 81.1h0M317.4 75.0h0M322.5 73.0h0M330.7 77.5h0M325.8 75.1h0M312.2 82.1h0M327.9 75.9h0M317.6 82.2h0M331.5 78.8h0M324.8 84.1h0M332.6 76.8h0M331.2 81.6h0M331.6 79.6h0M325.6 77.9h0M321.0 78.0h0M317.9 76.6h0M323.0 85.3h0M321.1 82.2h0M328.2 72.2h0M311.9 86.2h0M327.1 74.6h0M323.4 81.5h0M332.1 76.0h0M331.9 78.5h0M327.2 83.8h0M321.9 77.2h0M335.1 81.0h0M319.8 81.0h0M333.7 78.1h0M331.2 72.3h0M319.6 80.7h0M324.8 78.4h0M316.6 84.8h0M312.7 78.7h0M321.9 81.4h0M327.3 74.4h0M326.8 72.7h0M322.6 76.9h0M332.9 81.7h0M316.0 78.8h0M326.2 76.3h0M312.3 78.9h0M330.2 80.3h0M321.3 79.1h0M323.2 80.9h0M329.8 80.7h0M325.1 79.0h0M327.2 85.4h0M313.5 82.1h0M320.3 71.6h0M318.0 77.8h0M333.2 86.0h0M322.8 84.7h0M316.4 78.9h0M318.4 76.0h0M329.1 76.0h0M321.8 73.4h0M320.5 80.9h0M323.0 77.3h0M337.4 82.5h0M338.0 82.2h0M312.4 82.9h0M311.9 83.0h0M327.2 71.4h0M317.2 84.0h0M320.0 83.8h0M328.2 76.8h0M328.3 83.7h0M318.0 83.8h0M323.9 83.9h0M318.4 83.0h0M323.1 76.9h0M323.0 75.8h0M337.4 82.1h0M313.1 84.7h0M317.6 74.9h0M331.0 84.2h0M326.6 77.0h0M315.3 80.0h0M330.8 84.6h0M320.8 82.8h0M335.5 81.7h0M331.2 85.8h0M325.2 83.1h0M332.3 84.2h0M337.5 81.9h0M328.2 85.9h0M337.5 86.5h0M326.8 73.5h0M321.5 75.2h0M313.0 86.6h0M330.6 76.7h0M324.8 78.4h0M328.9 81.6h0M320.7 74.8h0M326.4 73.2h0M333.2 83.9h0M329.0 72.2h0M327.0 82.9h0M331.5 77.9h0M311.8 80.8h0M331.6 80.0h0M315.1 82.3h0M311.4 84.3h0M310.1 85.1h0M327.3 71.5h0M334.9 80.0h0M312.0 77.9h0M334.0 82.0h0M329.6 81.2h0M324.6 79.5h0M335.5 86.2h0M323.4 74.4h0M317.1 79.5h0M321.5 86.0h0M335.1 83.2h0M318.7 73.4h0M315.9 78.1h0M322.0 74.4h0M316.4 73.3h0M314.4 75.4h0M327.4 76.6h0M315.2 77.0h0M313.2 85.3h0M320.5 78.2h0M334.6 77.5h0M327.6 77.1h0M326.0 81.7h0M315.1 74.3h0M320.0 76.5h0M320.1 78.3h0M321.8 79.7h0M323.2 76.9h0M326.3 75.5h0M323.9 80.0h0M314.8 86.0h0M327.1 77.1h0M322.8 78.2h0M310.4 82.1h0M321.7 82.2h0M323.7 71.5h0M328.7 73.8h0M330.7 81.9h0M334.9 80.3h0M318.6 73.3h0M313.1 76.9h0M323.7 86.2h0M315.2 78.6h0M325.5 84.8h0M313.0 78.0h0M320.7 77.6h0M327.6 85.6h0M324.0 77.9h0M324.1 86.6h0M321.1 79.1h0M329.2 75.9h0M331.0 74.7h0M325.7 77.7h0M319.6 77.8h0M321.8 76.3h0M315.6 75.9h0M322.1 84.4h0M319.1 71.9h0M325.7 82.8h0M329.0 80.8h0M335.5 80.4h0M311.6 80.1h0M317.9 81.5h0M319.4 83.9h0M330.5 79.5h0M314.2 86.1h0M330.4 83.6h0M316.6 73.9h0M319.3 84.8h0M322.1 72.7h0M320.5 73.3h0M327.2 79.1h0M327.7 72.9h0M311.3 85.1h0M324.5 86.2h0M320.9 84.9h0M324.3 77.0h0M315.2 81.1h0M329.8 86.4h0M336.7 79.9h0M317.2 81.6h0M332.8 80.5h0M324.9 82.9h0M312.8 84.6h0M319.7 80.0h0M321.4 80.7h0M319.5 74.6h0M319.5 72.1h0M327.2 86.4h0M315.8 81.5h0M333.2 76.7h0M319.2 84.4h0M317.4 86.4h0M315.5 75.2h0M336.5 78.0h0M326.9 78.4h0M312.8 83.4h0M313.6 80.1h0M310.1 83.9h0M319.7 82.0h0M331.6 77.2h0M331.6 73.0h0M314.6 75.4h0M317.5 73.3h0M331.4 85.4h0M318.1 81.6h0M311.4 83.1h0M332.2 73.2h0M331.7 74.8h0M317.7 85.6h0M318.4 84.3h0M337.3 86.0h0M326.3 72.4h0M317.3 80.7h0M319.6 80.3h0M329.0 83.5h0M334.1 76.8h0M318.4 81.6h0M328.0 74.0h0M313.4 81.0h0M333.6 80.9h0M322.8 78.0h0M322.5 79.8h0M325.6 86.5h0M322.3 85.6h0M331.8 82.4h0M323.8 79.0h0M325.6 81.2h0M329.4 75.7h0M325.9 75.5h0M330.5 72.9h0M321.8 70.8h0M327.7 71.8h0M326.7 75.7h0M329.9 80.1h0M320.5 83.1h0M315.4 80.9h0M321.3 84.9h0M313.2 81.1h0M332.3 83.7h0M334.4 75.8h0M331.0 77.4h0M327.6 75.5h0M319.2 74.0h0M322.9 71.2h0M316.7 80.6h0M330.3 69.9h0M329.3 64.2h0M313.7 70.4h0M334.7 65.6h0M329.9 68.0h0M329.3 69.6h0M342.4 83.2h0M325.8 63.7h0M339.6 79.4h0M321.4 66.7h0M329.5 69.3h0M340.6 77.8h0M328.4 85.0h0M314.0 67.2h0M336.4 69.4h0M323.2 63.0h0M335.5 75.8h0M318.4 72.1h0M334.8 83.5h0M318.4 65.0h0M334.1 81.2h0M340.1 74.3h0M328.6 64.6h0M339.9 82.1h0M339.4 70.6h0M327.6 63.4h0M339.7 72.5h0M305.8 83.6h0M310.7 86.4h0M307.1 79.5h0M308.8 78.4h0M309.6 73.9h0M311.1 75.3h0M309.7 77.4h0M344.2 86.2h0M340.6 82.1h0M337.1 74.5h0M334.4 74.0h0M339.3 81.4h0M341.5 77.4h0M340.2 76.3h0M334.5 72.2h0M343.5 83.4h0M315.8 68.4h0M316.5 70.9h0M339.7 70.0h0M337.5 67.9h0M312.0 77.0h0M312.5 79.5h0M340.8 83.9h0M327.5 73.5h0M317.9 77.3h0M341.8 74.7h0M319.0 72.9h0M323.2 67.0h0M340.7 76.4h0M340.0 74.2h0M338.0 75.9h0M339.2 74.6h0M337.3 78.7h0M308.5 77.3h0M308.6 79.1h0M330.5 73.9h0M330.4 66.7h0M310.2 73.7h0M311.1 86.5h0M329.3 69.7h0M338.3 74.1h0M327.5 67.2h0M340.4 83.6h0M324.0 70.4h0M314.2 67.5h0M326.2 64.5h0M311.3 74.5h0M341.0 71.7h0M338.3 69.4h0M320.8 66.6h0M307.0 84.8h0M317.5 68.1h0M336.3 67.3h0M315.3 66.0h0M343.7 85.5h0M323.0 65.6h0M338.4 78.7h0M313.6 73.8h0M337.6 75.9h0M332.3 72.0h0M336.3 67.1h0M313.2 68.5h0M341.2 75.5h0M340.2 83.2h0M337.4 71.3h0M326.8 71.4h0M339.8 74.9h0M341.0 84.7h0M333.6 67.8h0M319.8 67.5h0M324.0 67.8h0M309.9 73.8h0M316.7 72.9h0M311.4 72.1h0M306.1 81.4h0M318.3 70.4h0M308.9 79.7h0M338.9 73.4h0M322.2 71.3h0M339.7 80.5h0M311.3 76.2h0M339.6 85.2h0M314.7 82.6h0M310.7 71.2h0M324.1 66.3h0M341.9 76.8h0M306.0 80.7h0M313.9 67.2h0M309.6 72.2h0M341.1 82.2h0M342.1 78.4h0M332.7 69.0h0M318.3 78.7h0M332.6 65.4h0M335.1 74.8h0M326.9 68.4h0M326.8 63.1h0M326.7 79.0h0M322.2 73.3h0M321.8 67.9h0M308.1 82.4h0M315.3 71.1h0M331.8 67.0h0M335.2 71.9h0M318.1 68.2h0M318.6 68.1h0M343.1 77.7h0M307.9 86.4h0M311.3 86.5h0M338.6 79.7h0M306.3 78.6h0M328.8 67.6h0M312.3 80.7h0M329.0 73.1h0M329.9 55.7h0M335.6 68.7h0M343.4 71.3h0M330.5 69.0h0M335.1 70.1h0M335.3 62.8h0M339.5 70.8h0M326.3 66.5h0M358.3 69.8h0M349.6 52.1h0M354.9 68.0h0M329.2 76.4h0M332.3 68.5h0M357.9 39.6h0M340.4 60.6h0M337.1 72.7h0M319.9 75.5h0M342.4 59.0h0M335.7 71.0h0M345.4 74.4h0M335.4 45.3h0M348.9 68.9h0M346.7 68.6h0M340.9 70.3h0M335.7 64.2h0M333.4 72.9h0M335.3 72.9h0M329.8 66.4h0M344.3 54.5h0M339.5 72.6h0M340.4 71.6h0M336.6 68.1h0M329.7 78.6h0M326.0 62.8h0M323.0 76.1h0M319.6 76.7h0M349.9 72.6h0M351.2 67.0h0M321.6 79.6h0M324.0 67.1h0M348.4 72.0h0M340.0 63.2h0M338.1 68.8h0M324.4 61.4h0M325.9 74.8h0M321.9 39.1h0M335.7 44.2h0M335.5 66.3h0M337.0 52.7h0M359.5 61.0h0M344.6 67.5h0M336.9 77.1h0M332.4 63.2h0M334.0 64.4h0M319.6 72.5h0M350.7 71.5h0M319.8 74.2h0M324.4 64.6h0M335.1 67.0h0M333.4 53.6h0M338.1 57.2h0M366.2 64.3h0M345.4 69.4h0M345.9 72.1h0M314.5 74.6h0M344.7 72.8h0M333.5 64.6h0M330.1 60.7h0M325.1 75.0h0M329.4 71.3h0M343.3 71.7h0M334.7 57.8h0M319.4 64.7h0M339.4 75.4h0M341.1 67.5h0M320.5 76.3h0M342.3 63.5h0M347.7 69.0h0M331.1 67.2h0M339.3 72.1h0M331.6 66.8h0M329.3 73.2h0M347.5 50.8h0M341.6 63.8h0M335.8 75.3h0M348.9 71.9h0M320.7 77.1h0M346.8 63.7h0M323.5 41.4h0M343.2 65.8h0M342.0 68.4h0M332.2 71.5h0M346.3 72.2h0M318.1 79.8h0M324.0 75.2h0M325.9 68.8h0M331.8 53.4h0M332.4 75.8h0M334.9 72.2h0M357.0 61.2h0M320.5 79.3h0M360.3 62.0h0M357.3 53.3h0M325.4 64.9h0M326.5 74.7h0M346.6 66.1h0M333.6 77.3h0M328.9 75.7h0M354.3 51.1h0M340.6 71.4h0M344.0 70.4h0M336.8 69.6h0M343.8 75.4h0M337.5 67.1h0M344.7 74.8h0M342.8 68.8h0M344.5 67.3h0M321.0 76.2h0M342.1 74.1h0M351.3 72.4h0M342.6 74.0h0M332.5 57.3h0M341.3 71.7h0M349.7 70.9h0M339.8 82.1h0M353.0 75.1h0M359.0 80.1h0M335.5 80.1h0M336.4 71.6h0M337.9 75.2h0M334.3 74.5h0M335.4 77.9h0M341.7 84.7h0M341.8 83.9h0M339.7 72.2h0M360.7 79.5h0M348.0 76.0h0M355.5 72.2h0M353.2 79.4h0M334.3 81.7h0M334.6 83.5h0M360.9 72.4h0M339.3 74.6h0M339.8 73.6h0M356.1 79.4h0M341.1 68.0h0M339.7 74.2h0M346.5 70.4h0M337.2 83.7h0M347.5 78.9h0M343.2 80.0h0M349.2 76.1h0M347.9 79.3h0M353.5 81.3h0M336.9 70.6h0M335.8 82.4h0M337.4 73.4h0M338.4 67.3h0M346.2 79.9h0M356.0 78.8h0M336.7 81.6h0M348.5 63.2h0M344.0 84.0h0M351.8 77.3h0M350.9 61.2h0M344.1 84.0h0M335.0 81.5h0M341.2 80.8h0M348.4 84.0h0M349.8 74.3h0M349.2 59.2h0M359.8 80.4h0M348.6 80.9h0M353.5 78.8h0M340.4 71.0h0M342.4 78.7h0M339.7 66.3h0M338.3 68.1h0M348.8 84.6h0M343.6 76.9h0M344.7 77.5h0" stroke="#e41a1c" stroke-opacity="0.82" stroke-width="2.5" stroke-linecap="round" fill="none"/>
<path d="M302.5 105.1h0M306.4 99.7h0M304.2 95.9h0M312.0 99.6h0M304.8 98.2h0M297.7 97.9h0M313.5 95.5h0M309.3 102.3h0M305.4 95.5h0M305.3 102.3h0M311.0 101.6h0M306.2 98.8h0M300.5 99.5h0M303.5 98.5h0M299.1 95.6h0M306.4 106.4h0M305.5 96.9h0M312.8 94.9h0M296.5 97.0h0M311.3 103.6h0M317.4 95.1h0M313.3 104.8h0M312.0 99.1h0M307.7 99.1h0M311.7 97.8h0M311.5 94.9h0M311.0 100.5h0M309.0 96.4h0M297.6 94.9h0M305.6 99.1h0M309.8 104.0h0M313.6 98.8h0M303.8 103.5h0M305.1 97.3h0M299.5 100.1h0M304.1 97.0h0M318.7 96.0h0M295.9 97.7h0M307.4 95.3h0M304.8 101.9h0M307.7 95.6h0M315.7 102.6h0M299.2 103.0h0M299.9 101.2h0M308.7 106.6h0M302.8 104.5h0M302.5 105.0h0M300.3 99.3h0M302.2 101.3h0M310.0 103.0h0M302.3 98.2h0M315.9 102.5h0M318.5 95.9h0M310.5 98.0h0M312.5 102.6h0M307.8 102.5h0M298.8 101.4h0M299.1 97.8h0M306.0 100.4h0M301.3 103.5h0M309.5 99.4h0M307.0 101.7h0M303.9 96.0h0M311.8 96.2h0M309.8 96.9h0M312.7 95.9h0M308.3 103.6h0M297.4 95.4h0M312.0 101.0h0M311.4 106.0h0M301.7 98.9h0M308.0 100.1h0M303.1 95.9h0M307.8 100.1h0M304.1 102.9h0M298.3 96.9h0M307.2 97.4h0M304.4 102.7h0M317.5 95.7h0M304.9 97.0h0M310.2 101.8h0M313.2 101.1h0M297.6 100.6h0M299.8 98.7h0M311.6 99.9h0M296.5 99.3h0M315.0 100.8h0M305.0 99.4h0M304.0 96.8h0M313.2 97.8h0M305.4 100.8h0M312.0 97.5h0M303.8 104.2h0M305.9 95.1h0M296.4 98.4h0M310.5 102.3h0M297.3 98.2h0M297.9 101.6h0M309.4 98.6h0M315.1 95.1h0M305.1 101.3h0M300.2 103.0h0M316.4 100.2h0M309.2 99.5h0M296.8 95.9h0M305.6 105.8h0M302.6 101.5h0M303.0 96.9h0M303.3 96.1h0M315.9 96.1h0M301.0 100.5h0M301.6 103.2h0M307.2 101.5h0M313.6 97.3h0M299.8 96.1h0M310.7 106.3h0M318.4 95.3h0M315.9 99.7h0M301.4 99.6h0M297.7 94.9h0M298.0 99.6h0M301.8 99.4h0M302.4 97.0h0M302.3 101.4h0M299.9 99.0h0M314.5 98.0h0M316.4 102.2h0M311.4 105.1h0M312.7 103.4h0M306.4 102.6h0M308.4 99.6h0M298.1 97.4h0M318.1 94.8h0M309.3 105.1h0M305.8 102.2h0M309.9 99.9h0M311.1 96.9h0M303.7 104.8h0M307.5 98.4h0M308.7 98.2h0M310.9 98.1h0M305.2 101.6h0M312.1 102.4h0M317.0 96.2h0M304.5 94.9h0M299.2 103.2h0M309.6 98.3h0M313.4 103.3h0M315.3 103.0h0M318.0 97.9h0M303.0 98.6h0M317.9 96.0h0M309.4 105.4h0M315.4 95.2h0M303.9 97.6h0M306.7 103.2h0M308.6 96.6h0M300.0 102.5h0M308.5 99.7h0M305.3 100.6h0M309.7 104.1h0M315.1 99.2h0M302.4 97.4h0M298.8 97.5h0M310.9 94.9h0M311.9 98.4h0M308.3 101.3h0M301.0 101.1h0M314.7 102.5h0M313.6 99.3h0M304.4 104.9h0M312.8 101.5h0M313.7 99.0h0M307.4 103.6h0M308.9 97.3h0M315.0 99.1h0M302.2 99.3h0M308.5 102.1h0M314.1 97.6h0M305.1 103.2h0M301.1 102.1h0M301.9 100.7h0M310.1 98.8h0M314.1 100.0h0M310.7 105.3h0M304.3 99.2h0M310.2 103.8h0M303.4 104.8h0M302.9 94.8h0M312.7 95.3h0M307.5 99.9h0M314.1 98.0h0M301.5 98.9h0M307.4 99.5h0M309.5 103.8h0M306.5 105.8h0M306.2 101.7h0M306.7 102.7h0M307.4 96.3h0M313.0 102.1h0M299.1 100.6h0M300.6 99.1h0M306.4 104.1h0M315.9 98.9h0M306.5 102.1h0M318.2 98.7h0M313.0 99.5h0M298.5 101.1h0M315.0 101.5h0M303.3 104.5h0M307.4 100.0h0M303.9 104.3h0M312.7 104.5h0M302.9 97.6h0M314.0 101.1h0M297.4 99.7h0M296.7 99.1h0M305.5 106.0h0M298.1 101.3h0M312.2 98.6h0M303.1 97.9h0M299.2 101.1h0M304.3 98.9h0M308.1 102.6h0M305.2 104.2h0M306.3 104.3h0M308.6 103.3h0M313.5 105.0h0M301.5 95.1h0M300.8 95.9h0M306.3 103.8h0M312.5 101.5h0M304.2 101.1h0M305.9 97.0h0M304.1 99.9h0M311.6 104.4h0M305.5 104.3h0M297.2 99.8h0M315.6 99.8h0M314.4 102.8h0M299.3 102.2h0M305.5 96.8h0M300.1 96.4h0M313.2 97.3h0M298.0 101.1h0M312.9 96.5h0M311.2 105.8h0M306.0 94.9h0M300.7 102.9h0M305.0 105.6h0M301.5 96.1h0M312.5 95.4h0M303.5 95.8h0M309.8 106.1h0M305.3 97.3h0M298.3 101.7h0M317.1 94.8h0M303.4 104.3h0M300.0 101.5h0M312.9 101.7h0M314.7 96.9h0M302.3 103.1h0M301.6 96.2h0M305.3 95.8h0M312.5 102.7h0M302.8 103.5h0M297.6 95.5h0M294.1 100.6h0M301.2 108.0h0M318.7 99.3h0M308.4 107.7h0M312.3 108.8h0M293.9 101.4h0M297.3 100.7h0M318.3 100.6h0M311.2 111.2h0M310.6 107.5h0M306.1 110.2h0M309.0 106.7h0M311.7 105.6h0M304.3 108.5h0M319.6 94.8h0M294.9 105.9h0M317.5 101.6h0M318.6 99.7h0M309.0 110.5h0M296.3 107.0h0M303.6 108.0h0M294.9 103.0h0M312.6 95.7h0M303.7 105.3h0M313.4 109.9h0M308.4 106.8h0M315.4 104.9h0M295.9 96.8h0M295.5 105.2h0M301.4 110.4h0M292.0 98.6h0M313.2 104.5h0M299.0 100.3h0M315.4 102.8h0M302.0 97.3h0M291.7 97.0h0M299.4 110.5h0M293.9 95.2h0M313.3 105.5h0M306.1 108.3h0M314.2 108.0h0M299.7 110.3h0M297.5 95.0h0M291.4 97.8h0M311.7 102.3h0M292.1 100.0h0M319.4 100.9h0M317.5 100.3h0M320.2 101.2h0M310.4 98.0h0M309.5 105.5h0M306.7 100.5h0M313.0 97.1h0M315.2 106.7h0M311.9 109.6h0M310.5 108.9h0M318.3 95.9h0M315.0 105.5h0M320.2 101.1h0M305.3 105.7h0M319.7 100.2h0M319.0 97.2h0M313.8 109.8h0M300.5 96.6h0M316.8 96.1h0M293.3 94.8h0M311.7 110.0h0M301.5 108.7h0M313.2 109.4h0M302.9 96.2h0M306.4 107.0h0M315.6 98.2h0M316.8 104.4h0M298.2 106.4h0M319.3 102.7h0M315.9 107.3h0M315.7 102.6h0M314.6 108.9h0M299.1 109.1h0M298.6 95.0h0M297.5 96.7h0M300.8 109.0h0M293.4 101.2h0M299.2 111.8h0M299.7 115.1h0M299.8 116.2h0M291.7 123.1h0M286.5 107.8h0M304.9 110.1h0M284.7 113.5h0M304.6 107.3h0M300.8 126.3h0M286.1 119.5h0M294.5 117.0h0M295.3 115.3h0M301.8 110.1h0M297.6 126.7h0M295.3 119.1h0M303.0 106.8h0M288.9 110.4h0M312.5 107.9h0M282.6 120.5h0M290.5 112.6h0M311.8 121.2h0M310.2 109.0h0M309.6 116.7h0M309.5 113.4h0M309.5 110.8h0M312.8 124.0h0M312.4 119.1h0M311.1 114.4h0M307.0 116.4h0" stroke="#3a56aa" stroke-opacity="0.85" stroke-width="2.5" stroke-linecap="round" fill="none"/>
<path d="M305.2 106.4h0M310.5 104.1h0M303.7 99.5h0M312.6 101.6h0M301.2 95.8h0M302.4 100.3h0M307.1 95.5h0M313.0 98.9h0M307.6 101.0h0M307.0 102.6h0M313.6 103.7h0M312.1 98.6h0M312.7 102.9h0M314.1 100.8h0M315.0 95.2h0M317.1 100.6h0M308.8 96.2h0M301.5 103.1h0M305.6 105.7h0M310.9 100.7h0M315.5 95.4h0M312.9 101.2h0M311.1 104.5h0M310.2 96.4h0M308.6 103.5h0M304.8 96.6h0M310.2 106.1h0M308.7 104.4h0M296.5 99.1h0M315.1 97.2h0M303.9 102.4h0M318.0 96.2h0M307.0 98.6h0M309.3 100.7h0M315.0 97.7h0M307.2 94.8h0M300.1 95.3h0M303.4 101.3h0M297.5 95.9h0M305.5 95.3h0M303.8 97.9h0M309.0 99.8h0M311.9 99.0h0M318.2 97.8h0M298.6 100.1h0M314.8 103.9h0M299.3 98.8h0M303.3 98.1h0M299.6 98.8h0M313.5 104.1h0M314.1 101.8h0M318.3 96.9h0M297.7 97.1h0M296.8 99.6h0M302.2 97.0h0M299.5 102.9h0M307.4 95.0h0M309.5 97.4h0M301.9 100.7h0M302.8 100.5h0M314.4 96.9h0M297.3 100.0h0M300.2 102.6h0M301.6 99.9h0M303.2 102.9h0M312.2 95.3h0M307.6 106.4h0M314.6 101.9h0M311.7 95.2h0M314.9 100.9h0M313.5 100.7h0M309.0 106.4h0M308.9 104.8h0M308.4 99.3h0M304.2 104.1h0M307.5 106.2h0M296.9 95.9h0M318.0 98.7h0M302.7 100.7h0M306.1 103.4h0M318.0 97.5h0M313.7 104.4h0M309.5 96.0h0M307.1 105.1h0M308.1 104.2h0M298.8 98.8h0M307.1 104.2h0M307.8 98.8h0M305.9 95.7h0M314.1 101.7h0M310.9 99.0h0M308.3 102.5h0M299.9 98.5h0M310.3 105.7h0M311.5 100.2h0M307.8 96.5h0M299.6 103.6h0M317.1 96.6h0M312.7 100.7h0M309.8 105.3h0M309.3 104.8h0M317.3 95.6h0M312.5 105.1h0M304.0 102.2h0M309.3 104.1h0M298.9 100.3h0M307.6 106.2h0M298.5 95.8h0M312.3 97.8h0M301.7 104.0h0M309.2 97.8h0M305.4 95.7h0M308.0 98.5h0M317.6 95.8h0M306.8 101.5h0M306.9 105.7h0M300.7 101.4h0M313.7 99.7h0M303.1 102.7h0M309.0 100.7h0M304.0 98.5h0M310.5 103.9h0M303.7 102.8h0M307.6 96.2h0M304.6 97.9h0M314.0 98.9h0M304.6 102.5h0M307.9 98.2h0M296.8 97.1h0M313.2 98.9h0M311.3 106.1h0M301.1 101.6h0M318.4 96.0h0M303.3 96.9h0M301.4 100.3h0M309.8 97.7h0M302.2 105.6h0M305.9 106.7h0M299.6 99.3h0M298.4 102.3h0M311.9 99.6h0M301.4 101.7h0M308.7 100.1h0M302.1 102.0h0M306.0 95.8h0M305.6 97.9h0M306.8 97.5h0M299.0 98.6h0M302.1 94.9h0M302.1 97.2h0M307.1 99.1h0M298.3 99.4h0M302.6 98.8h0M306.9 96.6h0M306.2 96.2h0M313.9 103.5h0M305.0 101.8h0M318.6 96.8h0M302.1 96.0h0M312.0 104.0h0M309.9 99.4h0M309.4 99.9h0M312.9 104.9h0M302.9 103.7h0M308.1 105.1h0M316.0 95.4h0M304.3 99.3h0M300.3 103.0h0M314.1 95.0h0M303.4 96.2h0M303.5 102.3h0M311.1 98.1h0M310.0 99.0h0M315.0 99.9h0M304.3 103.5h0M306.4 94.9h0M302.9 105.1h0M314.5 99.9h0M312.8 95.1h0M306.8 97.2h0M310.9 103.0h0M300.0 102.2h0M315.8 96.5h0M317.5 96.9h0M296.6 99.2h0M305.9 97.4h0M309.6 96.1h0M307.5 95.4h0M304.0 100.9h0M301.8 102.8h0M312.8 97.3h0M309.0 95.4h0M307.8 97.3h0M313.9 96.3h0M307.1 103.9h0M305.6 100.5h0M315.3 100.3h0M315.9 100.2h0M310.5 97.3h0M306.9 104.5h0M318.6 95.4h0M306.1 102.8h0M308.6 98.4h0M298.9 98.3h0M299.6 95.4h0M311.9 105.5h0M316.8 101.3h0M309.5 102.6h0M298.1 98.1h0M314.5 94.9h0M311.9 104.3h0M311.5 105.5h0M309.5 100.3h0M312.8 105.3h0M306.8 94.9h0M300.6 102.7h0M300.7 96.5h0M312.9 105.0h0M303.6 101.8h0M307.7 103.3h0M309.2 101.4h0M310.7 101.8h0M299.2 96.2h0M311.8 98.5h0M300.0 102.2h0M311.0 102.2h0M302.8 102.6h0M304.8 104.0h0M304.5 96.7h0M305.5 101.6h0M310.9 95.1h0M312.4 103.7h0M298.7 99.9h0M304.9 101.6h0M311.7 105.6h0M304.3 100.4h0M312.4 105.5h0M309.6 96.3h0M297.7 99.2h0M317.3 99.8h0M306.1 103.6h0M308.7 106.6h0M307.4 100.4h0M316.1 98.7h0M299.3 97.7h0M311.0 96.0h0M300.8 97.9h0M301.1 99.4h0M316.5 97.6h0M314.2 101.0h0M300.3 98.1h0M311.1 96.9h0M306.6 104.5h0M299.1 96.9h0M309.8 98.0h0M314.9 97.7h0M295.7 96.7h0M307.3 95.5h0M313.0 98.1h0M318.3 95.3h0M311.8 100.6h0M314.6 95.9h0M302.3 95.4h0M314.4 103.5h0M303.5 102.2h0M307.3 95.5h0M308.9 100.0h0M312.5 108.4h0M316.2 106.2h0M318.1 98.9h0M303.6 109.8h0M302.7 101.0h0M306.4 102.3h0M304.2 108.5h0M313.4 104.2h0M320.8 96.6h0M313.6 107.3h0M296.4 103.1h0M307.7 101.9h0M312.8 102.7h0M295.4 96.6h0M295.6 107.6h0M302.5 110.6h0M305.5 102.2h0M292.3 100.6h0M320.5 97.2h0M301.4 104.7h0M312.9 107.3h0M303.4 105.7h0M318.8 101.4h0M315.3 103.9h0M300.7 109.9h0M311.8 96.9h0M310.2 108.5h0M317.2 100.2h0M305.2 111.9h0M295.8 107.0h0M295.0 97.9h0M300.3 104.9h0M314.0 100.3h0M303.6 111.4h0M321.0 95.2h0M292.2 100.8h0M316.0 107.2h0M307.8 110.5h0M303.3 108.6h0M295.3 101.5h0M310.9 103.3h0M314.9 99.2h0M292.2 96.7h0M310.1 103.8h0M292.1 96.5h0M309.3 104.8h0M319.5 96.0h0M309.9 109.7h0M306.1 103.1h0M308.1 106.1h0M303.6 110.8h0M311.8 104.0h0M307.9 104.1h0M304.8 104.2h0M291.2 97.2h0M294.1 99.0h0M319.3 100.0h0M300.8 109.3h0M306.5 106.1h0M316.5 97.8h0M316.3 99.4h0M310.1 107.7h0M307.2 109.1h0M300.7 111.2h0M313.0 104.7h0M316.5 97.5h0M319.7 99.9h0M308.7 108.4h0M310.4 108.7h0M311.4 98.4h0M299.5 110.2h0M294.8 104.1h0M296.0 96.9h0M309.6 107.1h0M294.8 98.2h0M319.0 100.0h0M300.1 106.4h0M308.8 107.0h0M314.1 107.1h0M312.8 100.8h0M317.5 100.3h0M292.1 98.9h0M306.2 111.5h0M289.0 113.5h0M285.1 114.4h0M298.3 113.2h0M302.9 122.8h0M303.3 112.1h0M303.1 110.4h0M298.6 108.4h0M300.5 110.1h0M300.8 120.4h0M296.2 120.5h0M291.5 116.8h0M296.0 111.7h0M309.8 109.0h0M301.6 118.2h0M300.0 108.9h0M308.1 105.9h0M295.7 118.2h0M298.3 106.5h0M290.2 114.0h0M287.7 120.9h0M308.5 107.7h0M311.1 110.2h0M318.7 126.8h0M307.9 108.5h0M306.4 113.5h0M315.3 107.3h0M310.3 107.0h0M319.4 109.8h0" stroke="#3a56aa" stroke-opacity="0.85" stroke-width="2.5" stroke-linecap="round" fill="none"/>
<path d="M317.9 96.8h0M304.2 95.9h0M313.8 101.1h0M312.6 101.7h0M312.2 100.5h0M300.4 94.9h0M312.9 102.3h0M302.8 102.6h0M304.3 99.6h0M303.7 95.0h0M309.6 105.3h0M295.7 97.2h0M306.1 99.0h0M296.9 95.9h0M310.7 102.2h0M314.4 95.1h0M299.7 96.7h0M302.9 95.8h0M316.2 98.6h0M304.4 96.7h0M314.6 99.3h0M318.3 95.1h0M312.7 104.5h0M305.2 103.4h0M303.0 102.0h0M315.8 99.5h0M316.7 97.5h0M297.9 100.8h0M308.2 98.2h0M307.5 98.2h0M301.2 102.9h0M311.5 97.9h0M302.2 102.5h0M303.5 96.8h0M314.3 96.7h0M305.4 96.5h0M310.4 99.8h0M311.7 104.5h0M309.3 102.6h0M318.5 95.9h0M305.6 106.0h0M313.5 99.5h0M309.2 100.9h0M309.1 99.8h0M310.1 102.4h0M307.6 106.7h0M309.3 97.4h0M308.7 98.0h0M310.6 104.3h0M310.7 98.4h0M300.0 97.3h0M313.4 105.1h0M304.8 105.5h0M309.7 99.8h0M305.6 98.5h0M317.4 95.3h0M298.0 98.9h0M298.7 101.4h0M311.1 101.3h0M307.1 101.0h0M310.1 100.9h0M312.9 97.5h0M310.6 105.8h0M307.8 98.3h0M313.2 104.8h0M307.5 94.9h0M310.2 96.4h0M308.5 101.8h0M296.2 95.7h0M311.1 94.8h0M306.1 103.2h0M299.6 104.1h0M304.7 99.4h0M303.7 106.2h0M312.1 98.8h0M305.4 101.1h0M310.0 96.9h0M307.4 99.1h0M313.6 99.0h0M300.0 101.6h0M308.4 105.4h0M313.7 96.1h0M313.4 95.4h0M313.8 104.6h0M307.2 99.1h0M307.2 103.3h0M307.2 101.4h0M306.8 97.6h0M300.8 95.7h0M307.9 105.7h0M309.6 97.1h0M305.7 104.1h0M310.0 98.3h0M305.1 105.8h0M299.7 95.9h0M310.0 106.1h0M312.0 101.7h0M301.9 102.9h0M310.5 96.6h0M311.5 99.3h0M304.9 104.8h0M313.6 97.3h0M304.5 98.6h0M303.0 102.4h0M310.9 102.4h0M298.0 98.3h0M313.9 103.3h0M313.4 101.6h0M301.8 101.6h0M300.7 96.4h0M301.6 103.7h0M308.9 96.5h0M309.3 98.7h0M302.2 96.6h0M309.6 103.2h0M301.0 98.1h0M309.6 103.1h0M298.6 101.8h0M302.8 98.7h0M314.2 102.6h0M311.3 99.7h0M299.1 100.4h0M315.6 101.8h0M308.5 103.6h0M313.1 96.5h0M314.2 98.2h0M316.0 98.7h0M311.0 103.5h0M317.5 96.9h0M315.5 98.2h0M301.2 105.0h0M300.7 99.8h0M316.3 97.0h0M301.6 96.6h0M306.9 102.0h0M303.7 100.1h0M304.0 96.2h0M311.5 94.9h0M310.2 95.5h0M306.5 97.2h0M312.0 99.1h0M313.3 95.3h0M303.7 106.1h0M299.2 102.5h0M299.3 96.6h0M308.1 98.8h0M309.7 97.3h0M299.3 100.0h0M313.1 104.7h0M303.7 96.4h0M305.5 103.9h0M313.4 100.7h0M298.4 100.4h0M306.3 96.9h0M301.6 94.8h0M314.1 104.4h0M304.3 95.7h0M298.4 99.2h0M300.2 99.0h0M313.0 96.4h0M313.3 97.4h0M300.0 104.4h0M303.0 104.8h0M308.7 106.5h0M296.2 95.8h0M310.8 95.7h0M298.3 100.1h0M305.6 101.5h0M315.6 98.1h0M300.5 95.7h0M315.9 100.9h0M297.0 97.0h0M300.5 97.4h0M308.5 102.1h0M313.0 96.2h0M297.3 96.8h0M308.5 96.5h0M312.6 95.2h0M315.3 102.1h0M314.8 102.2h0M302.9 102.3h0M314.1 98.3h0M313.0 97.8h0M302.3 100.0h0M311.6 102.7h0M311.8 98.0h0M310.7 105.0h0M313.7 101.3h0M299.4 95.1h0M317.2 98.6h0M311.5 95.4h0M302.8 103.9h0M318.3 96.7h0M298.7 101.6h0M311.9 102.5h0M307.2 105.5h0M310.2 105.8h0M307.3 100.0h0M300.5 97.1h0M307.2 95.3h0M310.2 102.9h0M297.8 99.0h0M303.3 98.3h0M311.2 105.2h0M297.0 98.5h0M305.3 100.7h0M308.3 98.1h0M303.6 97.5h0M312.4 99.6h0M303.2 100.3h0M305.0 98.4h0M308.4 103.4h0M299.8 102.8h0M301.2 103.7h0M301.4 98.5h0M296.7 96.8h0M310.1 96.8h0M309.8 96.2h0M305.0 95.2h0M302.0 101.4h0M299.6 103.2h0M299.6 98.8h0M297.6 97.3h0M312.3 99.0h0M306.1 106.7h0M310.4 100.6h0M304.1 106.5h0M308.1 102.9h0M310.9 102.3h0M303.5 101.6h0M316.6 94.8h0M309.4 96.1h0M305.1 106.5h0M308.7 99.6h0M303.7 102.6h0M307.2 101.6h0M308.7 100.2h0M302.8 98.6h0M312.0 104.6h0M311.4 101.0h0M305.4 101.1h0M305.0 102.8h0M300.3 102.0h0M317.7 95.4h0M301.8 104.0h0M301.5 102.9h0M296.8 95.5h0M306.5 100.3h0M318.2 96.8h0M299.6 102.2h0M309.3 100.2h0M307.6 103.5h0M308.7 100.9h0M300.5 98.2h0M304.0 96.1h0M299.1 97.5h0M316.1 95.4h0M308.7 95.1h0M311.8 99.0h0M305.0 100.2h0M314.8 102.2h0M315.2 97.7h0M311.8 95.3h0M310.4 101.1h0M312.7 97.4h0M304.0 105.5h0M297.9 97.9h0M315.1 106.7h0M304.2 110.8h0M295.5 104.1h0M292.8 103.1h0M300.2 103.8h0M311.3 106.0h0M304.6 103.9h0M318.4 98.4h0M292.8 99.8h0M296.4 97.9h0M314.9 107.2h0M302.1 102.8h0M296.9 98.7h0M317.3 102.5h0M308.2 105.6h0M301.8 104.4h0M313.7 109.5h0M299.3 104.3h0M315.8 99.1h0M303.4 108.9h0M315.9 101.2h0M315.7 101.9h0M305.7 106.8h0M300.3 109.0h0M318.8 96.5h0M319.5 100.5h0M307.4 106.5h0M318.1 102.7h0M295.0 104.6h0M310.6 106.9h0M297.9 108.2h0M315.3 103.8h0M318.4 97.3h0M307.3 109.0h0M296.0 104.0h0M297.5 94.9h0M317.2 99.4h0M314.5 102.5h0M302.7 107.6h0M302.2 111.2h0M299.8 101.3h0M302.8 110.6h0M294.3 105.8h0M300.8 108.0h0M294.2 97.7h0M294.9 103.4h0M316.6 96.8h0M313.6 108.8h0M295.1 101.5h0M299.0 109.2h0M309.4 103.0h0M296.0 100.0h0M294.5 97.7h0M317.0 105.6h0M298.7 100.7h0M303.6 108.6h0M320.8 95.2h0M294.3 103.4h0M310.8 111.1h0M308.0 111.1h0M308.5 111.3h0M316.1 105.5h0M316.9 97.1h0M312.9 100.3h0M296.6 100.9h0M296.8 107.0h0M298.2 107.9h0M302.0 108.1h0M300.7 103.1h0M308.9 110.6h0M295.0 96.9h0M310.6 110.4h0M291.8 97.6h0M295.7 107.1h0M293.5 104.0h0M318.1 95.3h0M293.5 100.4h0M297.2 100.3h0M298.5 103.0h0M292.6 99.2h0M315.5 104.5h0M298.5 109.2h0M291.2 96.9h0M288.2 110.8h0M296.2 109.9h0M296.8 112.4h0M295.4 106.3h0M287.4 106.6h0M297.1 111.1h0M297.1 111.1h0M308.1 106.6h0M291.6 108.6h0M306.3 109.7h0M304.8 105.8h0M299.0 116.5h0M311.8 117.6h0M293.9 110.0h0M306.4 120.0h0M302.3 106.2h0M296.8 110.1h0M303.1 120.8h0M307.0 108.4h0M294.6 108.7h0M319.4 122.1h0M315.9 115.4h0M313.8 114.3h0M307.9 112.2h0M314.2 113.9h0M317.5 109.6h0M312.8 108.3h0M306.7 110.4h0" stroke="#3a56aa" stroke-opacity="0.85" stroke-width="2.5" stroke-linecap="round" fill="none"/>
<line x1="307.6" y1="31" x2="307.6" y2="128.5" stroke="#222" stroke-width="0.8" stroke-linecap="butt"/>
<line x1="316.3" y1="31" x2="316.3" y2="128.5" stroke="#222" stroke-width="0.8" stroke-linecap="butt"/>
<line x1="270.5" y1="86.3" x2="367.6" y2="86.3" stroke="#222" stroke-width="0.8" stroke-linecap="butt"/>
<line x1="270.5" y1="94.4" x2="367.6" y2="94.4" stroke="#222" stroke-width="0.8" stroke-linecap="butt"/>
<line x1="293.7" y1="122.9" x2="343.7" y2="43.9" stroke="#000" stroke-width="1.9" stroke-linecap="butt"/>
<text x="324.6" y="122" font-size="8.6" text-anchor="start" fill="#222">R=0.61</text>
<text x="387.3" y="62" font-size="8.7" text-anchor="start" fill="#000">RNA-seq</text>
<circle cx="376.8" cy="74.9" r="1.7" fill="#e84530"/>
<text x="383" y="77.9" font-size="8.6" text-anchor="start" fill="#000">Upregulated</text>
<circle cx="376.8" cy="90.15" r="1.7" fill="#c4c4c4"/>
<text x="383" y="93.15" font-size="8.6" text-anchor="start" fill="#000">Unchanged</text>
<circle cx="376.8" cy="105.4" r="1.7" fill="#4a62b0"/>
<text x="383" y="108.4" font-size="8.6" text-anchor="start" fill="#000">Downregulated</text>
<text x="525.8" y="31.4" font-size="9.9" text-anchor="middle" fill="#000">Upreg</text>
<text x="586.1" y="31.4" font-size="9.9" text-anchor="middle" fill="#000">Unchanged</text>
<text x="650.5" y="31.4" font-size="9.9" text-anchor="middle" fill="#000">Downreg</text>
<text x="587.7" y="51.9" font-size="10.1" text-anchor="middle" fill="#000">H3K79me3</text>
<line x1="503.5" y1="55.9" x2="503.5" y2="111.6" stroke="#7a7a7a" stroke-width="1.3" stroke-linecap="butt"/>
<line x1="499.6" y1="108.8" x2="503.5" y2="108.8" stroke="#333" stroke-width="0.9" stroke-linecap="butt"/>
<text x="498.4" y="110.92" font-size="5.9" text-anchor="end" fill="#4d4d4d">0</text>
<line x1="499.6" y1="101.81" x2="503.5" y2="101.81" stroke="#333" stroke-width="0.9" stroke-linecap="butt"/>
<text x="498.4" y="103.93" font-size="5.9" text-anchor="end" fill="#4d4d4d">1</text>
<line x1="499.6" y1="94.82" x2="503.5" y2="94.82" stroke="#333" stroke-width="0.9" stroke-linecap="butt"/>
<text x="498.4" y="96.94" font-size="5.9" text-anchor="end" fill="#4d4d4d">2</text>
<line x1="499.6" y1="87.83" x2="503.5" y2="87.83" stroke="#333" stroke-width="0.9" stroke-linecap="butt"/>
<text x="498.4" y="89.95" font-size="5.9" text-anchor="end" fill="#4d4d4d">3</text>
<line x1="499.6" y1="80.84" x2="503.5" y2="80.84" stroke="#333" stroke-width="0.9" stroke-linecap="butt"/>
<text x="498.4" y="82.96" font-size="5.9" text-anchor="end" fill="#4d4d4d">4</text>
<line x1="499.6" y1="73.85" x2="503.5" y2="73.85" stroke="#333" stroke-width="0.9" stroke-linecap="butt"/>
<text x="498.4" y="75.97" font-size="5.9" text-anchor="end" fill="#4d4d4d">5</text>
<line x1="499.6" y1="66.86" x2="503.5" y2="66.86" stroke="#333" stroke-width="0.9" stroke-linecap="butt"/>
<text x="498.4" y="68.98" font-size="5.9" text-anchor="end" fill="#4d4d4d">6</text>
<line x1="499.6" y1="59.87" x2="503.5" y2="59.87" stroke="#333" stroke-width="0.9" stroke-linecap="butt"/>
<text x="498.4" y="61.99" font-size="5.9" text-anchor="end" fill="#4d4d4d">7</text>
<line x1="515.5" y1="55.9" x2="515.5" y2="111.2" stroke="#9a9a9a" stroke-width="0.85" stroke-dasharray="3,2.6" stroke-linecap="butt"/>
<line x1="543" y1="55.9" x2="543" y2="111.2" stroke="#9a9a9a" stroke-width="0.85" stroke-dasharray="3,2.6" stroke-linecap="butt"/>
<line x1="503.3" y1="111.2" x2="558.7" y2="111.2" stroke="#333" stroke-width="1" stroke-linecap="butt"/>
<line x1="505.4" y1="111.2" x2="505.4" y2="114.8" stroke="#333" stroke-width="0.9" stroke-linecap="butt"/>
<line x1="517.5" y1="111.2" x2="517.5" y2="114.8" stroke="#333" stroke-width="0.9" stroke-linecap="butt"/>
<line x1="544.7" y1="111.2" x2="544.7" y2="114.8" stroke="#333" stroke-width="0.9" stroke-linecap="butt"/>
<line x1="556.5" y1="111.2" x2="556.5" y2="114.8" stroke="#333" stroke-width="0.9" stroke-linecap="butt"/>
<polyline points="503.9,100.2 504.19,100.17 504.48,100.15 504.77,100.12 505.06,100.1 505.35,100.07 505.64,100.05 505.93,100.02 506.22,100 506.51,99.97 506.8,99.95 507.09,99.92 507.38,99.88 507.67,99.85 507.96,99.81 508.25,99.76 508.54,99.71 508.85,99.63 509.17,99.5 509.48,99.33 509.79,99.14 510.11,98.94 510.42,98.75 510.73,98.58 511.05,98.44 511.36,98.35 511.67,98.31 511.98,98.32 512.28,98.35 512.59,98.39 512.89,98.46 513.19,98.53 513.5,98.63 513.8,98.74 514.11,98.87 514.46,99.53 514.8,100.77 515.15,101.97 515.5,102.51 516.33,98.72 517.15,94.47 517.98,93.71 518.8,93.42 519.53,93.48 520.27,93.61 521,93.77 521.69,93.94 522.38,94.16 523.06,94.41 523.75,94.68 524.44,94.97 525.12,95.27 525.81,95.58 526.5,95.87 527.19,96.17 527.88,96.51 528.56,96.86 529.25,97.23 529.94,97.59 530.62,97.94 531.31,98.27 532,98.57 532.69,98.82 533.38,99.01 534.16,99.19 534.95,99.33 535.73,99.46 536.52,99.57 537.3,99.68 538.09,99.8 538.88,99.92 539.56,100.05 540.25,100.21 540.94,100.36 541.62,100.49 542.31,100.59 543,100.62 543.31,100.62 543.62,100.61 543.93,100.6 544.24,100.59 544.55,100.58 544.86,100.56 545.17,100.54 545.47,100.52 545.78,100.5 546.09,100.49 546.4,100.47 546.71,100.45 547.02,100.44 547.33,100.42 547.64,100.41 547.93,100.4 548.22,100.4 548.51,100.39 548.8,100.38 549.09,100.38 549.38,100.37 549.67,100.36 549.96,100.36 550.25,100.35 550.54,100.35 550.83,100.34 551.12,100.33 551.41,100.33 551.7,100.32 551.99,100.32 552.28,100.31 552.57,100.31 552.86,100.3 553.15,100.3 553.44,100.29 553.73,100.29 554.02,100.28 554.31,100.28 554.6,100.27" fill="none" stroke="#000" stroke-width="1.5" stroke-linejoin="round"/>
<line x1="580" y1="55.9" x2="580" y2="111.2" stroke="#9a9a9a" stroke-width="0.85" stroke-dasharray="3,2.6" stroke-linecap="butt"/>
<line x1="607.4" y1="55.9" x2="607.4" y2="111.2" stroke="#9a9a9a" stroke-width="0.85" stroke-dasharray="3,2.6" stroke-linecap="butt"/>
<line x1="564" y1="111.2" x2="619.6" y2="111.2" stroke="#333" stroke-width="1" stroke-linecap="butt"/>
<line x1="566.5" y1="111.2" x2="566.5" y2="114.8" stroke="#333" stroke-width="0.9" stroke-linecap="butt"/>
<line x1="577.8" y1="111.2" x2="577.8" y2="114.8" stroke="#333" stroke-width="0.9" stroke-linecap="butt"/>
<line x1="605.5" y1="111.2" x2="605.5" y2="114.8" stroke="#333" stroke-width="0.9" stroke-linecap="butt"/>
<line x1="617.1" y1="111.2" x2="617.1" y2="114.8" stroke="#333" stroke-width="0.9" stroke-linecap="butt"/>
<polyline points="568.4,94.82 568.69,94.71 568.98,94.6 569.27,94.49 569.56,94.39 569.85,94.28 570.14,94.18 570.43,94.07 570.72,93.96 571.01,93.84 571.3,93.71 571.59,93.57 571.88,93.42 572.2,93.22 572.51,92.95 572.83,92.64 573.15,92.31 573.46,91.96 573.78,91.62 574.09,91.31 574.41,91.04 574.73,90.82 575.04,90.68 575.36,90.63 575.65,90.64 575.94,90.7 576.23,90.79 576.52,90.91 576.81,91.06 577.1,91.24 577.39,91.44 577.68,91.67 577.98,92.46 578.28,94.08 578.57,96.19 578.87,98.43 579.17,100.46 579.47,101.94 579.77,102.51 580.27,93.94 581.1,82.24 581.71,77.57 582.33,75.25 583.22,75.85 584.11,77 584.79,77.97 585.48,79.17 586.16,80.5 586.85,81.86 587.53,83.17 588.22,84.33 589,85.54 589.77,86.72 590.55,87.86 591.33,88.91 592.1,89.85 592.88,90.63 593.58,91.23 594.27,91.78 594.97,92.3 595.67,92.78 596.37,93.24 597.06,93.66 597.76,94.06 598.46,94.45 599.16,94.81 599.85,95.17 600.55,95.52 601.24,95.87 601.92,96.22 602.61,96.58 603.29,96.93 603.98,97.26 604.66,97.56 605.35,97.83 606.03,98.05 606.72,98.21 607.4,98.31 607.71,98.38 608.02,98.45 608.33,98.5 608.64,98.56 608.95,98.6 609.26,98.65 609.57,98.69 609.87,98.72 610.18,98.75 610.49,98.78 610.8,98.81 611.11,98.83 611.42,98.85 611.73,98.86 612.04,98.87 612.33,98.88 612.62,98.89 612.91,98.9 613.2,98.91 613.49,98.92 613.78,98.92 614.07,98.93 614.36,98.94 614.65,98.94 614.94,98.95 615.23,98.95 615.52,98.96 615.81,98.96 616.1,98.97 616.39,98.97 616.68,98.98 616.97,98.98 617.26,98.98 617.55,98.99 617.84,98.99 618.13,99 618.42,99 618.71,99.01 619,99.01" fill="none" stroke="#000" stroke-width="1.5" stroke-linejoin="round"/>
<line x1="639.8" y1="55.5" x2="639.8" y2="113.8" stroke="#8a8a8a" stroke-width="1.2" stroke-linecap="butt"/>
<line x1="667.5" y1="55.9" x2="667.5" y2="111.2" stroke="#9a9a9a" stroke-width="0.85" stroke-dasharray="3,2.6" stroke-linecap="butt"/>
<line x1="626.2" y1="111.2" x2="681.3" y2="111.2" stroke="#333" stroke-width="1" stroke-linecap="butt"/>
<line x1="627.9" y1="111.2" x2="627.9" y2="114.8" stroke="#333" stroke-width="0.9" stroke-linecap="butt"/>
<line x1="639.7" y1="111.2" x2="639.7" y2="114.8" stroke="#333" stroke-width="0.9" stroke-linecap="butt"/>
<line x1="667.5" y1="111.2" x2="667.5" y2="114.8" stroke="#333" stroke-width="0.9" stroke-linecap="butt"/>
<line x1="679.1" y1="111.2" x2="679.1" y2="114.8" stroke="#333" stroke-width="0.9" stroke-linecap="butt"/>
<polyline points="628.1,94.12 628.39,93.95 628.68,93.78 628.97,93.61 629.26,93.44 629.55,93.28 629.84,93.11 630.13,92.94 630.42,92.77 630.71,92.59 631,92.41 631.29,92.22 631.58,92.02 631.9,91.78 632.21,91.49 632.53,91.17 632.85,90.83 633.16,90.49 633.48,90.17 633.79,89.87 634.11,89.61 634.43,89.41 634.74,89.28 635.06,89.23 635.35,89.26 635.64,89.35 635.93,89.51 636.22,89.71 636.51,89.96 636.8,90.26 637.09,90.6 637.38,90.98 637.71,92.06 638.04,94.09 638.37,96.55 638.69,98.94 639.02,100.75 639.35,101.46 639.64,90.47 640.26,73.85 640.81,63.91 641.37,58.47 642.2,59.73 643.04,61.97 643.76,63.8 644.48,65.85 645.2,67.96 645.93,69.98 646.65,71.75 647.36,73.3 648.07,74.8 648.77,76.24 649.48,77.64 650.19,78.98 650.9,80.26 651.6,81.49 652.31,82.65 653.02,83.75 653.73,84.78 654.43,85.73 655.18,86.69 655.94,87.6 656.69,88.47 657.44,89.29 658.19,90.08 658.94,90.82 659.69,91.53 660.44,92.2 661.19,92.83 661.94,93.42 662.73,94.05 663.53,94.68 664.32,95.29 665.12,95.85 665.91,96.33 666.71,96.69 667.5,96.92 667.81,97.04 668.12,97.16 668.43,97.26 668.74,97.35 669.05,97.43 669.36,97.51 669.67,97.58 669.97,97.64 670.28,97.69 670.59,97.74 670.9,97.79 671.21,97.84 671.52,97.88 671.83,97.92 672.14,97.97 672.43,98.01 672.72,98.04 673.01,98.08 673.3,98.12 673.59,98.15 673.88,98.18 674.17,98.21 674.46,98.24 674.75,98.27 675.04,98.3 675.33,98.33 675.62,98.35 675.91,98.38 676.2,98.4 676.49,98.43 676.78,98.45 677.07,98.48 677.36,98.5 677.65,98.53 677.94,98.55 678.23,98.58 678.52,98.61 678.81,98.64 679.1,98.66" fill="none" stroke="#000" stroke-width="1.5" stroke-linejoin="round"/>
<text x="587.7" y="128.9" font-size="10.1" text-anchor="middle" fill="#000">TT-seq</text>
<line x1="504" y1="135.4" x2="504" y2="190.1" stroke="#7a7a7a" stroke-width="1.3" stroke-linecap="butt"/>
<line x1="500.1" y1="188.72" x2="504" y2="188.72" stroke="#333" stroke-width="0.9" stroke-linecap="butt"/>
<text x="495.1" y="191.38" font-size="7.4" text-anchor="end" fill="#4d4d4d">−0.5</text>
<line x1="500.1" y1="179.9" x2="504" y2="179.9" stroke="#333" stroke-width="0.9" stroke-linecap="butt"/>
<text x="495.1" y="182.56" font-size="7.4" text-anchor="end" fill="#4d4d4d">0.0</text>
<line x1="500.1" y1="171.08" x2="504" y2="171.08" stroke="#333" stroke-width="0.9" stroke-linecap="butt"/>
<text x="495.1" y="173.74" font-size="7.4" text-anchor="end" fill="#4d4d4d">0.5</text>
<line x1="500.1" y1="162.26" x2="504" y2="162.26" stroke="#333" stroke-width="0.9" stroke-linecap="butt"/>
<text x="495.1" y="164.92" font-size="7.4" text-anchor="end" fill="#4d4d4d">1.0</text>
<line x1="500.1" y1="153.44" x2="504" y2="153.44" stroke="#333" stroke-width="0.9" stroke-linecap="butt"/>
<text x="495.1" y="156.1" font-size="7.4" text-anchor="end" fill="#4d4d4d">1.5</text>
<line x1="500.1" y1="144.62" x2="504" y2="144.62" stroke="#333" stroke-width="0.9" stroke-linecap="butt"/>
<text x="495.1" y="147.28" font-size="7.4" text-anchor="end" fill="#4d4d4d">2.0</text>
<line x1="500.1" y1="135.8" x2="504" y2="135.8" stroke="#333" stroke-width="0.9" stroke-linecap="butt"/>
<text x="495.1" y="138.46" font-size="7.4" text-anchor="end" fill="#4d4d4d">2.5</text>
<line x1="518.1" y1="135.4" x2="518.1" y2="189.7" stroke="#9a9a9a" stroke-width="0.85" stroke-dasharray="3,2.6" stroke-linecap="butt"/>
<line x1="545.2" y1="135.4" x2="545.2" y2="189.7" stroke="#9a9a9a" stroke-width="0.85" stroke-dasharray="3,2.6" stroke-linecap="butt"/>
<line x1="504" y1="179.9" x2="559" y2="179.9" stroke="#8c8c8c" stroke-width="1.2" stroke-linecap="butt"/>
<line x1="504" y1="189.7" x2="559" y2="189.7" stroke="#333" stroke-width="1" stroke-linecap="butt"/>
<line x1="506.3" y1="189.7" x2="506.3" y2="193.3" stroke="#333" stroke-width="0.9" stroke-linecap="butt"/>
<line x1="518.1" y1="189.7" x2="518.1" y2="193.3" stroke="#333" stroke-width="0.9" stroke-linecap="butt"/>
<line x1="545.2" y1="189.7" x2="545.2" y2="193.3" stroke="#333" stroke-width="0.9" stroke-linecap="butt"/>
<line x1="556.8" y1="189.7" x2="556.8" y2="193.3" stroke="#333" stroke-width="0.9" stroke-linecap="butt"/>
<polyline points="506.5,180.25 506.79,180.27 507.08,180.29 507.37,180.31 507.66,180.33 507.95,180.35 508.24,180.37 508.53,180.38 508.82,180.4 509.11,180.42 509.4,180.43 509.69,180.45 509.98,180.47 510.27,180.48 510.56,180.5 510.85,180.52 511.14,180.54 511.43,180.57 511.72,180.59 512.01,180.62 512.3,180.65 512.59,180.68 512.88,180.71 513.17,180.74 513.46,180.78 513.75,180.84 514.04,180.93 514.33,181.04 514.62,181.17 514.91,181.31 515.2,181.46 515.49,181.6 515.78,181.73 516.07,181.85 516.36,181.94 516.65,182 516.94,182.02 517.23,181.91 517.52,181.64 517.81,181.3 518.1,180.96 518.78,180.53 519.46,180.25 520.13,180.25 520.81,180.25 521.49,180.25 522.17,180.25 522.84,180.25 523.52,180.25 524.2,180.25 524.88,180.25 525.55,180.25 526.23,180.25 526.91,180.25 527.59,180.25 528.26,180.25 528.94,180.25 529.62,180.25 530.3,180.25 530.97,180.25 531.65,180.25 532.33,180.25 533,180.26 533.68,180.26 534.36,180.26 535.04,180.27 535.72,180.28 536.39,180.28 537.07,180.29 537.75,180.3 538.43,180.31 539.1,180.32 539.78,180.33 540.46,180.34 541.13,180.36 541.81,180.37 542.49,180.38 543.17,180.39 543.85,180.41 544.52,180.42 545.2,180.43 545.49,180.44 545.78,180.45 546.07,180.47 546.36,180.48 546.65,180.5 546.94,180.52 547.23,180.54 547.52,180.55 547.81,180.57 548.1,180.59 548.39,180.61 548.68,180.63 548.97,180.65 549.26,180.67 549.55,180.69 549.84,180.71 550.13,180.73 550.42,180.75 550.71,180.76 551,180.78 551.29,180.8 551.58,180.82 551.87,180.83 552.16,180.85 552.45,180.87 552.74,180.89 553.03,180.91 553.32,180.92 553.61,180.94 553.9,180.96 554.19,180.98 554.48,180.99 554.77,181.01 555.06,181.03 555.35,181.05 555.64,181.06 555.93,181.08 556.22,181.1 556.51,181.12 556.8,181.13" fill="none" stroke="#ed2024" stroke-width="1.5" stroke-linejoin="round"/>
<polyline points="506.5,180.43 506.79,180.44 507.08,180.46 507.37,180.47 507.66,180.48 507.95,180.5 508.24,180.51 508.53,180.52 508.82,180.53 509.11,180.54 509.4,180.56 509.69,180.57 509.98,180.58 510.27,180.59 510.56,180.61 510.85,180.62 511.14,180.63 511.43,180.65 511.72,180.66 512.01,180.68 512.3,180.7 512.59,180.72 512.88,180.74 513.17,180.76 513.46,180.78 513.75,180.81 514.04,180.85 514.33,180.9 514.62,180.96 514.91,181.02 515.2,181.08 515.49,181.14 515.78,181.19 516.07,181.24 516.36,181.28 516.65,181.3 516.94,181.31 517.23,181.23 517.52,181.05 517.81,180.82 518.1,180.61 518.78,180.39 519.46,180.25 520.13,180.25 520.81,180.25 521.49,180.25 522.17,180.25 522.84,180.25 523.52,180.25 524.2,180.25 524.88,180.25 525.55,180.25 526.23,180.25 526.91,180.25 527.59,180.25 528.26,180.25 528.94,180.25 529.62,180.25 530.3,180.25 530.97,180.25 531.65,180.25 532.33,180.25 533,180.26 533.68,180.26 534.36,180.26 535.04,180.27 535.72,180.28 536.39,180.28 537.07,180.29 537.75,180.3 538.43,180.31 539.1,180.32 539.78,180.33 540.46,180.34 541.13,180.36 541.81,180.37 542.49,180.38 543.17,180.39 543.85,180.41 544.52,180.42 545.2,180.43 545.49,180.44 545.78,180.46 546.07,180.48 546.36,180.5 546.65,180.52 546.94,180.54 547.23,180.56 547.52,180.59 547.81,180.61 548.1,180.64 548.39,180.66 548.68,180.68 548.97,180.7 549.26,180.72 549.55,180.74 549.84,180.75 550.13,180.77 550.42,180.77 550.71,180.78 551,180.78 551.29,180.78 551.58,180.78 551.87,180.78 552.16,180.78 552.45,180.78 552.74,180.78 553.03,180.78 553.32,180.78 553.61,180.78 553.9,180.78 554.19,180.78 554.48,180.78 554.77,180.78 555.06,180.78 555.35,180.78 555.64,180.78 555.93,180.78 556.22,180.78 556.51,180.78 556.8,180.78" fill="none" stroke="#000" stroke-width="1.5" stroke-linejoin="round"/>
<polyline points="506.5,178.81 506.79,178.88 507.08,179.14 507.37,178.82 507.66,178.85 507.95,178.9 508.24,178.62 508.53,178.85 508.82,178.93 509.11,179.05 509.4,178.56 509.69,178.7 509.98,178.56 510.27,179.06 510.56,178.98 510.85,178.52 511.14,179.18 511.43,179.17 511.72,178.95 512.01,178.92 512.3,178.6 512.59,178.5 512.88,178.86 513.17,178.53 513.46,178.62 513.75,178.66 514.04,178.51 514.33,178.82 514.62,178.8 514.92,179.09 515.21,178.87 515.51,178.97 515.8,178.89 516.1,179.03 516.39,178.91 516.69,178.81 516.98,179.33 517.28,179.35 517.57,179.25 517.87,179.16 518.1,172.96 518.64,166.48 519.36,165.43 520.09,164.64 520.81,164.92 521.49,164.67 522.17,165 522.84,164.7 523.52,165.14 524.2,165.11 524.88,164.57 525.55,164.77 526.23,165.32 526.91,165.07 527.59,165.49 528.26,165.14 528.94,164.97 529.62,165.41 530.3,165.56 530.97,165.24 531.65,165.15 532.35,165.34 533.05,165.8 533.75,165.68 534.45,165.24 535.14,165.34 535.84,165.25 536.54,165.22 537.24,165.75 537.94,165.32 538.64,165.6 539.34,165.53 540.04,165.36 540.74,165.75 541.43,165.35 542.13,165.74 542.83,165.4 543.53,165.64 544.23,165.54 544.93,165.63 545.26,169.36 545.43,172.7 545.73,173.03 546.04,173.87 546.34,173.68 546.64,174 546.94,174.5 547.23,174.54 547.52,174.34 547.81,175.13 548.1,174.74 548.39,174.91 548.68,175.4 548.97,175.22 549.26,175.31 549.55,175.26 549.84,175.37 550.13,175.81 550.42,175.67 550.71,176 551,175.93 551.29,176.07 551.58,176.5 551.87,176.24 552.16,176.38 552.45,176.65 552.74,176.23 553.03,176.28 553.32,176.86 553.61,176.86 553.9,176.52 554.19,176.53 554.48,176.97 554.77,177.17 555.06,176.7 555.35,177.28 555.64,177.29 555.93,177.15 556.22,177.08 556.51,176.92 556.8,176.93" fill="none" stroke="#ed2024" stroke-width="1.5" stroke-linejoin="round"/>
<polyline points="506.5,179.95 506.79,179.85 507.08,179.95 507.37,179.69 507.66,180.12 507.95,180.13 508.24,180.01 508.53,179.66 508.82,179.91 509.11,179.78 509.4,179.72 509.69,180.22 509.98,180.25 510.27,179.58 510.56,180.15 510.85,179.97 511.14,179.82 511.43,179.75 511.72,180.02 512.01,179.87 512.3,180.03 512.59,180.01 512.88,179.64 513.17,180.09 513.46,180.24 513.75,180.23 514.04,179.98 514.33,179.58 514.62,179.55 514.92,179.64 515.21,180.21 515.51,179.76 515.8,179.81 516.1,180.18 516.39,179.77 516.69,179.93 516.98,179.86 517.28,179.6 517.57,179.96 517.87,180.14 518.1,177.15 518.64,174.42 519.36,173.96 520.09,173.34 520.81,173.55 521.49,173.78 522.17,173.67 522.84,173.6 523.52,173.84 524.2,173.37 524.88,173.69 525.55,173.58 526.23,173.77 526.91,173.46 527.59,173.95 528.26,173.51 528.94,173.58 529.62,174.06 530.3,174.18 530.97,173.84 531.65,173.84 532.35,173.74 533.05,173.77 533.75,174.01 534.45,173.71 535.14,173.68 535.84,173.92 536.54,173.72 537.24,174.06 537.94,174.18 538.64,174.16 539.34,173.95 540.04,173.87 540.74,173.94 541.43,173.64 542.13,174.15 542.83,173.9 543.53,173.91 544.23,173.76 544.93,174.04 545.26,175.59 545.43,177 545.73,177.61 546.04,177.64 546.34,177.45 546.64,177.73 546.94,178.07 547.23,177.87 547.52,178 547.81,177.69 548.1,178.05 548.39,178.08 548.68,178.09 548.97,178.16 549.26,178.32 549.55,178.33 549.84,178.33 550.13,178.15 550.42,178.38 550.71,178.78 551,178.43 551.29,178.2 551.58,178.21 551.87,178.61 552.16,178.3 552.45,178.36 552.74,178.4 553.03,178.67 553.32,179.07 553.61,178.74 553.9,178.75 554.19,178.76 554.48,178.82 554.77,178.81 555.06,179.03 555.35,179.17 555.64,179.06 555.93,178.89 556.22,179.07 556.51,179.28 556.8,178.78" fill="none" stroke="#000" stroke-width="1.5" stroke-linejoin="round"/>
<line x1="580.2" y1="135.4" x2="580.2" y2="189.7" stroke="#9a9a9a" stroke-width="0.85" stroke-dasharray="3,2.6" stroke-linecap="butt"/>
<line x1="607.6" y1="135.4" x2="607.6" y2="189.7" stroke="#9a9a9a" stroke-width="0.85" stroke-dasharray="3,2.6" stroke-linecap="butt"/>
<line x1="567.3" y1="179.9" x2="621" y2="179.9" stroke="#8c8c8c" stroke-width="1.2" stroke-linecap="butt"/>
<line x1="567.3" y1="189.7" x2="621" y2="189.7" stroke="#333" stroke-width="1" stroke-linecap="butt"/>
<line x1="568.7" y1="189.7" x2="568.7" y2="193.3" stroke="#333" stroke-width="0.9" stroke-linecap="butt"/>
<line x1="580.2" y1="189.7" x2="580.2" y2="193.3" stroke="#333" stroke-width="0.9" stroke-linecap="butt"/>
<line x1="607.6" y1="189.7" x2="607.6" y2="193.3" stroke="#333" stroke-width="0.9" stroke-linecap="butt"/>
<line x1="619.2" y1="189.7" x2="619.2" y2="193.3" stroke="#333" stroke-width="0.9" stroke-linecap="butt"/>
<polyline points="568.6,183.43 568.89,183.5 569.18,183.58 569.47,183.65 569.76,183.72 570.05,183.79 570.34,183.85 570.63,183.92 570.92,183.99 571.21,184.07 571.5,184.14 571.79,184.22 572.08,184.3 572.37,184.38 572.66,184.47 572.95,184.56 573.24,184.66 573.53,184.78 573.82,184.93 574.11,185.1 574.4,185.29 574.69,185.49 574.98,185.7 575.27,185.9 575.56,186.1 575.85,186.28 576.14,186.44 576.43,186.58 576.72,186.69 577.01,186.76 577.3,186.78 577.59,186.76 577.88,186.72 578.17,186.64 578.46,186.53 578.75,186.38 579.04,186.2 579.33,185.98 579.62,185.72 579.93,184.33 580.29,182.03 581.02,180.78 581.76,180.7 582.5,180.64 583.24,180.58 583.98,180.54 584.72,180.5 585.46,180.47 586.2,180.45 586.94,180.44 587.68,180.43 588.42,180.43 589.11,180.43 589.79,180.43 590.48,180.43 591.16,180.44 591.85,180.44 592.53,180.45 593.22,180.45 593.9,180.46 594.59,180.47 595.27,180.48 595.96,180.49 596.64,180.5 597.33,180.51 598.01,180.52 598.7,180.54 599.38,180.55 600.07,180.57 600.75,180.58 601.44,180.6 602.12,180.62 602.81,180.63 603.49,180.65 604.18,180.67 604.86,180.69 605.55,180.71 606.23,180.74 606.91,180.76 607.6,180.78 607.89,180.82 608.18,180.87 608.47,180.95 608.76,181.03 609.05,181.13 609.34,181.22 609.63,181.32 609.92,181.41 610.21,181.5 610.5,181.57 610.79,181.63 611.08,181.66 611.37,181.69 611.66,181.71 611.95,181.73 612.24,181.75 612.53,181.76 612.82,181.78 613.11,181.8 613.4,181.81 613.69,181.82 613.98,181.84 614.27,181.85 614.56,181.86 614.85,181.87 615.14,181.88 615.43,181.89 615.72,181.9 616.01,181.91 616.3,181.92 616.59,181.93 616.88,181.93 617.17,181.94 617.46,181.95 617.75,181.96 618.04,181.97 618.33,181.98 618.62,181.99 618.91,182 619.2,182.02" fill="none" stroke="#ed2024" stroke-width="1.5" stroke-linejoin="round"/>
<polyline points="568.6,183.43 568.89,183.48 569.18,183.53 569.47,183.58 569.76,183.63 570.05,183.68 570.34,183.72 570.63,183.77 570.92,183.82 571.21,183.87 571.5,183.92 571.79,183.98 572.08,184.03 572.37,184.1 572.66,184.16 572.95,184.23 573.24,184.31 573.53,184.41 573.82,184.53 574.11,184.69 574.4,184.86 574.69,185.04 574.98,185.23 575.27,185.42 575.56,185.6 575.85,185.78 576.14,185.93 576.43,186.06 576.72,186.16 577.01,186.23 577.3,186.25 577.59,186.24 577.88,186.2 578.17,186.14 578.46,186.04 578.75,185.92 579.04,185.77 579.33,185.58 579.62,185.37 579.93,184.09 580.29,181.95 581.02,180.78 581.76,180.7 582.5,180.64 583.24,180.58 583.98,180.54 584.72,180.5 585.46,180.47 586.2,180.45 586.94,180.44 587.68,180.43 588.42,180.43 589.11,180.43 589.79,180.43 590.48,180.43 591.16,180.44 591.85,180.44 592.53,180.45 593.22,180.45 593.9,180.46 594.59,180.47 595.27,180.48 595.96,180.49 596.64,180.5 597.33,180.51 598.01,180.52 598.7,180.54 599.38,180.55 600.07,180.57 600.75,180.58 601.44,180.6 602.12,180.62 602.81,180.63 603.49,180.65 604.18,180.67 604.86,180.69 605.55,180.71 606.23,180.74 606.91,180.76 607.6,180.78 607.89,180.82 608.18,180.88 608.47,180.95 608.76,181.04 609.05,181.14 609.34,181.24 609.63,181.34 609.92,181.43 610.21,181.52 610.5,181.59 610.79,181.64 611.08,181.66 611.37,181.68 611.66,181.69 611.95,181.7 612.24,181.71 612.53,181.72 612.82,181.73 613.11,181.73 613.4,181.74 613.69,181.75 613.98,181.75 614.27,181.76 614.56,181.77 614.85,181.77 615.14,181.78 615.43,181.78 615.72,181.78 616.01,181.79 616.3,181.79 616.59,181.8 616.88,181.8 617.17,181.81 617.46,181.81 617.75,181.81 618.04,181.82 618.33,181.82 618.62,181.83 618.91,181.83 619.2,181.84" fill="none" stroke="#000" stroke-width="1.5" stroke-linejoin="round"/>
<polyline points="568.6,177.06 568.89,177.2 569.18,177.22 569.47,176.86 569.76,176.78 570.05,177.05 570.34,176.99 570.63,177.37 570.92,177.3 571.21,177.25 571.5,177.23 571.79,177.31 572.08,176.96 572.37,177.18 572.66,176.99 572.95,177.53 573.24,176.94 573.53,177.49 573.82,176.98 574.11,177.42 574.4,177.19 574.69,177.25 574.98,177.57 575.27,177.01 575.56,177.05 575.85,177.67 576.14,177.4 576.43,177.13 576.72,177.77 577.02,177.77 577.31,177.22 577.61,177.47 577.9,177.31 578.2,177.48 578.49,177.74 578.79,177.46 579.08,177.87 579.38,177.44 579.67,177.55 579.97,178 580.2,168.1 580.75,156.91 581.57,153.2 582.39,151.66 583.11,151.61 583.83,151.41 584.55,151.97 585.27,152.24 585.99,152.36 586.71,152.28 587.43,152.22 588.15,152.38 588.87,152.78 589.58,152.95 590.3,152.73 591.02,152.99 591.74,153.25 592.46,153.51 593.18,153.87 593.9,153.79 594.61,153.58 595.31,154.23 596.02,154.03 596.73,154.16 597.43,154.01 598.14,154.2 598.85,154.23 599.55,154.55 600.26,154.13 600.97,154.51 601.67,154.33 602.38,154.79 603.09,154.45 603.79,154.75 604.5,154.97 605.21,155.37 605.91,155.19 606.62,155.75 607.33,155.88 607.66,160.53 607.83,165.77 608.14,167.79 608.45,168.43 608.76,169.28 609.07,169.1 609.38,169.97 609.69,169.87 610,170.01 610.31,170.63 610.62,170.95 610.93,170.5 611.23,170.85 611.54,171.35 611.85,171.19 612.16,171.25 612.47,171.22 612.78,171.37 613.09,171.9 613.4,172.3 613.69,172.44 613.98,172.23 614.27,172.01 614.56,172.34 614.85,172.78 615.14,172.92 615.43,172.89 615.72,172.71 616.01,173.02 616.3,173.08 616.59,173.28 616.88,173.13 617.17,173.7 617.46,173.76 617.75,173.34 618.04,173.53 618.33,174.03 618.62,173.72 618.91,174.29 619.2,174.09" fill="none" stroke="#ed2024" stroke-width="1.5" stroke-linejoin="round"/>
<polyline points="568.6,177.04 568.89,177.13 569.18,177.4 569.47,177.09 569.76,177.13 570.05,177.2 570.34,176.93 570.63,177.17 570.92,177.26 571.21,177.38 571.5,176.9 571.79,177.06 572.08,176.92 572.37,177.44 572.66,177.37 572.95,176.92 573.24,177.59 573.53,177.59 573.82,177.38 574.11,177.37 574.4,177.06 574.69,176.98 574.98,177.35 575.27,177.04 575.56,177.14 575.85,177.2 576.14,177.06 576.43,177.39 576.72,177.39 577.02,177.69 577.31,177.5 577.61,177.62 577.9,177.57 578.2,177.73 578.49,177.63 578.79,177.54 579.08,178.08 579.38,178.11 579.67,178.01 579.97,177.93 580.2,169.56 580.75,160.31 581.57,157.77 582.39,156.67 583.11,157.17 583.83,156.95 584.55,157.33 585.27,157.09 585.99,157.59 586.71,157.63 587.43,157.16 588.15,157.44 588.87,158.08 589.58,157.91 590.3,158.42 591.02,158.16 591.74,158.07 592.46,158.59 593.18,158.82 593.9,158.57 594.61,158.53 595.31,158.78 596.02,159.29 596.73,159.19 597.43,158.79 598.14,158.92 598.85,158.86 599.55,158.87 600.26,159.43 600.97,159.05 601.67,159.38 602.38,159.37 603.09,159.28 603.79,159.76 604.5,159.47 605.21,159.98 605.91,159.78 606.62,160.2 607.33,160.3 607.66,162.92 607.83,166.47 608.14,167.95 608.45,168.62 608.76,169.59 609.07,169.47 609.38,169.92 609.69,170.52 610,170.62 610.31,170.46 610.62,171.27 610.93,170.9 611.23,171.09 611.54,171.59 611.85,171.41 612.16,171.51 612.47,171.47 612.78,171.6 613.09,172.07 613.4,171.96 613.69,172.33 613.98,172.29 614.27,172.46 614.56,172.92 614.85,172.7 615.14,172.86 615.43,173.16 615.72,172.78 616.01,172.85 616.3,173.47 616.59,173.49 616.88,173.18 617.17,173.23 617.46,173.7 617.75,173.93 618.04,173.5 618.33,174.11 618.62,174.16 618.91,174.06 619.2,174.02" fill="none" stroke="#000" stroke-width="1.5" stroke-linejoin="round"/>
<line x1="643.2" y1="135.4" x2="643.2" y2="189.7" stroke="#9a9a9a" stroke-width="0.85" stroke-dasharray="3,2.6" stroke-linecap="butt"/>
<line x1="670.5" y1="135.4" x2="670.5" y2="189.7" stroke="#9a9a9a" stroke-width="0.85" stroke-dasharray="3,2.6" stroke-linecap="butt"/>
<line x1="630" y1="179.9" x2="684.5" y2="179.9" stroke="#8c8c8c" stroke-width="1.2" stroke-linecap="butt"/>
<line x1="630" y1="189.7" x2="684.5" y2="189.7" stroke="#333" stroke-width="1" stroke-linecap="butt"/>
<line x1="631.7" y1="189.7" x2="631.7" y2="193.3" stroke="#333" stroke-width="0.9" stroke-linecap="butt"/>
<line x1="643.2" y1="189.7" x2="643.2" y2="193.3" stroke="#333" stroke-width="0.9" stroke-linecap="butt"/>
<line x1="670.5" y1="189.7" x2="670.5" y2="193.3" stroke="#333" stroke-width="0.9" stroke-linecap="butt"/>
<line x1="682" y1="189.7" x2="682" y2="193.3" stroke="#333" stroke-width="0.9" stroke-linecap="butt"/>
<polyline points="631.6,182.55 631.89,182.6 632.18,182.65 632.47,182.7 632.76,182.75 633.05,182.8 633.34,182.85 633.63,182.89 633.92,182.94 634.21,182.99 634.5,183.05 634.79,183.1 635.08,183.16 635.37,183.22 635.66,183.28 635.95,183.35 636.24,183.43 636.53,183.52 636.82,183.64 637.11,183.78 637.4,183.94 637.69,184.1 637.98,184.27 638.27,184.45 638.56,184.61 638.85,184.77 639.14,184.91 639.43,185.02 639.72,185.11 640.01,185.17 640.3,185.19 640.59,185.18 640.88,185.14 641.17,185.07 641.46,184.98 641.75,184.86 642.04,184.71 642.33,184.52 642.62,184.31 642.93,183.2 643.29,181.4 644.02,180.43 644.76,180.39 645.49,180.36 646.23,180.33 646.97,180.31 647.7,180.29 648.44,180.27 649.18,180.26 649.92,180.26 650.65,180.25 651.39,180.25 652.07,180.25 652.75,180.26 653.44,180.26 654.12,180.27 654.8,180.27 655.49,180.28 656.17,180.29 656.85,180.3 657.53,180.32 658.22,180.33 658.9,180.35 659.58,180.37 660.26,180.38 660.95,180.4 661.63,180.42 662.31,180.45 662.99,180.47 663.67,180.49 664.36,180.52 665.04,180.54 665.72,180.57 666.4,180.6 667.09,180.63 667.77,180.66 668.45,180.69 669.13,180.72 669.82,180.75 670.5,180.78 670.79,180.83 671.08,180.89 671.37,180.97 671.66,181.07 671.95,181.17 672.24,181.27 672.53,181.37 672.82,181.46 673.11,181.54 673.4,181.61 673.69,181.65 673.98,181.66 674.27,181.66 674.56,181.66 674.85,181.66 675.14,181.66 675.43,181.66 675.72,181.66 676.01,181.66 676.3,181.66 676.59,181.66 676.88,181.66 677.17,181.66 677.46,181.66 677.75,181.66 678.04,181.66 678.33,181.66 678.62,181.66 678.91,181.66 679.2,181.66 679.49,181.66 679.78,181.66 680.07,181.66 680.36,181.66 680.65,181.66 680.94,181.66 681.23,181.66 681.52,181.66 681.81,181.66 682.1,181.66" fill="none" stroke="#ed2024" stroke-width="1.5" stroke-linejoin="round"/>
<polyline points="631.6,182.55 631.89,182.59 632.18,182.63 632.47,182.67 632.76,182.71 633.05,182.74 633.34,182.78 633.63,182.82 633.92,182.86 634.21,182.9 634.5,182.94 634.79,182.98 635.08,183.03 635.37,183.08 635.66,183.13 635.95,183.19 636.24,183.25 636.53,183.33 636.82,183.43 637.11,183.56 637.4,183.7 637.69,183.85 637.98,184 638.27,184.16 638.56,184.31 638.85,184.45 639.14,184.58 639.43,184.68 639.72,184.77 640.01,184.82 640.3,184.84 640.59,184.83 640.88,184.8 641.17,184.75 641.46,184.67 641.75,184.58 642.04,184.45 642.33,184.31 642.62,184.13 642.93,183.09 643.29,181.36 644.02,180.43 644.76,180.39 645.49,180.36 646.23,180.33 646.97,180.31 647.7,180.29 648.44,180.27 649.18,180.26 649.92,180.26 650.65,180.25 651.39,180.25 652.07,180.25 652.75,180.26 653.44,180.26 654.12,180.27 654.8,180.27 655.49,180.28 656.17,180.3 656.85,180.31 657.53,180.32 658.22,180.34 658.9,180.35 659.58,180.37 660.26,180.39 660.95,180.41 661.63,180.43 662.31,180.45 662.99,180.48 663.67,180.5 664.36,180.53 665.04,180.55 665.72,180.58 666.4,180.61 667.09,180.63 667.77,180.66 668.45,180.69 669.13,180.72 669.82,180.75 670.5,180.78 670.79,180.82 671.08,180.87 671.37,180.94 671.66,181.01 671.95,181.08 672.24,181.16 672.53,181.24 672.82,181.31 673.11,181.37 673.4,181.43 673.69,181.47 673.98,181.49 674.27,181.5 674.56,181.51 674.85,181.52 675.14,181.53 675.43,181.54 675.72,181.55 676.01,181.56 676.3,181.56 676.59,181.57 676.88,181.58 677.17,181.58 677.46,181.59 677.75,181.59 678.04,181.6 678.33,181.6 678.62,181.61 678.91,181.61 679.2,181.62 679.49,181.62 679.78,181.62 680.07,181.63 680.36,181.63 680.65,181.64 680.94,181.64 681.23,181.65 681.52,181.65 681.81,181.66 682.1,181.66" fill="none" stroke="#000" stroke-width="1.5" stroke-linejoin="round"/>
<polyline points="631.6,177.97 631.89,178.27 632.18,178.26 632.47,178.38 632.76,177.92 633.05,177.95 633.34,177.89 633.63,177.94 633.92,178.3 634.21,177.88 634.5,178.16 634.79,177.94 635.08,177.99 635.37,178.09 635.66,178.37 635.95,178.21 636.24,177.8 636.53,177.98 636.82,177.89 637.11,178.4 637.4,178.35 637.69,178.35 637.98,178.36 638.27,178.31 638.56,178.45 638.85,178.34 639.14,177.97 639.43,178.38 639.72,178.13 640.02,178.31 640.31,178.18 640.61,178.09 640.9,178.04 641.2,178.09 641.49,178.01 641.79,177.87 642.08,178.36 642.38,178.34 642.67,178.48 642.97,178.27 643.2,166.2 643.75,151.85 644.29,147.08 644.84,145.63 645.66,146.09 646.48,147.12 647.3,147.94 647.98,148.36 648.66,148.33 649.34,148.62 650.03,148.84 650.71,148.8 651.39,148.7 652.07,149.03 652.75,148.92 653.44,148.99 654.12,149.02 654.8,149.21 655.49,149.08 656.17,149.57 656.85,149.88 657.55,149.58 658.26,149.89 658.96,150.11 659.67,149.54 660.37,149.66 661.07,150.18 661.78,150.24 662.48,150.15 663.19,149.87 663.89,150.11 664.59,150.51 665.3,150.61 666,150.66 666.71,150.37 667.41,150.98 668.11,150.83 668.82,151.29 669.52,151.13 670.23,152.01 670.56,156.47 670.73,161.53 671.04,162.11 671.35,162.88 671.66,163.2 671.97,163.56 672.28,163.72 672.59,164.27 672.9,164.26 673.21,164.48 673.52,164.61 673.83,165.19 674.13,164.99 674.44,165.26 674.75,165.34 675.06,165.94 675.37,166.07 675.68,166.26 675.99,166.12 676.3,166.63 676.59,166.78 676.88,166.83 677.17,166.98 677.46,167.9 677.75,167.51 678.04,167.85 678.33,168.05 678.62,168.5 678.91,168.36 679.2,168.85 679.49,169 679.78,169.55 680.07,169.19 680.36,169.64 680.65,169.98 680.94,170.53 681.23,170.43 681.52,170.62 681.81,170.98 682.1,170.94" fill="none" stroke="#ed2024" stroke-width="1.5" stroke-linejoin="round"/>
<polyline points="631.6,178.12 631.89,178.25 632.18,178.25 632.47,177.89 632.76,177.79 633.05,178.05 633.34,177.98 633.63,178.35 633.92,178.27 634.21,178.21 634.5,178.18 634.79,178.25 635.08,177.89 635.37,178.09 635.66,177.9 635.95,178.42 636.24,177.83 636.53,178.36 636.82,177.84 637.11,178.27 637.4,178.02 637.69,178.07 637.98,178.38 638.27,177.8 638.56,177.83 638.85,178.43 639.14,178.14 639.43,177.85 639.72,178.48 640.02,178.45 640.31,177.86 640.61,178.08 640.9,177.88 641.2,178 641.49,178.22 641.79,177.9 642.08,178.27 642.38,177.82 642.67,177.91 642.97,178.36 643.2,160.53 643.75,141.04 644.29,137.97 644.84,136.67 645.66,137.67 646.48,139.47 647.3,141.25 647.98,141.67 648.66,141.9 649.34,141.87 650.03,141.81 650.71,141.95 651.39,142.3 652.07,142.39 652.75,142.08 653.44,142.25 654.12,142.42 654.8,142.6 655.49,142.89 656.17,142.76 656.85,142.53 657.55,143.18 658.26,142.99 658.96,143.12 659.67,142.96 660.37,143.15 661.07,143.17 661.78,143.47 662.48,143.04 663.19,143.39 663.89,143.18 664.59,143.6 665.3,143.21 666,143.46 666.71,143.61 667.41,143.94 668.11,143.68 668.82,144.14 669.52,144.17 670.23,144.47 670.56,151.07 670.73,158.17 671.04,158.78 671.35,159.58 671.66,159.38 671.97,160.32 672.28,160.31 672.59,160.54 672.9,161.27 673.21,161.69 673.52,161.36 673.83,161.82 674.13,162.44 674.44,162.4 674.75,162.59 675.06,162.67 675.37,162.94 675.68,163.6 675.99,164.1 676.3,164.37 676.59,164.27 676.88,164.17 677.17,164.62 677.46,165.17 677.75,165.43 678.04,165.52 678.33,165.45 678.62,165.88 678.91,166.06 679.2,166.38 679.49,166.34 679.78,167.03 680.07,167.21 680.36,166.91 680.65,167.21 680.94,167.83 681.23,167.63 681.52,168.31 681.81,168.23 682.1,168.57" fill="none" stroke="#000" stroke-width="1.5" stroke-linejoin="round"/>
<text x="587.7" y="208.1" font-size="10.1" text-anchor="middle" fill="#000">RNAPII</text>
<line x1="503.4" y1="211.9" x2="503.4" y2="267.4" stroke="#7a7a7a" stroke-width="1.3" stroke-linecap="butt"/>
<line x1="499.5" y1="264.6" x2="503.4" y2="264.6" stroke="#333" stroke-width="0.9" stroke-linecap="butt"/>
<text x="495.2" y="267.19" font-size="7.2" text-anchor="end" fill="#4d4d4d">0</text>
<line x1="499.5" y1="250.9" x2="503.4" y2="250.9" stroke="#333" stroke-width="0.9" stroke-linecap="butt"/>
<text x="495.2" y="253.49" font-size="7.2" text-anchor="end" fill="#4d4d4d">10</text>
<line x1="499.5" y1="237.2" x2="503.4" y2="237.2" stroke="#333" stroke-width="0.9" stroke-linecap="butt"/>
<text x="495.2" y="239.79" font-size="7.2" text-anchor="end" fill="#4d4d4d">20</text>
<line x1="499.5" y1="223.5" x2="503.4" y2="223.5" stroke="#333" stroke-width="0.9" stroke-linecap="butt"/>
<text x="495.2" y="226.09" font-size="7.2" text-anchor="end" fill="#4d4d4d">30</text>
<line x1="518.1" y1="211.9" x2="518.1" y2="267" stroke="#9a9a9a" stroke-width="0.85" stroke-dasharray="3,2.6" stroke-linecap="butt"/>
<line x1="545.2" y1="211.9" x2="545.2" y2="267" stroke="#9a9a9a" stroke-width="0.85" stroke-dasharray="3,2.6" stroke-linecap="butt"/>
<line x1="504" y1="267" x2="559" y2="267" stroke="#333" stroke-width="1" stroke-linecap="butt"/>
<line x1="506.3" y1="267" x2="506.3" y2="270.6" stroke="#333" stroke-width="0.9" stroke-linecap="butt"/>
<line x1="518.1" y1="267" x2="518.1" y2="270.6" stroke="#333" stroke-width="0.9" stroke-linecap="butt"/>
<line x1="545.2" y1="267" x2="545.2" y2="270.6" stroke="#333" stroke-width="0.9" stroke-linecap="butt"/>
<line x1="556.8" y1="267" x2="556.8" y2="270.6" stroke="#333" stroke-width="0.9" stroke-linecap="butt"/>
<polyline points="506.5,262.55 506.79,262.51 507.08,262.48 507.37,262.45 507.66,262.42 507.95,262.4 508.24,262.37 508.53,262.35 508.82,262.32 509.11,262.3 509.4,262.27 509.69,262.24 509.98,262.21 510.27,262.18 510.56,262.14 510.85,262.1 511.14,262.06 511.43,262.02 511.72,261.97 512.01,261.92 512.3,261.86 512.59,261.79 512.88,261.71 513.17,261.61 513.46,261.49 513.75,261.36 514.04,261.2 514.33,261.03 514.62,260.83 514.91,260.61 515.2,260.37 515.49,260.1 515.78,259.81 516.08,259.39 516.38,258.77 516.68,257.96 516.99,256.93 517.29,255.7 517.69,251.48 518.1,248.16 519.05,252.95 520,258.44 520.7,259.37 521.41,260.11 522.11,260.65 522.82,261.01 523.52,261.18 524.2,261.24 524.88,261.31 525.55,261.36 526.23,261.41 526.91,261.45 527.59,261.49 528.26,261.52 528.94,261.54 529.62,261.56 530.3,261.58 530.97,261.58 531.65,261.59 532.33,261.58 533,261.58 533.68,261.57 534.36,261.56 535.04,261.55 535.72,261.54 536.39,261.52 537.07,261.5 537.75,261.47 538.43,261.45 539.1,261.42 539.78,261.39 540.46,261.35 541.13,261.31 541.81,261.23 542.49,261.07 543.17,260.86 543.85,260.63 544.52,260.41 545.2,260.22 545.55,259.99 545.9,259.73 546.24,259.5 546.59,259.32 546.94,259.26 547.23,259.27 547.52,259.31 547.81,259.36 548.1,259.44 548.39,259.53 548.68,259.63 548.97,259.74 549.26,259.85 549.55,259.97 549.84,260.09 550.13,260.2 550.42,260.31 550.71,260.41 551,260.49 551.29,260.57 551.58,260.64 551.87,260.72 552.16,260.79 552.45,260.86 552.74,260.93 553.03,261 553.32,261.06 553.61,261.13 553.9,261.2 554.19,261.26 554.48,261.33 554.77,261.4 555.06,261.46 555.35,261.53 555.64,261.59 555.93,261.66 556.22,261.72 556.51,261.79 556.8,261.86" fill="none" stroke="#000" stroke-width="1.5" stroke-linejoin="round"/>
<polyline points="506.5,262.55 506.79,262.51 507.08,262.48 507.37,262.45 507.66,262.42 507.95,262.4 508.24,262.37 508.53,262.35 508.82,262.32 509.11,262.3 509.4,262.27 509.69,262.24 509.98,262.21 510.27,262.18 510.56,262.14 510.85,262.1 511.14,262.06 511.43,262.02 511.72,261.97 512.01,261.92 512.3,261.86 512.59,261.79 512.88,261.71 513.17,261.62 513.46,261.5 513.75,261.37 514.04,261.22 514.33,261.04 514.62,260.85 514.91,260.63 515.2,260.38 515.49,260.11 515.78,259.81 516.08,259.37 516.38,258.69 516.68,257.76 516.99,256.54 517.29,255.01 517.69,248.27 518.1,242.68 519.05,249.82 520,257.75 520.7,258.81 521.41,259.62 522.11,260.2 522.82,260.58 523.52,260.76 524.2,260.85 524.88,260.94 525.55,261.01 526.23,261.08 526.91,261.13 527.59,261.18 528.26,261.22 528.94,261.25 529.62,261.28 530.3,261.3 530.97,261.31 531.65,261.31 532.33,261.31 533,261.31 533.68,261.3 534.36,261.29 535.04,261.28 535.72,261.26 536.39,261.25 537.07,261.23 537.75,261.2 538.43,261.18 539.1,261.15 539.78,261.11 540.46,261.08 541.13,261.04 541.81,260.94 542.49,260.75 543.17,260.49 543.85,260.21 544.52,259.92 545.2,259.67 545.55,259.35 545.9,258.99 546.24,258.65 546.59,258.4 546.94,258.3 547.23,258.32 547.52,258.36 547.81,258.44 548.1,258.54 548.39,258.66 548.68,258.8 548.97,258.94 549.26,259.09 549.55,259.25 549.84,259.41 550.13,259.56 550.42,259.7 550.71,259.83 551,259.94 551.29,260.04 551.58,260.14 551.87,260.24 552.16,260.33 552.45,260.42 552.74,260.51 553.03,260.6 553.32,260.69 553.61,260.78 553.9,260.87 554.19,260.95 554.48,261.04 554.77,261.12 555.06,261.21 555.35,261.29 555.64,261.38 555.93,261.46 556.22,261.55 556.51,261.63 556.8,261.72" fill="none" stroke="#ed2024" stroke-width="1.5" stroke-linejoin="round"/>
<line x1="580.2" y1="211.9" x2="580.2" y2="267" stroke="#9a9a9a" stroke-width="0.85" stroke-dasharray="3,2.6" stroke-linecap="butt"/>
<line x1="607.6" y1="211.9" x2="607.6" y2="267" stroke="#9a9a9a" stroke-width="0.85" stroke-dasharray="3,2.6" stroke-linecap="butt"/>
<line x1="567.3" y1="267" x2="621" y2="267" stroke="#333" stroke-width="1" stroke-linecap="butt"/>
<line x1="568.7" y1="267" x2="568.7" y2="270.6" stroke="#333" stroke-width="0.9" stroke-linecap="butt"/>
<line x1="580.2" y1="267" x2="580.2" y2="270.6" stroke="#333" stroke-width="0.9" stroke-linecap="butt"/>
<line x1="607.6" y1="267" x2="607.6" y2="270.6" stroke="#333" stroke-width="0.9" stroke-linecap="butt"/>
<line x1="619.2" y1="267" x2="619.2" y2="270.6" stroke="#333" stroke-width="0.9" stroke-linecap="butt"/>
<polyline points="568.6,261.86 568.89,261.83 569.18,261.8 569.47,261.77 569.76,261.74 570.05,261.71 570.34,261.69 570.63,261.66 570.92,261.64 571.21,261.61 571.5,261.58 571.79,261.55 572.08,261.52 572.37,261.49 572.66,261.46 572.95,261.42 573.24,261.38 573.53,261.33 573.82,261.29 574.11,261.23 574.4,261.18 574.69,261.11 574.98,261.03 575.27,260.94 575.56,260.83 575.85,260.71 576.14,260.56 576.43,260.39 576.72,260.2 577.01,259.98 577.3,259.72 577.59,259.44 577.88,259.12 578.18,258.6 578.48,257.72 578.78,256.41 579.09,254.61 579.39,252.27 579.79,237 580.2,223.5 580.88,237.05 581.57,252.27 582.48,255.98 583.4,258.23 584.31,259.12 585,259.29 585.68,259.45 586.37,259.58 587.05,259.7 587.74,259.81 588.42,259.9 589.11,259.98 589.79,260.05 590.48,260.1 591.16,260.15 591.85,260.18 592.53,260.2 593.22,260.21 593.9,260.22 594.59,260.21 595.27,260.2 595.96,260.19 596.64,260.17 597.33,260.14 598.01,260.11 598.7,260.07 599.38,260.03 600.07,259.98 600.75,259.93 601.44,259.87 602.12,259.81 602.81,259.74 603.49,259.67 604.18,259.54 604.86,259.34 605.55,259.08 606.23,258.8 606.92,258.53 607.6,258.3 607.95,258.03 608.3,257.74 608.64,257.47 608.99,257.28 609.34,257.2 609.63,257.22 609.92,257.27 610.21,257.34 610.5,257.44 610.79,257.55 611.08,257.68 611.37,257.83 611.66,257.98 611.95,258.13 612.24,258.29 612.53,258.44 612.82,258.59 613.11,258.72 613.4,258.85 613.69,258.96 613.98,259.07 614.27,259.18 614.56,259.29 614.85,259.41 615.14,259.52 615.43,259.63 615.72,259.73 616.01,259.84 616.3,259.95 616.59,260.06 616.88,260.17 617.17,260.28 617.46,260.39 617.75,260.49 618.04,260.6 618.33,260.71 618.62,260.82 618.91,260.93 619.2,261.04" fill="none" stroke="#000" stroke-width="1.5" stroke-linejoin="round"/>
<polyline points="568.6,261.86 568.89,261.83 569.18,261.8 569.47,261.77 569.76,261.74 570.05,261.71 570.34,261.69 570.63,261.66 570.92,261.64 571.21,261.61 571.5,261.58 571.79,261.55 572.08,261.52 572.37,261.49 572.66,261.46 572.95,261.42 573.24,261.38 573.53,261.33 573.82,261.29 574.11,261.23 574.4,261.18 574.69,261.11 574.98,261.03 575.27,260.94 575.56,260.83 575.85,260.71 576.14,260.56 576.43,260.39 576.72,260.2 577.01,259.98 577.3,259.72 577.59,259.44 577.88,259.12 578.18,258.6 578.48,257.71 578.78,256.4 579.09,254.6 579.39,252.27 579.79,237.69 580.2,224.87 580.88,237.74 581.57,252.27 582.48,255.97 583.4,258.22 584.31,259.12 585,259.29 585.68,259.45 586.37,259.58 587.05,259.7 587.74,259.81 588.42,259.9 589.11,259.98 589.79,260.05 590.48,260.1 591.16,260.15 591.85,260.18 592.53,260.2 593.22,260.21 593.9,260.22 594.59,260.21 595.27,260.2 595.96,260.19 596.64,260.17 597.33,260.14 598.01,260.11 598.7,260.07 599.38,260.03 600.07,259.98 600.75,259.93 601.44,259.87 602.12,259.81 602.81,259.74 603.49,259.67 604.18,259.54 604.86,259.31 605.55,259.03 606.23,258.72 606.92,258.42 607.6,258.16 607.95,257.86 608.3,257.53 608.64,257.23 608.99,257.01 609.34,256.93 609.63,256.95 609.92,257 610.21,257.08 610.5,257.18 610.79,257.31 611.08,257.45 611.37,257.61 611.66,257.77 611.95,257.94 612.24,258.11 612.53,258.27 612.82,258.43 613.11,258.58 613.4,258.71 613.69,258.83 613.98,258.95 614.27,259.07 614.56,259.19 614.85,259.31 615.14,259.42 615.43,259.54 615.72,259.66 616.01,259.77 616.3,259.89 616.59,260 616.88,260.12 617.17,260.23 617.46,260.35 617.75,260.46 618.04,260.58 618.33,260.69 618.62,260.81 618.91,260.92 619.2,261.04" fill="none" stroke="#ed2024" stroke-width="1.5" stroke-linejoin="round"/>
<line x1="643.2" y1="211.9" x2="643.2" y2="267" stroke="#9a9a9a" stroke-width="0.85" stroke-dasharray="3,2.6" stroke-linecap="butt"/>
<line x1="670.5" y1="211.9" x2="670.5" y2="267" stroke="#9a9a9a" stroke-width="0.85" stroke-dasharray="3,2.6" stroke-linecap="butt"/>
<line x1="630" y1="267" x2="684.5" y2="267" stroke="#333" stroke-width="1" stroke-linecap="butt"/>
<line x1="631.7" y1="267" x2="631.7" y2="270.6" stroke="#333" stroke-width="0.9" stroke-linecap="butt"/>
<line x1="643.2" y1="267" x2="643.2" y2="270.6" stroke="#333" stroke-width="0.9" stroke-linecap="butt"/>
<line x1="670.5" y1="267" x2="670.5" y2="270.6" stroke="#333" stroke-width="0.9" stroke-linecap="butt"/>
<line x1="682" y1="267" x2="682" y2="270.6" stroke="#333" stroke-width="0.9" stroke-linecap="butt"/>
<polyline points="631.6,261.86 631.89,261.82 632.18,261.78 632.47,261.75 632.76,261.72 633.05,261.68 633.34,261.65 633.63,261.62 633.92,261.59 634.21,261.56 634.5,261.53 634.79,261.5 635.08,261.46 635.37,261.42 635.66,261.38 635.95,261.33 636.24,261.28 636.53,261.23 636.82,261.17 637.11,261.11 637.4,261.04 637.69,260.96 637.98,260.86 638.27,260.74 638.56,260.6 638.85,260.44 639.14,260.25 639.43,260.04 639.72,259.79 640.01,259.51 640.3,259.19 640.59,258.83 640.88,258.44 641.18,257.84 641.48,256.88 641.78,255.46 642.09,253.5 642.39,250.9 642.79,232.1 643.2,215.28 643.88,232.23 644.57,250.9 645.48,254.66 646.38,256.89 647.3,257.75 647.98,257.92 648.66,258.08 649.34,258.21 650.03,258.33 650.71,258.44 651.39,258.53 652.07,258.61 652.75,258.68 653.44,258.73 654.12,258.78 654.8,258.81 655.49,258.83 656.17,258.84 656.85,258.85 657.53,258.84 658.22,258.84 658.9,258.83 659.58,258.81 660.26,258.8 660.95,258.77 661.63,258.75 662.31,258.71 662.99,258.68 663.67,258.64 664.36,258.59 665.04,258.55 665.72,258.49 666.4,258.44 667.09,258.3 667.77,258.06 668.45,257.73 669.13,257.36 669.82,256.99 670.5,256.65 670.85,256.24 671.2,255.79 671.54,255.4 671.89,255.15 672.19,255.02 672.5,254.91 672.8,254.82 673.1,254.76 673.4,254.74 673.75,254.77 674.1,254.86 674.44,254.99 674.79,255.14 675.14,255.28 675.43,255.41 675.72,255.55 676.01,255.71 676.3,255.88 676.59,256.06 676.88,256.24 677.17,256.42 677.46,256.6 677.75,256.77 678.04,256.93 678.33,257.08 678.62,257.22 678.91,257.36 679.2,257.5 679.49,257.64 679.78,257.78 680.07,257.91 680.36,258.04 680.65,258.18 680.94,258.31 681.23,258.44 681.52,258.58 681.81,258.71 682.1,258.85" fill="none" stroke="#000" stroke-width="1.5" stroke-linejoin="round"/>
<polyline points="631.6,262.13 631.89,262.09 632.18,262.06 632.47,262.02 632.76,261.99 633.05,261.96 633.34,261.92 633.63,261.89 633.92,261.86 634.21,261.83 634.5,261.8 634.79,261.76 635.08,261.73 635.37,261.69 635.66,261.65 635.95,261.6 636.24,261.55 636.53,261.5 636.82,261.44 637.11,261.38 637.4,261.31 637.69,261.24 637.98,261.15 638.27,261.05 638.56,260.93 638.85,260.8 639.14,260.64 639.43,260.46 639.72,260.26 640.01,260.02 640.3,259.76 640.59,259.46 640.88,259.12 641.18,258.6 641.48,257.72 641.78,256.42 642.09,254.63 642.39,252.27 642.79,235.62 643.2,220.76 643.88,236.47 644.57,253.64 645.48,256.83 646.38,258.7 647.3,259.39 647.98,259.5 648.66,259.6 649.34,259.69 650.03,259.76 650.71,259.83 651.39,259.89 652.07,259.94 652.75,259.98 653.44,260.01 654.12,260.04 654.8,260.06 655.49,260.07 656.17,260.08 656.85,260.08 657.53,260.08 658.22,260.07 658.9,260.06 659.58,260.05 660.26,260.03 660.95,260 661.63,259.98 662.31,259.94 662.99,259.91 663.67,259.87 664.36,259.83 665.04,259.78 665.72,259.72 666.4,259.67 667.09,259.55 667.77,259.34 668.45,259.06 669.13,258.75 669.82,258.44 670.5,258.16 670.85,257.83 671.2,257.48 671.54,257.16 671.89,256.93 672.19,256.77 672.5,256.62 672.8,256.5 673.1,256.41 673.4,256.38 673.75,256.4 674.1,256.44 674.44,256.5 674.79,256.58 675.14,256.65 675.43,256.72 675.72,256.81 676.01,256.91 676.3,257.02 676.59,257.14 676.88,257.26 677.17,257.39 677.46,257.51 677.75,257.63 678.04,257.75 678.33,257.86 678.62,257.98 678.91,258.09 679.2,258.21 679.49,258.33 679.78,258.45 680.07,258.56 680.36,258.68 680.65,258.8 680.94,258.92 681.23,259.04 681.52,259.16 681.81,259.28 682.1,259.39" fill="none" stroke="#ed2024" stroke-width="1.5" stroke-linejoin="round"/>
<text x="587.7" y="285.3" font-size="10.1" text-anchor="middle" fill="#000">S2P-RNAPII</text>
<line x1="504" y1="292" x2="504" y2="346.3" stroke="#7a7a7a" stroke-width="1.3" stroke-linecap="butt"/>
<line x1="500.1" y1="344" x2="504" y2="344" stroke="#333" stroke-width="0.9" stroke-linecap="butt"/>
<text x="495.8" y="346.59" font-size="7.2" text-anchor="end" fill="#4d4d4d">0</text>
<line x1="500.1" y1="331.22" x2="504" y2="331.22" stroke="#333" stroke-width="0.9" stroke-linecap="butt"/>
<text x="495.8" y="333.81" font-size="7.2" text-anchor="end" fill="#4d4d4d">5</text>
<line x1="500.1" y1="318.44" x2="504" y2="318.44" stroke="#333" stroke-width="0.9" stroke-linecap="butt"/>
<text x="495.8" y="321.03" font-size="7.2" text-anchor="end" fill="#4d4d4d">10</text>
<line x1="500.1" y1="305.66" x2="504" y2="305.66" stroke="#333" stroke-width="0.9" stroke-linecap="butt"/>
<text x="495.8" y="308.25" font-size="7.2" text-anchor="end" fill="#4d4d4d">15</text>
<line x1="500.1" y1="292.88" x2="504" y2="292.88" stroke="#333" stroke-width="0.9" stroke-linecap="butt"/>
<text x="495.8" y="295.47" font-size="7.2" text-anchor="end" fill="#4d4d4d">20</text>
<line x1="518.1" y1="292" x2="518.1" y2="345.9" stroke="#9a9a9a" stroke-width="0.85" stroke-dasharray="3,2.6" stroke-linecap="butt"/>
<line x1="545.2" y1="292" x2="545.2" y2="345.9" stroke="#9a9a9a" stroke-width="0.85" stroke-dasharray="3,2.6" stroke-linecap="butt"/>
<line x1="504" y1="345.9" x2="559" y2="345.9" stroke="#333" stroke-width="1" stroke-linecap="butt"/>
<line x1="506.3" y1="345.9" x2="506.3" y2="349.5" stroke="#333" stroke-width="0.9" stroke-linecap="butt"/>
<line x1="518.1" y1="345.9" x2="518.1" y2="349.5" stroke="#333" stroke-width="0.9" stroke-linecap="butt"/>
<line x1="545.2" y1="345.9" x2="545.2" y2="349.5" stroke="#333" stroke-width="0.9" stroke-linecap="butt"/>
<line x1="556.8" y1="345.9" x2="556.8" y2="349.5" stroke="#333" stroke-width="0.9" stroke-linecap="butt"/>
<polyline points="506.5,336.33 506.79,336.31 507.08,336.28 507.37,336.26 507.66,336.24 507.95,336.22 508.24,336.21 508.53,336.19 508.82,336.17 509.11,336.15 509.4,336.13 509.69,336.11 509.98,336.09 510.27,336.06 510.56,336.04 510.85,336.01 511.14,335.98 511.43,335.94 511.72,335.91 512.01,335.87 512.3,335.82 512.59,335.76 512.88,335.68 513.17,335.58 513.46,335.46 513.75,335.32 514.04,335.16 514.33,334.99 514.62,334.79 514.91,334.58 515.2,334.35 515.49,334.1 515.78,333.84 516.07,333.56 516.36,333.26 516.65,332.79 516.94,332.07 517.23,331.25 517.52,330.48 517.81,329.91 518.1,329.69 518.78,330.15 519.46,331.2 520.13,332.32 520.81,333.01 521.49,333.28 522.17,333.52 522.84,333.71 523.52,333.86 524.2,333.96 524.88,334.03 525.55,334.08 526.23,334.12 526.91,334.16 527.59,334.19 528.26,334.22 528.94,334.24 529.62,334.26 530.3,334.28 530.97,334.28 531.65,334.29 532.33,334.28 533,334.27 533.68,334.24 534.36,334.2 535.04,334.16 535.72,334.1 536.39,334.03 537.07,333.95 537.75,333.86 538.43,333.76 539.1,333.65 539.78,333.53 540.46,333.4 541.13,333.26 541.81,332.97 542.49,332.44 543.17,331.76 543.85,331.02 544.52,330.3 545.2,329.69 545.55,329.04 545.9,328.39 546.24,327.78 546.59,327.26 546.94,326.87 547.23,326.63 547.52,326.39 547.81,326.18 548.1,326.01 548.39,325.89 548.68,325.85 549.01,325.92 549.34,326.11 549.67,326.38 550.01,326.7 550.34,327.04 550.67,327.37 551,327.64 551.29,327.85 551.58,328.05 551.87,328.25 552.16,328.45 552.45,328.65 552.74,328.84 553.03,329.03 553.32,329.22 553.61,329.41 553.9,329.6 554.19,329.79 554.48,329.97 554.77,330.16 555.06,330.35 555.35,330.53 555.64,330.72 555.93,330.91 556.22,331.1 556.51,331.28 556.8,331.48" fill="none" stroke="#000" stroke-width="1.5" stroke-linejoin="round"/>
<polyline points="506.5,336.33 506.79,336.3 507.08,336.26 507.37,336.23 507.66,336.2 507.95,336.17 508.24,336.14 508.53,336.11 508.82,336.09 509.11,336.06 509.4,336.03 509.69,336 509.98,335.96 510.27,335.93 510.56,335.89 510.85,335.85 511.14,335.8 511.43,335.75 511.72,335.69 512.01,335.63 512.3,335.57 512.59,335.48 512.88,335.36 513.17,335.21 513.46,335.03 513.75,334.83 514.04,334.59 514.33,334.33 514.62,334.03 514.91,333.71 515.2,333.37 515.49,333 515.78,332.6 516.07,332.18 516.36,331.73 516.65,331 516.94,329.87 517.23,328.58 517.52,327.36 517.81,326.46 518.1,326.11 518.78,326.69 519.46,328 520.13,329.39 520.81,330.2 521.49,330.49 522.17,330.74 522.84,330.94 523.52,331.09 524.2,331.19 524.88,331.22 525.55,331.22 526.23,331.22 526.91,331.22 527.59,331.22 528.26,331.22 528.94,331.22 529.62,331.22 530.3,331.22 530.97,331.22 531.65,331.22 532.33,331.21 533,331.18 533.68,331.14 534.36,331.08 535.04,331 535.72,330.91 536.39,330.8 537.07,330.68 537.75,330.54 538.43,330.39 539.1,330.23 539.78,330.06 540.46,329.88 541.13,329.69 541.81,329.41 542.49,328.98 543.17,328.45 543.85,327.86 544.52,327.24 545.2,326.62 545.55,325.77 545.9,324.76 546.24,323.74 546.59,322.86 546.94,322.27 547.23,321.95 547.52,321.65 547.81,321.39 548.1,321.18 548.39,321.04 548.68,321 549.01,321.08 549.34,321.32 549.67,321.67 550.01,322.08 550.34,322.51 550.67,322.93 551,323.3 551.29,323.57 551.58,323.85 551.87,324.12 552.16,324.4 552.45,324.67 552.74,324.94 553.03,325.21 553.32,325.47 553.61,325.74 553.9,326.01 554.19,326.27 554.48,326.54 554.77,326.8 555.06,327.07 555.35,327.33 555.64,327.6 555.93,327.86 556.22,328.13 556.51,328.4 556.8,328.66" fill="none" stroke="#ed2024" stroke-width="1.5" stroke-linejoin="round"/>
<line x1="580.2" y1="292" x2="580.2" y2="345.9" stroke="#9a9a9a" stroke-width="0.85" stroke-dasharray="3,2.6" stroke-linecap="butt"/>
<line x1="607.6" y1="292" x2="607.6" y2="345.9" stroke="#9a9a9a" stroke-width="0.85" stroke-dasharray="3,2.6" stroke-linecap="butt"/>
<line x1="567.3" y1="345.9" x2="621" y2="345.9" stroke="#333" stroke-width="1" stroke-linecap="butt"/>
<line x1="568.7" y1="345.9" x2="568.7" y2="349.5" stroke="#333" stroke-width="0.9" stroke-linecap="butt"/>
<line x1="580.2" y1="345.9" x2="580.2" y2="349.5" stroke="#333" stroke-width="0.9" stroke-linecap="butt"/>
<line x1="607.6" y1="345.9" x2="607.6" y2="349.5" stroke="#333" stroke-width="0.9" stroke-linecap="butt"/>
<line x1="619.2" y1="345.9" x2="619.2" y2="349.5" stroke="#333" stroke-width="0.9" stroke-linecap="butt"/>
<polyline points="568.6,331.22 568.89,331.15 569.18,331.08 569.47,331.01 569.76,330.95 570.05,330.89 570.34,330.83 570.63,330.78 570.92,330.72 571.21,330.66 571.5,330.6 571.79,330.54 572.08,330.47 572.37,330.4 572.66,330.32 572.95,330.24 573.24,330.15 573.53,330.05 573.82,329.94 574.11,329.82 574.4,329.69 574.69,329.53 574.98,329.35 575.27,329.12 575.56,328.86 575.85,328.55 576.14,328.2 576.43,327.81 576.72,327.36 577.01,326.87 577.3,326.32 577.59,325.72 577.88,325.06 578.17,324.34 578.46,323.55 578.75,321.93 579.04,319.12 579.33,315.78 579.62,312.59 579.91,310.19 580.2,309.24 581.16,314.62 582.12,321 582.83,322.34 583.54,323.41 584.26,324.23 584.97,324.78 585.68,325.09 586.37,325.25 587.05,325.4 587.74,325.54 588.42,325.66 589.11,325.76 589.79,325.85 590.48,325.93 591.16,326 591.85,326.04 592.53,326.08 593.22,326.1 593.9,326.11 594.59,326.1 595.27,326.06 595.96,326.01 596.64,325.93 597.33,325.83 598.01,325.71 598.7,325.57 599.38,325.41 600.07,325.23 600.75,325.03 601.44,324.81 602.12,324.58 602.81,324.33 603.49,324.06 604.18,323.6 604.86,322.84 605.55,321.89 606.23,320.85 606.92,319.84 607.6,318.95 607.95,317.96 608.3,316.93 608.64,315.97 608.99,315.16 609.34,314.61 609.63,314.28 609.92,313.98 610.21,313.72 610.5,313.51 610.79,313.38 611.08,313.33 611.41,313.42 611.74,313.67 612.07,314.05 612.41,314.49 612.74,314.98 613.07,315.45 613.4,315.88 613.69,316.23 613.98,316.59 614.27,316.95 614.56,317.32 614.85,317.69 615.14,318.07 615.43,318.45 615.72,318.84 616.01,319.23 616.3,319.62 616.59,320.01 616.88,320.41 617.17,320.81 617.46,321.2 617.75,321.6 618.04,321.99 618.33,322.39 618.62,322.78 618.91,323.17 619.2,323.55" fill="none" stroke="#000" stroke-width="1.5" stroke-linejoin="round"/>
<polyline points="568.6,331.22 568.89,331.15 569.18,331.08 569.47,331.01 569.76,330.95 570.05,330.89 570.34,330.83 570.63,330.77 570.92,330.71 571.21,330.65 571.5,330.59 571.79,330.53 572.08,330.46 572.37,330.39 572.66,330.31 572.95,330.22 573.24,330.13 573.53,330.04 573.82,329.93 574.11,329.81 574.4,329.69 574.69,329.54 574.98,329.37 575.27,329.17 575.56,328.94 575.85,328.68 576.14,328.38 576.43,328.05 576.72,327.68 577.01,327.27 577.3,326.82 577.59,326.33 577.88,325.79 578.17,325.21 578.46,324.57 578.75,323.36 579.04,321.34 579.33,318.97 579.62,316.71 579.91,315.02 580.2,314.35 581.16,317.77 582.12,322.02 582.83,323.15 583.54,324.09 584.26,324.82 584.97,325.33 585.68,325.6 586.37,325.72 587.05,325.84 587.74,325.94 588.42,326.03 589.11,326.11 589.79,326.18 590.48,326.23 591.16,326.28 591.85,326.32 592.53,326.34 593.22,326.36 593.9,326.36 594.59,326.35 595.27,326.32 595.96,326.27 596.64,326.2 597.33,326.12 598.01,326.01 598.7,325.89 599.38,325.75 600.07,325.59 600.75,325.42 601.44,325.23 602.12,325.03 602.81,324.81 603.49,324.57 604.18,324.18 604.86,323.54 605.55,322.73 606.23,321.85 606.92,320.99 607.6,320.23 607.95,319.36 608.3,318.45 608.64,317.59 608.99,316.87 609.34,316.4 609.63,316.13 609.92,315.89 610.21,315.68 610.5,315.52 610.79,315.41 611.08,315.37 611.41,315.45 611.74,315.65 612.07,315.95 612.41,316.32 612.74,316.7 613.07,317.08 613.4,317.42 613.69,317.69 613.98,317.96 614.27,318.23 614.56,318.5 614.85,318.78 615.14,319.06 615.43,319.34 615.72,319.62 616.01,319.91 616.3,320.19 616.59,320.48 616.88,320.76 617.17,321.05 617.46,321.33 617.75,321.62 618.04,321.91 618.33,322.19 618.62,322.48 618.91,322.76 619.2,323.04" fill="none" stroke="#ed2024" stroke-width="1.5" stroke-linejoin="round"/>
<line x1="643.2" y1="292" x2="643.2" y2="345.9" stroke="#9a9a9a" stroke-width="0.85" stroke-dasharray="3,2.6" stroke-linecap="butt"/>
<line x1="670.5" y1="292" x2="670.5" y2="345.9" stroke="#9a9a9a" stroke-width="0.85" stroke-dasharray="3,2.6" stroke-linecap="butt"/>
<line x1="630" y1="345.9" x2="684.5" y2="345.9" stroke="#333" stroke-width="1" stroke-linecap="butt"/>
<line x1="631.7" y1="345.9" x2="631.7" y2="349.5" stroke="#333" stroke-width="0.9" stroke-linecap="butt"/>
<line x1="643.2" y1="345.9" x2="643.2" y2="349.5" stroke="#333" stroke-width="0.9" stroke-linecap="butt"/>
<line x1="670.5" y1="345.9" x2="670.5" y2="349.5" stroke="#333" stroke-width="0.9" stroke-linecap="butt"/>
<line x1="682" y1="345.9" x2="682" y2="349.5" stroke="#333" stroke-width="0.9" stroke-linecap="butt"/>
<polyline points="631.6,331.22 631.89,331.1 632.18,330.98 632.47,330.88 632.76,330.77 633.05,330.67 633.34,330.56 633.63,330.45 633.92,330.33 634.21,330.19 634.5,330.04 634.79,329.88 635.08,329.69 635.4,329.42 635.72,329.06 636.05,328.63 636.37,328.14 636.69,327.61 637.01,327.05 637.34,326.48 637.66,325.9 637.98,325.34 638.27,324.87 638.56,324.43 638.85,324 639.14,323.58 639.43,323.14 639.72,322.68 640.01,322.17 640.3,321.6 640.59,320.96 640.88,320.23 641.17,319.39 641.46,318.44 641.75,316.56 642.04,313.43 642.33,309.75 642.62,306.25 642.91,303.63 643.2,302.59 644.16,308.03 645.11,314.61 645.82,316.16 646.53,317.42 647.24,318.38 647.95,319.06 648.66,319.46 649.34,319.7 650.03,319.92 650.71,320.12 651.39,320.3 652.07,320.46 652.75,320.6 653.44,320.72 654.12,320.82 654.8,320.9 655.49,320.95 656.17,320.98 656.85,321 657.53,320.98 658.22,320.95 658.9,320.9 659.58,320.82 660.26,320.72 660.95,320.6 661.63,320.46 662.31,320.31 662.99,320.13 663.67,319.93 664.36,319.71 665.04,319.48 665.72,319.22 666.4,318.95 667.32,318.33 668.23,317.28 669.13,315.88 669.82,314.22 670.5,312.05 670.79,309.57 671.08,306.74 671.37,304.01 671.66,301.83 672.01,299.75 672.36,297.88 672.7,296.38 673.05,295.44 673.4,294.85 673.75,294.36 674.1,294.03 674.44,293.9 674.75,294.08 675.06,294.56 675.37,295.24 675.68,296.02 675.99,296.8 676.3,297.48 676.59,298.05 676.88,298.62 677.17,299.2 677.46,299.78 677.75,300.36 678.04,300.93 678.33,301.5 678.62,302.05 678.91,302.59 679.2,303.1 679.49,303.6 679.78,304.08 680.07,304.55 680.36,305.01 680.65,305.46 680.94,305.91 681.23,306.35 681.52,306.8 681.81,307.25 682.1,307.7" fill="none" stroke="#000" stroke-width="1.5" stroke-linejoin="round"/>
<polyline points="631.6,333.78 631.89,333.67 632.18,333.58 632.47,333.48 632.76,333.39 633.05,333.3 633.34,333.21 633.63,333.12 633.92,333.01 634.21,332.9 634.5,332.78 634.79,332.65 635.08,332.5 635.4,332.3 635.72,332.06 636.05,331.78 636.37,331.47 636.69,331.14 637.01,330.79 637.34,330.42 637.66,330.06 637.98,329.69 638.27,329.37 638.56,329.06 638.85,328.76 639.14,328.45 639.43,328.14 639.72,327.8 640.01,327.43 640.3,327.02 640.59,326.57 640.88,326.06 641.17,325.48 641.46,324.83 641.75,323.65 642.04,321.77 642.33,319.58 642.62,317.52 642.91,315.98 643.2,315.37 644.16,319.32 645.11,324.06 645.82,325.14 646.53,326 647.24,326.66 647.95,327.12 648.66,327.39 649.34,327.55 650.03,327.69 650.71,327.83 651.39,327.95 652.07,328.06 652.75,328.15 653.44,328.23 654.12,328.29 654.8,328.34 655.49,328.38 656.17,328.4 656.85,328.41 657.53,328.4 658.22,328.37 658.9,328.33 659.58,328.27 660.26,328.2 660.95,328.11 661.63,328 662.31,327.88 662.99,327.75 663.67,327.6 664.36,327.44 665.04,327.26 665.72,327.07 666.4,326.87 667.32,326.42 668.23,325.7 669.13,324.83 669.82,324.03 670.5,323.04 670.79,321.77 671.08,320.26 671.37,318.79 671.66,317.67 672.01,316.69 672.36,315.82 672.7,315.07 673.05,314.48 673.4,314.09 673.7,313.86 674,313.65 674.3,313.48 674.61,313.37 674.91,313.33 675.24,313.43 675.57,313.71 675.89,314.09 676.22,314.54 676.55,314.98 676.88,315.37 677.17,315.68 677.46,315.99 677.75,316.31 678.04,316.62 678.33,316.94 678.62,317.25 678.91,317.56 679.2,317.86 679.49,318.16 679.78,318.44 680.11,318.75 680.44,319.05 680.77,319.34 681.11,319.63 681.44,319.91 681.77,320.2 682.1,320.48" fill="none" stroke="#ed2024" stroke-width="1.5" stroke-linejoin="round"/>
<text x="587.7" y="364.5" font-size="10.1" text-anchor="middle" fill="#000">S5P-RNAPII</text>
<line x1="503.7" y1="369.2" x2="503.7" y2="423.7" stroke="#7a7a7a" stroke-width="1.3" stroke-linecap="butt"/>
<line x1="499.8" y1="421" x2="503.7" y2="421" stroke="#333" stroke-width="0.9" stroke-linecap="butt"/>
<text x="495.5" y="423.59" font-size="7.2" text-anchor="end" fill="#4d4d4d">0</text>
<line x1="499.8" y1="411.5" x2="503.7" y2="411.5" stroke="#333" stroke-width="0.9" stroke-linecap="butt"/>
<text x="495.5" y="414.09" font-size="7.2" text-anchor="end" fill="#4d4d4d">2</text>
<line x1="499.8" y1="402" x2="503.7" y2="402" stroke="#333" stroke-width="0.9" stroke-linecap="butt"/>
<text x="495.5" y="404.59" font-size="7.2" text-anchor="end" fill="#4d4d4d">4</text>
<line x1="499.8" y1="392.5" x2="503.7" y2="392.5" stroke="#333" stroke-width="0.9" stroke-linecap="butt"/>
<text x="495.5" y="395.09" font-size="7.2" text-anchor="end" fill="#4d4d4d">6</text>
<line x1="499.8" y1="383" x2="503.7" y2="383" stroke="#333" stroke-width="0.9" stroke-linecap="butt"/>
<text x="495.5" y="385.59" font-size="7.2" text-anchor="end" fill="#4d4d4d">8</text>
<line x1="499.8" y1="373.5" x2="503.7" y2="373.5" stroke="#333" stroke-width="0.9" stroke-linecap="butt"/>
<text x="495.5" y="376.09" font-size="7.2" text-anchor="end" fill="#4d4d4d">10</text>
<line x1="518.1" y1="369.2" x2="518.1" y2="423.3" stroke="#9a9a9a" stroke-width="0.85" stroke-dasharray="3,2.6" stroke-linecap="butt"/>
<line x1="545.2" y1="369.2" x2="545.2" y2="423.3" stroke="#9a9a9a" stroke-width="0.85" stroke-dasharray="3,2.6" stroke-linecap="butt"/>
<line x1="504" y1="423.3" x2="559" y2="423.3" stroke="#333" stroke-width="1" stroke-linecap="butt"/>
<line x1="506.3" y1="423.3" x2="506.3" y2="426.9" stroke="#333" stroke-width="0.9" stroke-linecap="butt"/>
<line x1="518.1" y1="423.3" x2="518.1" y2="426.9" stroke="#333" stroke-width="0.9" stroke-linecap="butt"/>
<line x1="545.2" y1="423.3" x2="545.2" y2="426.9" stroke="#333" stroke-width="0.9" stroke-linecap="butt"/>
<line x1="556.8" y1="423.3" x2="556.8" y2="426.9" stroke="#333" stroke-width="0.9" stroke-linecap="butt"/>
<polyline points="506.5,414.11 506.79,414.08 507.08,414.05 507.37,414.02 507.66,413.99 507.95,413.96 508.24,413.94 508.53,413.91 508.82,413.89 509.11,413.86 509.4,413.83 509.69,413.8 509.98,413.77 510.27,413.74 510.56,413.7 510.85,413.66 511.14,413.62 511.43,413.57 511.72,413.52 512.01,413.46 512.3,413.4 512.59,413.32 512.88,413.21 513.17,413.07 513.46,412.9 513.75,412.7 514.04,412.47 514.33,412.21 514.62,411.93 514.91,411.61 515.2,411.27 515.49,410.89 515.78,410.49 516.07,410.06 516.36,409.6 516.65,408.78 516.94,407.45 517.23,405.92 517.52,404.46 517.81,403.38 518.1,402.95 518.78,404.22 519.46,407.04 520.13,409.96 520.81,411.5 521.58,411.87 522.36,412.17 523.13,412.4 523.91,412.58 524.68,412.72 525.46,412.83 526.23,412.93 526.95,413.01 527.68,413.08 528.4,413.16 529.12,413.23 529.84,413.29 530.57,413.35 531.29,413.41 532.01,413.46 532.73,413.5 533.46,413.54 534.18,413.58 534.9,413.6 535.62,413.62 536.35,413.63 537.07,413.64 537.75,413.63 538.43,413.59 539.1,413.55 539.78,413.48 540.46,413.4 541.13,413.32 541.81,413.22 542.49,413.12 543.17,413.02 543.85,412.93 544.62,412.78 545.28,412.58 545.61,412.35 545.95,412.12 546.28,411.93 546.61,411.79 546.94,411.74 547.23,411.75 547.52,411.78 547.81,411.82 548.1,411.88 548.39,411.95 548.68,412.03 548.97,412.11 549.26,412.2 549.55,412.29 549.84,412.38 550.13,412.47 550.42,412.55 550.71,412.62 551,412.69 551.29,412.74 551.58,412.8 551.87,412.85 552.16,412.9 552.45,412.95 552.74,413 553.03,413.05 553.32,413.09 553.61,413.14 553.9,413.18 554.19,413.23 554.48,413.27 554.77,413.32 555.06,413.36 555.35,413.41 555.64,413.45 555.93,413.5 556.22,413.54 556.51,413.59 556.8,413.64" fill="none" stroke="#000" stroke-width="1.5" stroke-linejoin="round"/>
<polyline points="506.5,414.11 506.79,414.08 507.08,414.05 507.37,414.02 507.66,413.99 507.95,413.96 508.24,413.94 508.53,413.91 508.82,413.89 509.11,413.86 509.4,413.83 509.69,413.81 509.98,413.78 510.27,413.74 510.56,413.71 510.85,413.67 511.14,413.62 511.43,413.57 511.72,413.52 512.01,413.46 512.3,413.4 512.59,413.32 512.88,413.2 513.17,413.05 513.46,412.87 513.75,412.65 514.04,412.4 514.33,412.11 514.62,411.79 514.91,411.43 515.2,411.04 515.49,410.62 515.78,410.15 516.07,409.66 516.36,409.12 516.65,408.11 516.94,406.42 517.23,404.44 517.52,402.55 517.81,401.13 518.1,400.57 518.78,402.13 519.46,405.59 520.13,409.15 520.81,411.02 521.58,411.46 522.36,411.81 523.13,412.09 523.91,412.3 524.68,412.46 525.46,412.59 526.23,412.69 526.95,412.77 527.68,412.85 528.4,412.92 529.12,412.99 529.84,413.06 530.57,413.12 531.29,413.18 532.01,413.23 532.73,413.27 533.46,413.31 534.18,413.34 534.9,413.37 535.62,413.38 536.35,413.4 537.07,413.4 537.75,413.39 538.43,413.36 539.1,413.31 539.78,413.24 540.46,413.17 541.13,413.08 541.81,412.98 542.49,412.89 543.17,412.79 543.85,412.69 544.62,412.54 545.28,412.34 545.61,412.11 545.95,411.89 546.28,411.69 546.61,411.55 546.94,411.5 547.23,411.51 547.52,411.54 547.81,411.58 548.1,411.64 548.39,411.7 548.68,411.78 548.97,411.86 549.26,411.95 549.55,412.04 549.84,412.13 550.13,412.22 550.42,412.3 550.71,412.38 551,412.45 551.29,412.51 551.58,412.58 551.87,412.64 552.16,412.7 552.45,412.76 552.74,412.82 553.03,412.88 553.32,412.94 553.61,413 553.9,413.05 554.19,413.11 554.48,413.17 554.77,413.23 555.06,413.29 555.35,413.34 555.64,413.4 555.93,413.46 556.22,413.52 556.51,413.58 556.8,413.64" fill="none" stroke="#ed2024" stroke-width="1.5" stroke-linejoin="round"/>
<line x1="580.2" y1="369.2" x2="580.2" y2="423.3" stroke="#9a9a9a" stroke-width="0.85" stroke-dasharray="3,2.6" stroke-linecap="butt"/>
<line x1="607.6" y1="369.2" x2="607.6" y2="423.3" stroke="#9a9a9a" stroke-width="0.85" stroke-dasharray="3,2.6" stroke-linecap="butt"/>
<line x1="567.3" y1="423.3" x2="621" y2="423.3" stroke="#333" stroke-width="1" stroke-linecap="butt"/>
<line x1="568.7" y1="423.3" x2="568.7" y2="426.9" stroke="#333" stroke-width="0.9" stroke-linecap="butt"/>
<line x1="580.2" y1="423.3" x2="580.2" y2="426.9" stroke="#333" stroke-width="0.9" stroke-linecap="butt"/>
<line x1="607.6" y1="423.3" x2="607.6" y2="426.9" stroke="#333" stroke-width="0.9" stroke-linecap="butt"/>
<line x1="619.2" y1="423.3" x2="619.2" y2="426.9" stroke="#333" stroke-width="0.9" stroke-linecap="butt"/>
<polyline points="568.6,414.11 568.89,414.06 569.18,414 569.47,413.95 569.76,413.91 570.05,413.86 570.34,413.82 570.63,413.77 570.92,413.73 571.21,413.68 571.5,413.64 571.79,413.59 572.08,413.54 572.37,413.48 572.66,413.42 572.95,413.36 573.24,413.28 573.53,413.21 573.82,413.12 574.11,413.03 574.4,412.93 574.69,412.81 574.98,412.67 575.27,412.5 575.56,412.3 575.85,412.07 576.14,411.8 576.43,411.48 576.72,411.12 577.01,410.7 577.3,410.23 577.59,409.7 577.88,409.1 578.17,408.44 578.46,407.7 578.75,405.23 579.04,400.24 579.33,394.06 579.62,388 579.91,383.4 580.2,381.57 581.16,393.2 582.12,405.8 582.82,407.11 583.53,408.16 584.23,408.98 584.94,409.6 585.64,410.05 586.35,410.36 587.05,410.55 587.74,410.68 588.42,410.81 589.11,410.92 589.79,411.03 590.48,411.13 591.16,411.22 591.85,411.3 592.53,411.38 593.22,411.45 593.9,411.51 594.59,411.56 595.27,411.61 595.96,411.65 596.64,411.68 597.33,411.71 598.01,411.72 598.7,411.73 599.38,411.74 600.07,411.73 600.75,411.73 601.44,411.71 602.12,411.7 602.81,411.67 603.49,411.65 604.18,411.62 604.86,411.58 605.55,411.54 606.23,411.5 607.01,411.36 607.68,411.09 608.01,410.75 608.33,410.42 608.66,410.17 608.99,410.07 609.29,410.09 609.58,410.12 609.87,410.18 610.17,410.25 610.46,410.34 610.76,410.44 611.05,410.55 611.34,410.67 611.64,410.79 611.93,410.92 612.22,411.04 612.52,411.17 612.81,411.29 613.11,411.4 613.4,411.5 613.69,411.59 613.98,411.69 614.27,411.78 614.56,411.88 614.85,411.97 615.14,412.07 615.43,412.16 615.72,412.26 616.01,412.35 616.3,412.45 616.59,412.54 616.88,412.64 617.17,412.73 617.46,412.83 617.75,412.92 618.04,413.02 618.33,413.11 618.62,413.21 618.91,413.3 619.2,413.4" fill="none" stroke="#000" stroke-width="1.5" stroke-linejoin="round"/>
<polyline points="568.6,414.11 568.89,414.06 569.18,414 569.47,413.95 569.76,413.9 570.05,413.86 570.34,413.81 570.63,413.77 570.92,413.72 571.21,413.68 571.5,413.63 571.79,413.58 572.08,413.53 572.37,413.47 572.66,413.41 572.95,413.35 573.24,413.28 573.53,413.2 573.82,413.12 574.11,413.02 574.4,412.93 574.69,412.81 574.98,412.69 575.27,412.54 575.56,412.37 575.85,412.18 576.14,411.95 576.43,411.69 576.72,411.4 577.01,411.06 577.3,410.68 577.59,410.25 577.88,409.78 578.17,409.24 578.46,408.65 578.75,406.88 579.04,403.42 579.33,399.16 579.62,395 579.91,391.85 580.2,390.6 581.16,398.53 582.12,407.23 582.82,408.25 583.53,409.08 584.23,409.73 584.94,410.23 585.64,410.6 586.35,410.85 587.05,411.02 587.74,411.15 588.42,411.27 589.11,411.39 589.79,411.49 590.48,411.59 591.16,411.68 591.85,411.77 592.53,411.85 593.22,411.92 593.9,411.98 594.59,412.03 595.27,412.08 595.96,412.12 596.64,412.15 597.33,412.18 598.01,412.2 598.7,412.21 599.38,412.21 600.07,412.21 600.75,412.19 601.44,412.16 602.12,412.12 602.81,412.07 603.49,412.02 604.18,411.95 604.86,411.89 605.55,411.81 606.23,411.74 607.01,411.59 607.68,411.35 608.01,411.08 608.33,410.82 608.66,410.63 608.99,410.55 609.29,410.56 609.58,410.59 609.87,410.63 610.17,410.69 610.46,410.77 610.76,410.85 611.05,410.94 611.34,411.04 611.64,411.14 611.93,411.25 612.22,411.35 612.52,411.46 612.81,411.56 613.11,411.65 613.4,411.74 613.69,411.82 613.98,411.9 614.27,411.98 614.56,412.06 614.85,412.15 615.14,412.23 615.43,412.31 615.72,412.39 616.01,412.48 616.3,412.56 616.59,412.65 616.88,412.73 617.17,412.81 617.46,412.9 617.75,412.98 618.04,413.07 618.33,413.15 618.62,413.23 618.91,413.32 619.2,413.4" fill="none" stroke="#ed2024" stroke-width="1.5" stroke-linejoin="round"/>
<line x1="643.2" y1="369.2" x2="643.2" y2="423.3" stroke="#9a9a9a" stroke-width="0.85" stroke-dasharray="3,2.6" stroke-linecap="butt"/>
<line x1="670.5" y1="369.2" x2="670.5" y2="423.3" stroke="#9a9a9a" stroke-width="0.85" stroke-dasharray="3,2.6" stroke-linecap="butt"/>
<line x1="630" y1="423.3" x2="684.5" y2="423.3" stroke="#333" stroke-width="1" stroke-linecap="butt"/>
<line x1="631.7" y1="423.3" x2="631.7" y2="426.9" stroke="#333" stroke-width="0.9" stroke-linecap="butt"/>
<line x1="643.2" y1="423.3" x2="643.2" y2="426.9" stroke="#333" stroke-width="0.9" stroke-linecap="butt"/>
<line x1="670.5" y1="423.3" x2="670.5" y2="426.9" stroke="#333" stroke-width="0.9" stroke-linecap="butt"/>
<line x1="682" y1="423.3" x2="682" y2="426.9" stroke="#333" stroke-width="0.9" stroke-linecap="butt"/>
<polyline points="631.6,413.64 631.89,413.58 632.18,413.53 632.47,413.48 632.76,413.43 633.05,413.39 633.34,413.35 633.63,413.3 633.92,413.26 634.21,413.22 634.5,413.17 634.79,413.12 635.08,413.07 635.37,413.02 635.66,412.96 635.95,412.89 636.24,412.82 636.53,412.74 636.82,412.65 637.11,412.56 637.4,412.45 637.69,412.32 637.98,412.16 638.27,411.96 638.56,411.71 638.85,411.42 639.14,411.07 639.43,410.67 639.72,410.2 640.01,409.66 640.3,409.05 640.59,408.36 640.88,407.6 641.17,406.74 641.46,405.8 641.75,402.51 642.04,395.81 642.33,387.48 642.62,379.32 642.91,373.12 643.2,370.65 644.16,385.64 645.11,402 645.81,403.82 646.51,405.28 647.22,406.44 647.92,407.31 648.62,407.95 649.32,408.38 650.03,408.65 650.71,408.83 651.39,409 652.07,409.15 652.75,409.3 653.44,409.42 654.12,409.54 654.8,409.65 655.49,409.74 656.17,409.83 656.85,409.91 657.53,409.98 658.22,410.04 658.9,410.1 659.58,410.15 660.26,410.19 660.95,410.24 661.63,410.28 662.31,410.31 662.99,410.35 663.67,410.38 664.36,410.42 665.04,410.45 665.72,410.48 666.4,410.5 667.09,410.52 667.77,410.54 668.45,410.55 669.13,410.55 669.91,410.47 670.58,410.27 670.91,409.99 671.25,409.69 671.58,409.41 671.91,409.2 672.24,409.12 672.53,409.13 672.82,409.16 673.11,409.2 673.4,409.25 673.69,409.31 673.98,409.38 674.27,409.46 674.56,409.55 674.85,409.64 675.14,409.73 675.43,409.82 675.72,409.91 676.01,409.99 676.3,410.07 676.59,410.16 676.88,410.24 677.17,410.32 677.46,410.41 677.75,410.5 678.04,410.6 678.33,410.69 678.62,410.79 678.91,410.88 679.2,410.98 679.49,411.08 679.78,411.18 680.07,411.28 680.36,411.38 680.65,411.48 680.94,411.58 681.23,411.68 681.52,411.78 681.81,411.88 682.1,411.98" fill="none" stroke="#000" stroke-width="1.5" stroke-linejoin="round"/>
<polyline points="631.6,414.11 631.89,414.08 632.18,414.05 632.47,414.02 632.76,413.99 633.05,413.96 633.34,413.94 633.63,413.91 633.92,413.89 634.21,413.86 634.5,413.84 634.79,413.81 635.08,413.78 635.37,413.74 635.66,413.71 635.95,413.67 636.24,413.62 636.53,413.58 636.82,413.52 637.11,413.46 637.4,413.4 637.69,413.32 637.98,413.21 638.27,413.06 638.56,412.89 638.85,412.67 639.14,412.42 639.43,412.12 639.72,411.78 640.01,411.39 640.3,410.95 640.59,410.46 640.88,409.92 641.17,409.31 641.46,408.65 641.75,406.62 642.04,402.61 642.33,397.68 642.62,392.86 642.91,389.2 643.2,387.75 644.16,397.8 645.11,408.65 645.81,409.71 646.51,410.56 647.22,411.24 647.92,411.75 648.62,412.11 649.32,412.34 650.03,412.45 650.71,412.51 651.39,412.56 652.07,412.61 652.75,412.65 653.44,412.69 654.12,412.73 654.8,412.76 655.49,412.79 656.17,412.82 656.85,412.84 657.53,412.86 658.22,412.88 658.9,412.89 659.58,412.9 660.26,412.91 660.95,412.92 661.63,412.92 662.31,412.93 662.99,412.92 663.67,412.91 664.36,412.9 665.04,412.88 665.72,412.86 666.4,412.83 667.09,412.8 667.77,412.77 668.45,412.73 669.13,412.69 669.91,412.59 670.58,412.4 670.91,412.17 671.25,411.93 671.58,411.72 671.91,411.56 672.24,411.5 672.53,411.51 672.82,411.53 673.11,411.56 673.4,411.61 673.69,411.66 673.98,411.72 674.27,411.78 674.56,411.85 674.85,411.92 675.14,411.98 675.43,412.05 675.72,412.11 676.01,412.17 676.3,412.21 676.59,412.25 676.88,412.29 677.17,412.33 677.46,412.37 677.75,412.41 678.04,412.45 678.33,412.48 678.62,412.52 678.91,412.55 679.2,412.59 679.49,412.62 679.78,412.65 680.07,412.69 680.36,412.72 680.65,412.75 680.94,412.79 681.23,412.82 681.52,412.85 681.81,412.89 682.1,412.93" fill="none" stroke="#ed2024" stroke-width="1.5" stroke-linejoin="round"/>
<line x1="479.7" y1="140" x2="479.7" y2="182.5" stroke="#000" stroke-width="0.9" stroke-linecap="butt"/>
<path d="M476.2,141.2 L483.2,141.2 L479.7,135.1 Z" fill="#000"/>
<path d="M476.2,182.0 L483.2,182.0 L479.7,191.2 Z" fill="#000"/>
<text transform="translate(474.3,162) rotate(-90)" font-size="8.7" text-anchor="middle" fill="#222">sense</text>
<text transform="translate(470,182.2) rotate(-90)" font-size="6.9" text-anchor="end" fill="#222">anti-</text>
<text transform="translate(475.6,182.2) rotate(-90)" font-size="6.9" text-anchor="end" fill="#222">sense</text>
<text transform="translate(462.8,252) rotate(-90)" font-size="10" text-anchor="middle" fill="#000">Average coverage</text>
<text transform="translate(510.7,433) rotate(-60)" font-size="8.8" text-anchor="end" fill="#333">−3kb</text>
<text transform="translate(522.5,433) rotate(-60)" font-size="8.8" text-anchor="end" fill="#333">TSS</text>
<text transform="translate(549.6,433) rotate(-60)" font-size="8.8" text-anchor="end" fill="#333">TTS</text>
<text transform="translate(561.2,433) rotate(-60)" font-size="8.8" text-anchor="end" fill="#333">+3kb</text>
<text transform="translate(573.1,433) rotate(-60)" font-size="8.8" text-anchor="end" fill="#333">−3kb</text>
<text transform="translate(584.6,433) rotate(-60)" font-size="8.8" text-anchor="end" fill="#333">TSS</text>
<text transform="translate(612,433) rotate(-60)" font-size="8.8" text-anchor="end" fill="#333">TTS</text>
<text transform="translate(623.6,433) rotate(-60)" font-size="8.8" text-anchor="end" fill="#333">+3kb</text>
<text transform="translate(636.1,433) rotate(-60)" font-size="8.8" text-anchor="end" fill="#333">−3kb</text>
<text transform="translate(647.6,433) rotate(-60)" font-size="8.8" text-anchor="end" fill="#333">TSS</text>
<text transform="translate(674.9,433) rotate(-60)" font-size="8.8" text-anchor="end" fill="#333">TTS</text>
<text transform="translate(686.4,433) rotate(-60)" font-size="8.8" text-anchor="end" fill="#333">+3kb</text>
<line x1="543.5" y1="465.3" x2="554.9" y2="465.3" stroke="#111" stroke-width="2.9" stroke-linecap="butt"/>
<text x="558.3" y="468.3" font-size="10" text-anchor="start" fill="#000">WT</text>
<line x1="581.7" y1="465.3" x2="592.5" y2="465.3" stroke="#e8302c" stroke-width="2.9" stroke-linecap="butt"/>
<text x="596.7" y="468.3" font-size="10" text-anchor="start" fill="#000" font-style="italic">Dot1l -/-</text>
<line x1="54.4" y1="215.8" x2="54.4" y2="277.6" stroke="#8a8a8a" stroke-width="1.1" stroke-linecap="butt"/>
<line x1="50.4" y1="274.7" x2="54.2" y2="274.7" stroke="#333" stroke-width="0.9" stroke-linecap="butt"/>
<text x="49.4" y="276.5" font-size="7.1" text-anchor="end" fill="#4d4d4d">0.0</text>
<line x1="50.4" y1="265.12" x2="54.2" y2="265.12" stroke="#333" stroke-width="0.9" stroke-linecap="butt"/>
<text x="49.4" y="266.92" font-size="7.1" text-anchor="end" fill="#4d4d4d">0.2</text>
<line x1="50.4" y1="255.54" x2="54.2" y2="255.54" stroke="#333" stroke-width="0.9" stroke-linecap="butt"/>
<text x="49.4" y="257.34" font-size="7.1" text-anchor="end" fill="#4d4d4d">0.4</text>
<line x1="50.4" y1="245.96" x2="54.2" y2="245.96" stroke="#333" stroke-width="0.9" stroke-linecap="butt"/>
<text x="49.4" y="247.76" font-size="7.1" text-anchor="end" fill="#4d4d4d">0.6</text>
<line x1="50.4" y1="236.38" x2="54.2" y2="236.38" stroke="#333" stroke-width="0.9" stroke-linecap="butt"/>
<text x="49.4" y="238.18" font-size="7.1" text-anchor="end" fill="#4d4d4d">0.8</text>
<line x1="50.4" y1="226.8" x2="54.2" y2="226.8" stroke="#333" stroke-width="0.9" stroke-linecap="butt"/>
<text x="49.4" y="228.6" font-size="7.1" text-anchor="end" fill="#4d4d4d">1.0</text>
<line x1="50.4" y1="217.22" x2="54.2" y2="217.22" stroke="#333" stroke-width="0.9" stroke-linecap="butt"/>
<text x="49.4" y="219.02" font-size="7.1" text-anchor="end" fill="#4d4d4d">1.2</text>
<text transform="translate(30.4,239) rotate(-90)" font-size="8.8" text-anchor="middle" fill="#000">Elongation velocity (arb. units)</text>
<line x1="56.6" y1="216.5" x2="56.6" y2="277" stroke="#9a9a9a" stroke-width="0.85" stroke-dasharray="3,2.6" stroke-linecap="butt"/>
<line x1="54.2" y1="277.3" x2="108.2" y2="277.3" stroke="#9a9a9a" stroke-width="1.1" stroke-linecap="butt"/>
<line x1="56.6" y1="277" x2="56.6" y2="281.2" stroke="#333" stroke-width="0.9" stroke-linecap="butt"/>
<text transform="translate(60.9,286.3) rotate(-60)" font-size="8.5" text-anchor="end" fill="#333">TSS</text>
<line x1="106.6" y1="277" x2="106.6" y2="281.2" stroke="#333" stroke-width="0.9" stroke-linecap="butt"/>
<text transform="translate(110.9,286.3) rotate(-60)" font-size="8.5" text-anchor="end" fill="#333">+10kb</text>
<text x="85.5" y="198.2" font-size="8.6" text-anchor="middle" fill="#000">Upreg</text>
<text x="85.5" y="208" font-size="8.6" text-anchor="middle" fill="#000">(n=840)</text>
<line x1="119.5" y1="216.5" x2="119.5" y2="277" stroke="#9a9a9a" stroke-width="0.85" stroke-dasharray="3,2.6" stroke-linecap="butt"/>
<line x1="118" y1="277.3" x2="170.8" y2="277.3" stroke="#9a9a9a" stroke-width="1.1" stroke-linecap="butt"/>
<line x1="119.5" y1="277" x2="119.5" y2="281.2" stroke="#333" stroke-width="0.9" stroke-linecap="butt"/>
<text transform="translate(123.8,286.3) rotate(-60)" font-size="8.5" text-anchor="end" fill="#333">TSS</text>
<line x1="169.6" y1="277" x2="169.6" y2="281.2" stroke="#333" stroke-width="0.9" stroke-linecap="butt"/>
<text transform="translate(173.9,286.3) rotate(-60)" font-size="8.5" text-anchor="end" fill="#333">+10kb</text>
<text x="147.6" y="198.2" font-size="8.6" text-anchor="middle" fill="#000">Unchanged</text>
<text x="147.6" y="208" font-size="8.6" text-anchor="middle" fill="#000">(n=7498)</text>
<line x1="182.4" y1="216.5" x2="182.4" y2="277" stroke="#9a9a9a" stroke-width="0.85" stroke-dasharray="3,2.6" stroke-linecap="butt"/>
<line x1="181.4" y1="277.3" x2="233.8" y2="277.3" stroke="#9a9a9a" stroke-width="1.1" stroke-linecap="butt"/>
<line x1="182.4" y1="277" x2="182.4" y2="281.2" stroke="#333" stroke-width="0.9" stroke-linecap="butt"/>
<text transform="translate(186.7,286.3) rotate(-60)" font-size="8.5" text-anchor="end" fill="#333">TSS</text>
<line x1="232.9" y1="277" x2="232.9" y2="281.2" stroke="#333" stroke-width="0.9" stroke-linecap="butt"/>
<text transform="translate(237.2,286.3) rotate(-60)" font-size="8.5" text-anchor="end" fill="#333">+10kb</text>
<text x="211.6" y="198.2" font-size="8.6" text-anchor="middle" fill="#000">Downreg</text>
<text x="211.6" y="208" font-size="8.6" text-anchor="middle" fill="#000">(n=752)</text>
<polyline points="56.6,274.57 57.1,274.11 57.6,273.36 58.1,272.46 58.6,271.82 59.1,271.06 59.6,270.35 60.1,269.61 60.6,268.61 61.1,267.91 61.6,267.64 62.16,266.96 62.73,266.59 63.29,265.88 63.85,265.63 64.41,265.34 64.97,264.57 65.54,265.06 66.1,264.64 66.6,263.26 67.1,262.92 67.6,263.2 68.1,263.36 68.6,262.38 69.1,261.9 69.6,261.89 70.1,261.2 70.6,261.24 71.1,261.32 71.6,261.23 72.1,260.75 72.6,260.6 73.1,260.45 73.6,260.62 74.1,260.29 74.6,259.86 75.1,260.74 75.6,260.29 76.1,260.29 76.6,259.64 77.1,260.52 77.6,260.3 78.1,259.4 78.6,260.1 79.1,261.55 79.6,262.53 80.1,263.25 80.6,262.57 81.1,262.9 81.6,262.47 82.1,261.77 82.6,261.85 83.1,261.97 83.6,261.77 84.1,261.29 84.6,261.61 85.1,261.47 85.6,262.42 86.1,263.77 86.6,263.85 87.1,263.77 87.6,264.22 88.1,264.39 88.6,264.33 89.1,263.94 89.6,263.98 90.1,264.02 90.6,264.3 91.1,263.95 91.6,263.75 92.1,263.82 92.6,263.23 93.1,263.21 93.6,263.97 94.1,264.28 94.6,263.8 95.1,263.56 95.6,263.29 96.1,263.71 96.6,264.31 97.1,264.08 97.6,263.84 98.1,264.27 98.6,263.56 99.1,263.94 99.6,264.51 100.1,264.1 100.6,264 101.1,263.81 101.6,264.18 102.1,264.69 102.6,263.56 103.1,264.5 103.6,264.49 104.1,264.42 104.6,264.04 105.1,263.86 105.6,263.24 106.1,263.03 106.6,262.64" fill="none" stroke="#000" stroke-width="2.4" stroke-linejoin="round"/>
<polyline points="56.6,274.86 57.1,273.05 57.6,270.9 58.1,269.11 58.6,267.64 59.1,265.83 59.6,263.97 60.1,262.04 60.6,260.48 61.1,259.05 61.6,257.96 62.14,256.91 62.68,256.17 63.22,255.39 63.75,254.8 64.29,254.25 64.83,254.01 65.37,252.97 65.91,252.33 66.45,251.64 66.98,250.92 67.52,250.49 68.06,250.61 68.6,250.05 69.1,249.77 69.6,250.02 70.1,249.22 70.6,248.91 71.1,248.19 71.6,247.63 72.1,247.73 72.6,247.28 73.1,247.56 73.6,248.03 74.1,247.61 74.6,247.18 75.1,248.47 75.6,248.97 76.1,249.59 76.6,250.5 77.1,250.95 77.6,251.41 78.1,251.05 78.6,251.79 79.1,251.71 79.6,250.67 80.1,251.29 80.6,251.13 81.1,250.7 81.6,250.67 82.1,250.51 82.6,250.93 83.1,250.34 83.6,250.69 84.1,250.1 84.6,250.79 85.1,250.96 85.6,250.67 86.1,251.1 86.6,251.86 87.1,251.98 87.6,252.05 88.1,252.07 88.6,252.49 89.1,253.17 89.6,252.69 90.1,253.63 90.6,252.85 91.1,253.59 91.6,252.8 92.1,253.5 92.6,253.11 93.1,252.77 93.6,252.69 94.1,252.75 94.6,252.57 95.1,252.15 95.6,251.95 96.1,252.25 96.6,252.72 97.1,252.33 97.6,251.85 98.1,253.19 98.6,253.66 99.1,254.45 99.6,254.03 100.1,254.88 100.6,254.05 101.1,254.77 101.6,254.31 102.1,254.25 102.6,255.03 103.1,254.11 103.6,254.61 104.1,255.01 104.6,254.28 105.1,254.23 105.6,255.04 106.1,254.49 106.6,254.84" fill="none" stroke="#ed2024" stroke-width="2.4" stroke-linejoin="round"/>
<polyline points="119.5,273.66 120,273.34 120.5,272.74 121,271.6 121.5,269.71 122,267.38 122.51,264.89 123.01,262.16 123.51,258.81 124.01,255.73 124.51,253.29 125.01,250.7 125.51,248.45 126.01,246.34 126.51,245.04 127.02,244.03 127.52,243.51 128.02,243.09 128.52,242.24 129.02,242.09 129.52,241.82 130.02,241.11 130.52,241.71 131.02,241.46 131.52,241.1 132.03,240.77 132.53,241.57 133.03,241.15 133.53,241.39 134.03,241.56 134.53,241.43 135.03,241.69 135.53,241.24 136.03,241.74 136.53,241.49 137.03,242.11 137.54,242.19 138.04,241.55 138.54,241.74 139.04,241.99 139.54,242.9 140.04,242.55 140.54,242.91 141.04,242.76 141.54,243.14 142.05,243.19 142.55,243.32 143.05,243.71 143.55,243.86 144.05,244.32 144.55,244.23 145.05,244.59 145.55,244.64 146.05,244.9 146.55,244.7 147.06,244.31 147.56,245.12 148.06,245.34 148.56,245.4 149.06,245.18 149.56,245.43 150.06,245.05 150.56,245.78 151.06,245.63 151.56,245.46 152.06,245.35 152.57,246.25 153.07,246.5 153.57,245.71 154.07,246.54 154.57,246.26 155.07,246.11 155.57,246.37 156.07,246.96 156.57,247.18 157.07,246.46 157.58,247.15 158.08,246.69 158.58,247.48 159.08,247.21 159.58,247.87 160.08,248.09 160.58,247.73 161.08,248.34 161.58,247.76 162.08,247.64 162.59,248.28 163.09,247.83 163.59,248.11 164.09,248.44 164.59,248.75 165.09,248.41 165.59,248.41 166.09,249.36 166.59,248.92 167.09,249.68 167.6,249.73 168.1,249.32 168.6,249.52 169.1,249.7 169.6,249.94" fill="none" stroke="#000" stroke-width="2.4" stroke-linejoin="round"/>
<polyline points="119.5,273.66 120,272.99 120.5,272.27 121,270.51 121.5,267.9 122,265.09 122.51,261.94 123.01,257.99 123.51,253.8 124.01,249.55 124.51,245.97 125.01,242.39 125.51,238.86 126.01,235.85 126.51,233.9 127.02,232.88 127.52,232 128.02,231.08 128.52,230.35 129.02,229.21 129.52,229 130.02,229.12 130.52,229.03 131.02,228.99 131.52,228.88 132.03,227.98 132.53,228.41 133.03,228.43 133.53,228.24 134.03,227.93 134.53,228.28 135.03,227.97 135.53,228.93 136.03,228.99 136.53,228.83 137.03,228.76 137.54,229.57 138.04,229.44 138.54,229.98 139.04,230.18 139.54,230.09 140.04,230.25 140.54,230.69 141.04,230.79 141.54,230.78 142.05,231.18 142.55,231.94 143.05,231.42 143.55,231.66 144.05,232.46 144.55,232.33 145.05,232.79 145.55,232.93 146.05,233.01 146.55,233.87 147.06,233.28 147.56,233.71 148.06,233.71 148.56,234.36 149.06,234.21 149.56,234.51 150.06,235.11 150.56,234.9 151.06,235.36 151.56,235.92 152.06,235.33 152.57,235.5 153.07,235.88 153.57,236.63 154.07,236.69 154.57,236.53 155.07,236.83 155.57,236.88 156.07,237.37 156.57,237.16 157.07,238.01 157.58,238.41 158.08,238.67 158.58,238.65 159.08,239.07 159.58,238.32 160.08,238.79 160.58,239.66 161.08,239.66 161.58,239.49 162.08,240.21 162.59,240.08 163.09,240.46 163.59,240.13 164.09,240.22 164.59,240.66 165.09,240.54 165.59,240.97 166.09,241.74 166.59,241.3 167.09,241.17 167.6,241.39 168.1,241.7 168.6,242.51 169.1,242.28 169.6,242.4" fill="none" stroke="#ed2024" stroke-width="2.4" stroke-linejoin="round"/>
<polyline points="182.4,274.31 182.91,273.84 183.41,273.32 183.91,272.62 184.42,270.72 184.92,267.92 185.43,263.65 185.94,260.09 186.44,256.82 186.94,252.86 187.45,248.87 187.96,244.22 188.46,241.03 188.97,238.59 189.47,237.42 189.97,236.28 190.48,234.12 190.99,233.87 191.49,233.46 192,234.52 192.5,233.73 193,231.89 193.51,233.08 194.02,231.21 194.52,232.13 195.03,230.79 195.53,230.39 196.03,232.43 196.54,230.79 197.04,230.76 197.55,232.56 198.06,232.26 198.56,230.82 199.06,232.4 199.57,231.36 200.07,231.67 200.58,230.51 201.09,232.25 201.59,231.63 202.09,232.28 202.6,232.09 203.1,230.65 203.61,230.79 204.12,230.31 204.62,230.26 205.12,230.07 205.63,230.64 206.13,231.39 206.64,229.99 207.15,231.66 207.65,230.91 208.16,230.92 208.66,232.23 209.17,231.52 209.67,231.23 210.18,231.74 210.68,232.39 211.19,230.96 211.69,233.29 212.2,231.13 212.7,233 213.21,233.36 213.71,231.5 214.22,233.48 214.72,232.59 215.23,233.22 215.73,231.97 216.24,232.19 216.74,232.64 217.25,234.64 217.75,232.96 218.26,234.46 218.76,235.03 219.27,235.21 219.77,233.94 220.28,234.12 220.78,234.68 221.28,235.44 221.79,234 222.29,235.69 222.8,235.95 223.31,236.25 223.81,234.41 224.31,236.73 224.82,234.8 225.32,235.52 225.83,236.28 226.33,237.12 226.84,235.84 227.34,237.34 227.85,236.53 228.35,236.06 228.86,236.17 229.37,235.92 229.87,235.78 230.38,236.04 230.88,237.42 231.38,238.25 231.89,236.34 232.4,236.16 232.9,238.51" fill="none" stroke="#000" stroke-width="2.4" stroke-linejoin="round"/>
<polyline points="182.4,274.43 182.91,273.75 183.41,272.81 183.91,271.65 184.42,269.37 184.92,266.39 185.43,261.98 185.94,257.64 186.44,253.05 186.94,248.88 187.45,243.55 187.96,239.03 188.46,234.74 188.97,231.53 189.47,229.62 189.97,228.03 190.48,225.75 190.99,225.46 191.49,225.14 192,223.03 192.5,223.54 193,222.56 193.51,222.39 194.02,220.79 194.52,220.08 195.03,221.8 195.53,221.88 196.03,221.12 196.54,220.42 197.04,220.82 197.55,222.04 198.06,221.39 198.56,223.15 199.06,222.44 199.57,221.66 200.07,222.86 200.58,222.25 201.08,223.72 201.59,223.75 202.09,222.88 202.6,223.27 203.1,223.47 203.61,223.79 204.11,224.27 204.62,222.06 205.12,222.92 205.63,223.56 206.13,222.91 206.64,223.66 207.14,222.52 207.65,224.48 208.16,223.7 208.66,222.78 209.16,224.17 209.67,223.4 210.17,223.2 210.68,223.97 211.19,223.23 211.69,223.5 212.19,225.17 212.7,224.88 213.2,223.35 213.71,225.32 214.22,223.64 214.72,224.56 215.22,226.1 215.73,225.59 216.23,225.03 216.74,225.39 217.25,225.62 217.75,225.2 218.25,227.5 218.76,225.45 219.27,226.55 219.77,227.54 220.28,226.93 220.78,228.54 221.28,227 221.79,228.97 222.3,228.97 222.8,228.65 223.31,229.38 223.81,228.52 224.31,229.65 224.82,229.78 225.33,229.32 225.83,229.42 226.34,230.2 226.84,229.71 227.34,229.15 227.85,230.95 228.36,230.02 228.86,230.77 229.37,231.7 229.87,230.45 230.38,230.31 230.88,230.77 231.39,232.11 231.89,231.78 232.4,231.75 232.9,232.43" fill="none" stroke="#ed2024" stroke-width="2.4" stroke-linejoin="round"/>
<line x1="66.9" y1="221.6" x2="76.3" y2="221.6" stroke="#000" stroke-width="2.2" stroke-linecap="butt"/>
<text x="80" y="224.6" font-size="8.6" text-anchor="start" fill="#000">WT</text>
<line x1="66.9" y1="236.3" x2="76.3" y2="236.3" stroke="#ed2024" stroke-width="2.2" stroke-linecap="butt"/>
<text x="80.4" y="239.3" font-size="8.6" text-anchor="start" fill="#000" font-style="italic">Dot1l -/-</text>
<line x1="49" y1="383.7" x2="49" y2="485.4" stroke="#888" stroke-width="1.3" stroke-linecap="butt"/>
<line x1="45.3" y1="480.7" x2="49" y2="480.7" stroke="#333" stroke-width="0.9" stroke-linecap="butt"/>
<text x="42.2" y="483.7" font-size="8.4" text-anchor="end" fill="#4d4d4d">0</text>
<line x1="45.3" y1="446.7" x2="49" y2="446.7" stroke="#333" stroke-width="0.9" stroke-linecap="butt"/>
<text x="42.2" y="449.7" font-size="8.4" text-anchor="end" fill="#4d4d4d">1</text>
<line x1="45.3" y1="412.7" x2="49" y2="412.7" stroke="#333" stroke-width="0.9" stroke-linecap="butt"/>
<text x="42.2" y="415.7" font-size="8.4" text-anchor="end" fill="#4d4d4d">2</text>
<text transform="translate(30,437.1) rotate(-90)" font-size="9.1" text-anchor="middle" fill="#000">Elongation velocity (arb. units)</text>
<text x="137.5" y="530.7" font-size="8.6" text-anchor="middle" fill="#000">Distance from TSS (kb)</text>
<line x1="48.8" y1="485.2" x2="110" y2="485.2" stroke="#333" stroke-width="1" stroke-linecap="butt"/>
<line x1="60.4" y1="485.2" x2="60.4" y2="488.8" stroke="#333" stroke-width="0.9" stroke-linecap="butt"/>
<text transform="translate(64,492.6) rotate(-60)" font-size="8.8" text-anchor="end" fill="#333">+0.2−1</text>
<line x1="79.4" y1="485.2" x2="79.4" y2="488.8" stroke="#333" stroke-width="0.9" stroke-linecap="butt"/>
<text transform="translate(83,492.6) rotate(-60)" font-size="8.8" text-anchor="end" fill="#333">+1−4</text>
<line x1="98.4" y1="485.2" x2="98.4" y2="488.8" stroke="#333" stroke-width="0.9" stroke-linecap="butt"/>
<text transform="translate(102,492.6) rotate(-60)" font-size="8.8" text-anchor="end" fill="#333">+4−8</text>
<text x="79.6" y="339.9" font-size="8.6" text-anchor="middle" fill="#000">Upreg</text>
<text x="79.6" y="350.5" font-size="8.6" text-anchor="middle" fill="#000">(n=978)</text>
<line x1="55.45" y1="471" x2="55.45" y2="476.2" stroke="#000" stroke-width="1.25" stroke-linecap="butt"/>
<line x1="55.45" y1="480.2" x2="55.45" y2="480.7" stroke="#000" stroke-width="1.25" stroke-linecap="butt"/>
<rect x="52" y="476.2" width="6.9" height="4" fill="none" stroke="#000" stroke-width="1.25"/>
<line x1="52" y1="478.4" x2="58.9" y2="478.4" stroke="#000" stroke-width="1.25" stroke-linecap="butt"/>
<line x1="64" y1="462" x2="64" y2="472.3" stroke="#ed2024" stroke-width="1.25" stroke-linecap="butt"/>
<line x1="64" y1="479.8" x2="64" y2="480.7" stroke="#ed2024" stroke-width="1.25" stroke-linecap="butt"/>
<rect x="60.4" y="472.3" width="7.2" height="7.5" fill="none" stroke="#ed2024" stroke-width="1.25"/>
<line x1="60.4" y1="476.7" x2="67.6" y2="476.7" stroke="#ed2024" stroke-width="1.25" stroke-linecap="butt"/>
<line x1="74.8" y1="449.2" x2="74.8" y2="466.9" stroke="#000" stroke-width="1.25" stroke-linecap="butt"/>
<line x1="74.8" y1="479.4" x2="74.8" y2="480.7" stroke="#000" stroke-width="1.25" stroke-linecap="butt"/>
<rect x="71.5" y="466.9" width="6.6" height="12.5" fill="none" stroke="#000" stroke-width="1.25"/>
<line x1="71.5" y1="475.2" x2="78.1" y2="475.2" stroke="#000" stroke-width="1.25" stroke-linecap="butt"/>
<line x1="83.05" y1="427.5" x2="83.05" y2="456.4" stroke="#ed2024" stroke-width="1.25" stroke-linecap="butt"/>
<line x1="83.05" y1="476.5" x2="83.05" y2="480.7" stroke="#ed2024" stroke-width="1.25" stroke-linecap="butt"/>
<rect x="79.6" y="456.4" width="6.9" height="20.1" fill="none" stroke="#ed2024" stroke-width="1.25"/>
<line x1="79.6" y1="468.3" x2="86.5" y2="468.3" stroke="#ed2024" stroke-width="1.25" stroke-linecap="butt"/>
<line x1="93.75" y1="452.2" x2="93.75" y2="468.3" stroke="#000" stroke-width="1.25" stroke-linecap="butt"/>
<line x1="93.75" y1="479.4" x2="93.75" y2="480.7" stroke="#000" stroke-width="1.25" stroke-linecap="butt"/>
<rect x="90.5" y="468.3" width="6.5" height="11.1" fill="none" stroke="#000" stroke-width="1.25"/>
<line x1="90.5" y1="476.2" x2="97" y2="476.2" stroke="#000" stroke-width="1.25" stroke-linecap="butt"/>
<line x1="102.05" y1="434.2" x2="102.05" y2="459.1" stroke="#ed2024" stroke-width="1.25" stroke-linecap="butt"/>
<line x1="102.05" y1="477.1" x2="102.05" y2="480.7" stroke="#ed2024" stroke-width="1.25" stroke-linecap="butt"/>
<rect x="98.6" y="459.1" width="6.9" height="18" fill="none" stroke="#ed2024" stroke-width="1.25"/>
<line x1="98.6" y1="470.2" x2="105.5" y2="470.2" stroke="#ed2024" stroke-width="1.25" stroke-linecap="butt"/>
<line x1="118.7" y1="485.2" x2="178.7" y2="485.2" stroke="#333" stroke-width="1" stroke-linecap="butt"/>
<line x1="129" y1="485.2" x2="129" y2="488.8" stroke="#333" stroke-width="0.9" stroke-linecap="butt"/>
<text transform="translate(132.6,492.6) rotate(-60)" font-size="8.8" text-anchor="end" fill="#333">+0.2−1</text>
<line x1="148.1" y1="485.2" x2="148.1" y2="488.8" stroke="#333" stroke-width="0.9" stroke-linecap="butt"/>
<text transform="translate(151.7,492.6) rotate(-60)" font-size="8.8" text-anchor="end" fill="#333">+1−4</text>
<line x1="167" y1="485.2" x2="167" y2="488.8" stroke="#333" stroke-width="0.9" stroke-linecap="butt"/>
<text transform="translate(170.6,492.6) rotate(-60)" font-size="8.8" text-anchor="end" fill="#333">+4−8</text>
<text x="147.6" y="339.9" font-size="8.6" text-anchor="middle" fill="#000">Unchanged</text>
<text x="147.6" y="350.5" font-size="8.6" text-anchor="middle" fill="#000">(n=9732)</text>
<line x1="124.35" y1="462.5" x2="124.35" y2="472.1" stroke="#000" stroke-width="1.25" stroke-linecap="butt"/>
<line x1="124.35" y1="479.6" x2="124.35" y2="480.7" stroke="#000" stroke-width="1.25" stroke-linecap="butt"/>
<rect x="121" y="472.1" width="6.7" height="7.5" fill="none" stroke="#000" stroke-width="1.25"/>
<line x1="121" y1="476" x2="127.7" y2="476" stroke="#000" stroke-width="1.25" stroke-linecap="butt"/>
<line x1="132.8" y1="457.7" x2="132.8" y2="470.6" stroke="#ed2024" stroke-width="1.25" stroke-linecap="butt"/>
<line x1="132.8" y1="478.7" x2="132.8" y2="480.7" stroke="#ed2024" stroke-width="1.25" stroke-linecap="butt"/>
<rect x="129.5" y="470.6" width="6.6" height="8.1" fill="none" stroke="#ed2024" stroke-width="1.25"/>
<line x1="129.5" y1="475.7" x2="136.1" y2="475.7" stroke="#ed2024" stroke-width="1.25" stroke-linecap="butt"/>
<line x1="143.15" y1="413" x2="143.15" y2="449.6" stroke="#000" stroke-width="1.25" stroke-linecap="butt"/>
<line x1="143.15" y1="473" x2="143.15" y2="480.7" stroke="#000" stroke-width="1.25" stroke-linecap="butt"/>
<rect x="139.7" y="449.6" width="6.9" height="23.4" fill="none" stroke="#000" stroke-width="1.25"/>
<line x1="139.7" y1="461.6" x2="146.6" y2="461.6" stroke="#000" stroke-width="1.25" stroke-linecap="butt"/>
<line x1="151.55" y1="388" x2="151.55" y2="437.6" stroke="#ed2024" stroke-width="1.25" stroke-linecap="butt"/>
<line x1="151.55" y1="471.2" x2="151.55" y2="480.7" stroke="#ed2024" stroke-width="1.25" stroke-linecap="butt"/>
<rect x="148.1" y="437.6" width="6.9" height="33.6" fill="none" stroke="#ed2024" stroke-width="1.25"/>
<line x1="148.1" y1="455" x2="155" y2="455" stroke="#ed2024" stroke-width="1.25" stroke-linecap="butt"/>
<line x1="162.35" y1="420.5" x2="162.35" y2="453.5" stroke="#000" stroke-width="1.25" stroke-linecap="butt"/>
<line x1="162.35" y1="475.1" x2="162.35" y2="480.7" stroke="#000" stroke-width="1.25" stroke-linecap="butt"/>
<rect x="159.2" y="453.5" width="6.3" height="21.6" fill="none" stroke="#000" stroke-width="1.25"/>
<line x1="159.2" y1="465.5" x2="165.5" y2="465.5" stroke="#000" stroke-width="1.25" stroke-linecap="butt"/>
<line x1="170.9" y1="402.5" x2="170.9" y2="445.7" stroke="#ed2024" stroke-width="1.25" stroke-linecap="butt"/>
<line x1="170.9" y1="474.2" x2="170.9" y2="480.7" stroke="#ed2024" stroke-width="1.25" stroke-linecap="butt"/>
<rect x="167.6" y="445.7" width="6.6" height="28.5" fill="none" stroke="#ed2024" stroke-width="1.25"/>
<line x1="167.6" y1="461.6" x2="174.2" y2="461.6" stroke="#ed2024" stroke-width="1.25" stroke-linecap="butt"/>
<line x1="187.5" y1="485.2" x2="246.6" y2="485.2" stroke="#333" stroke-width="1" stroke-linecap="butt"/>
<line x1="197.6" y1="485.2" x2="197.6" y2="488.8" stroke="#333" stroke-width="0.9" stroke-linecap="butt"/>
<text transform="translate(201.2,492.6) rotate(-60)" font-size="8.8" text-anchor="end" fill="#333">+0.2−1</text>
<line x1="216.6" y1="485.2" x2="216.6" y2="488.8" stroke="#333" stroke-width="0.9" stroke-linecap="butt"/>
<text transform="translate(220.2,492.6) rotate(-60)" font-size="8.8" text-anchor="end" fill="#333">+1−4</text>
<line x1="235.8" y1="485.2" x2="235.8" y2="488.8" stroke="#333" stroke-width="0.9" stroke-linecap="butt"/>
<text transform="translate(239.4,492.6) rotate(-60)" font-size="8.8" text-anchor="end" fill="#333">+4−8</text>
<text x="217.5" y="339.9" font-size="8.6" text-anchor="middle" fill="#000">Downreg</text>
<text x="217.5" y="350.5" font-size="8.6" text-anchor="middle" fill="#000">(n=877)</text>
<line x1="193.05" y1="461.5" x2="193.05" y2="471.4" stroke="#000" stroke-width="1.25" stroke-linecap="butt"/>
<line x1="193.05" y1="478.6" x2="193.05" y2="480.7" stroke="#000" stroke-width="1.25" stroke-linecap="butt"/>
<rect x="189.6" y="471.4" width="6.9" height="7.2" fill="none" stroke="#000" stroke-width="1.25"/>
<line x1="189.6" y1="475.6" x2="196.5" y2="475.6" stroke="#000" stroke-width="1.25" stroke-linecap="butt"/>
<line x1="202.05" y1="459.4" x2="202.05" y2="470.5" stroke="#ed2024" stroke-width="1.25" stroke-linecap="butt"/>
<line x1="202.05" y1="478.6" x2="202.05" y2="480.7" stroke="#ed2024" stroke-width="1.25" stroke-linecap="butt"/>
<rect x="198.6" y="470.5" width="6.9" height="8.1" fill="none" stroke="#ed2024" stroke-width="1.25"/>
<line x1="198.6" y1="475.6" x2="205.5" y2="475.6" stroke="#ed2024" stroke-width="1.25" stroke-linecap="butt"/>
<line x1="212.25" y1="411.1" x2="212.25" y2="445" stroke="#000" stroke-width="1.25" stroke-linecap="butt"/>
<line x1="212.25" y1="468.4" x2="212.25" y2="480.7" stroke="#000" stroke-width="1.25" stroke-linecap="butt"/>
<rect x="208.5" y="445" width="7.5" height="23.4" fill="none" stroke="#000" stroke-width="1.25"/>
<line x1="208.5" y1="457" x2="216" y2="457" stroke="#000" stroke-width="1.25" stroke-linecap="butt"/>
<line x1="220.95" y1="392.5" x2="220.95" y2="436.9" stroke="#ed2024" stroke-width="1.25" stroke-linecap="butt"/>
<line x1="220.95" y1="467.5" x2="220.95" y2="480.7" stroke="#ed2024" stroke-width="1.25" stroke-linecap="butt"/>
<rect x="217.5" y="436.9" width="6.9" height="30.6" fill="none" stroke="#ed2024" stroke-width="1.25"/>
<line x1="217.5" y1="453.4" x2="224.4" y2="453.4" stroke="#ed2024" stroke-width="1.25" stroke-linecap="butt"/>
<line x1="231.3" y1="411.1" x2="231.3" y2="445" stroke="#000" stroke-width="1.25" stroke-linecap="butt"/>
<line x1="231.3" y1="468.4" x2="231.3" y2="480.7" stroke="#000" stroke-width="1.25" stroke-linecap="butt"/>
<rect x="228" y="445" width="6.6" height="23.4" fill="none" stroke="#000" stroke-width="1.25"/>
<line x1="228" y1="457" x2="234.6" y2="457" stroke="#000" stroke-width="1.25" stroke-linecap="butt"/>
<line x1="240" y1="418.6" x2="240" y2="438.1" stroke="#ed2024" stroke-width="1.25" stroke-linecap="butt"/>
<line x1="240" y1="468.4" x2="240" y2="480.7" stroke="#ed2024" stroke-width="1.25" stroke-linecap="butt"/>
<rect x="236.4" y="438.1" width="7.2" height="30.3" fill="none" stroke="#ed2024" stroke-width="1.25"/>
<line x1="236.4" y1="454" x2="243.6" y2="454" stroke="#ed2024" stroke-width="1.25" stroke-linecap="butt"/>
<line x1="56" y1="458.5" x2="64.3" y2="458.5" stroke="#666" stroke-width="0.9" stroke-linecap="butt"/>
<text transform="translate(61.6,455.5) rotate(-90)" font-size="7.9" text-anchor="start" fill="#222" font-style="italic">p&lt;2e-16</text>
<line x1="75.4" y1="424" x2="82" y2="424" stroke="#666" stroke-width="0.9" stroke-linecap="butt"/>
<text transform="translate(80.6,422.6) rotate(-90)" font-size="7.9" text-anchor="start" fill="#222" font-style="italic">p&lt;2e-16</text>
<line x1="94" y1="430.7" x2="101.6" y2="430.7" stroke="#666" stroke-width="0.9" stroke-linecap="butt"/>
<text transform="translate(99.6,429.5) rotate(-90)" font-size="7.9" text-anchor="start" fill="#222" font-style="italic">p&lt;2e-16</text>
<line x1="124.7" y1="455" x2="132.5" y2="455" stroke="#666" stroke-width="0.9" stroke-linecap="butt"/>
<text transform="translate(130.6,453.5) rotate(-90)" font-size="7.9" text-anchor="start" fill="#222" font-style="italic">p&lt;2e-16</text>
<line x1="144.2" y1="386" x2="151.1" y2="386" stroke="#666" stroke-width="0.9" stroke-linecap="butt"/>
<text transform="translate(147.4,384) rotate(-45)" font-size="7.9" text-anchor="start" fill="#222" font-style="italic">p&lt;2e-16</text>
<line x1="163.1" y1="400" x2="170.6" y2="400" stroke="#666" stroke-width="0.9" stroke-linecap="butt"/>
<text transform="translate(166,397.6) rotate(-45)" font-size="7.9" text-anchor="start" fill="#222" font-style="italic">p&lt;2e-16</text>
<line x1="193.5" y1="454" x2="199.5" y2="454" stroke="#666" stroke-width="0.9" stroke-linecap="butt"/>
<text transform="translate(198.8,453.4) rotate(-90)" font-size="7.9" text-anchor="start" fill="#222" font-style="italic">p=6.2e-13</text>
<line x1="213" y1="388" x2="219" y2="388" stroke="#666" stroke-width="0.9" stroke-linecap="butt"/>
<text transform="translate(215.9,386.5) rotate(-45)" font-size="7.9" text-anchor="start" fill="#222" font-style="italic">p&lt;2e-16</text>
<line x1="231.6" y1="397.9" x2="238.5" y2="397.9" stroke="#666" stroke-width="0.9" stroke-linecap="butt"/>
<text transform="translate(234.8,396) rotate(-45)" font-size="7.9" text-anchor="start" fill="#222" font-style="italic">p&lt;2e-16</text>
<rect x="255.9" y="453.6" width="5.6" height="5.6" fill="none" stroke="#000" stroke-width="1.3"/>
<text x="265.5" y="459.2" font-size="8.6" text-anchor="start" fill="#000">WT</text>
<rect x="255.9" y="465" width="5.6" height="5.6" fill="none" stroke="#ed2024" stroke-width="1.3"/>
<text x="266.2" y="470.6" font-size="8.6" text-anchor="start" fill="#000" font-style="italic">Dot1l -/-</text>
<line x1="350.2" y1="293" x2="350.2" y2="394.2" stroke="#333" stroke-width="1" stroke-linecap="butt"/>
<line x1="349.8" y1="393.9" x2="417.9" y2="393.9" stroke="#333" stroke-width="1" stroke-linecap="butt"/>
<line x1="346.6" y1="389.2" x2="350.2" y2="389.2" stroke="#333" stroke-width="0.9" stroke-linecap="butt"/>
<text x="345.2" y="391.7" font-size="7.2" text-anchor="end" fill="#4d4d4d">0</text>
<line x1="346.6" y1="355.9" x2="350.2" y2="355.9" stroke="#333" stroke-width="0.9" stroke-linecap="butt"/>
<text x="345.2" y="358.4" font-size="7.2" text-anchor="end" fill="#4d4d4d">100</text>
<line x1="346.6" y1="322.6" x2="350.2" y2="322.6" stroke="#333" stroke-width="0.9" stroke-linecap="butt"/>
<text x="345.2" y="325.1" font-size="7.2" text-anchor="end" fill="#4d4d4d">200</text>
<text transform="translate(326.2,343.3) rotate(-90)" font-size="9.2" text-anchor="middle" fill="#000">Pause duration (arb. units)</text>
<line x1="359.05" y1="297.5" x2="359.05" y2="347.6" stroke="#000" stroke-width="1.2" stroke-linecap="butt"/>
<line x1="359.05" y1="381.4" x2="359.05" y2="389.2" stroke="#000" stroke-width="1.2" stroke-linecap="butt"/>
<rect x="355.7" y="347.6" width="6.7" height="33.8" fill="none" stroke="#000" stroke-width="1.2"/>
<line x1="355.7" y1="371.3" x2="362.4" y2="371.3" stroke="#000" stroke-width="1.2" stroke-linecap="butt"/>
<line x1="355.7" y1="371.3" x2="362.4" y2="371.3" stroke="#000" stroke-width="2.4" stroke-linecap="butt"/>
<line x1="368.25" y1="347.1" x2="368.25" y2="369.6" stroke="#ed2024" stroke-width="1.2" stroke-linecap="butt"/>
<line x1="368.25" y1="385.3" x2="368.25" y2="389.2" stroke="#ed2024" stroke-width="1.2" stroke-linecap="butt"/>
<rect x="364.4" y="369.6" width="7.7" height="15.7" fill="none" stroke="#ed2024" stroke-width="1.2"/>
<line x1="364.4" y1="379.9" x2="372.1" y2="379.9" stroke="#ed2024" stroke-width="1.2" stroke-linecap="butt"/>
<line x1="364.4" y1="379.9" x2="372.1" y2="379.9" stroke="#ed2024" stroke-width="2.4" stroke-linecap="butt"/>
<line x1="380.65" y1="335" x2="380.65" y2="364.2" stroke="#000" stroke-width="1.2" stroke-linecap="butt"/>
<line x1="380.65" y1="383.6" x2="380.65" y2="389.2" stroke="#000" stroke-width="1.2" stroke-linecap="butt"/>
<rect x="376.9" y="364.2" width="7.5" height="19.4" fill="none" stroke="#000" stroke-width="1.2"/>
<line x1="376.9" y1="377.8" x2="384.4" y2="377.8" stroke="#000" stroke-width="1.2" stroke-linecap="butt"/>
<line x1="376.9" y1="377.8" x2="384.4" y2="377.8" stroke="#000" stroke-width="2.4" stroke-linecap="butt"/>
<line x1="389.8" y1="348.2" x2="389.8" y2="370.2" stroke="#ed2024" stroke-width="1.2" stroke-linecap="butt"/>
<line x1="389.8" y1="385.3" x2="389.8" y2="389.2" stroke="#ed2024" stroke-width="1.2" stroke-linecap="butt"/>
<rect x="385.9" y="370.2" width="7.8" height="15.1" fill="none" stroke="#ed2024" stroke-width="1.2"/>
<line x1="385.9" y1="379.9" x2="393.7" y2="379.9" stroke="#ed2024" stroke-width="1.2" stroke-linecap="butt"/>
<line x1="385.9" y1="379.9" x2="393.7" y2="379.9" stroke="#ed2024" stroke-width="2.4" stroke-linecap="butt"/>
<line x1="402.2" y1="356.2" x2="402.2" y2="373.4" stroke="#000" stroke-width="1.2" stroke-linecap="butt"/>
<line x1="402.2" y1="385.3" x2="402.2" y2="389.2" stroke="#000" stroke-width="1.2" stroke-linecap="butt"/>
<rect x="398.4" y="373.4" width="7.6" height="11.9" fill="none" stroke="#000" stroke-width="1.2"/>
<line x1="398.4" y1="381.4" x2="406" y2="381.4" stroke="#000" stroke-width="1.2" stroke-linecap="butt"/>
<line x1="398.4" y1="381.4" x2="406" y2="381.4" stroke="#000" stroke-width="2.4" stroke-linecap="butt"/>
<line x1="411.6" y1="353.6" x2="411.6" y2="372.4" stroke="#ed2024" stroke-width="1.2" stroke-linecap="butt"/>
<line x1="411.6" y1="385.3" x2="411.6" y2="389.2" stroke="#ed2024" stroke-width="1.2" stroke-linecap="butt"/>
<rect x="407.5" y="372.4" width="8.2" height="12.9" fill="none" stroke="#ed2024" stroke-width="1.2"/>
<line x1="407.5" y1="380.6" x2="415.7" y2="380.6" stroke="#ed2024" stroke-width="1.2" stroke-linecap="butt"/>
<line x1="407.5" y1="380.6" x2="415.7" y2="380.6" stroke="#ed2024" stroke-width="2.4" stroke-linecap="butt"/>
<line x1="363.2" y1="393.9" x2="363.2" y2="397.6" stroke="#333" stroke-width="0.9" stroke-linecap="butt"/>
<text transform="translate(365.9,404) rotate(-64)" font-size="8.5" text-anchor="end" fill="#333">Upreg (<tspan font-style="italic">n=866)</tspan></text>
<line x1="384.6" y1="393.9" x2="384.6" y2="397.6" stroke="#333" stroke-width="0.9" stroke-linecap="butt"/>
<text transform="translate(387.3,404) rotate(-64)" font-size="8.5" text-anchor="end" fill="#333">Unchanged (<tspan font-style="italic">n=8640)</tspan></text>
<line x1="406.3" y1="393.9" x2="406.3" y2="397.6" stroke="#333" stroke-width="0.9" stroke-linecap="butt"/>
<text transform="translate(409,404) rotate(-64)" font-size="8.5" text-anchor="end" fill="#333">Downreg (<tspan font-style="italic">n=647)</tspan></text>
<line x1="359.2" y1="294.4" x2="368.7" y2="294.4" stroke="#666" stroke-width="0.9" stroke-linecap="butt"/>
<text x="359.9" y="289.6" font-size="8.0" text-anchor="start" fill="#333" font-style="italic">p&lt;2e-16</text>
<line x1="379.5" y1="333.5" x2="389.8" y2="333.5" stroke="#666" stroke-width="0.9" stroke-linecap="butt"/>
<text x="378" y="330.3" font-size="8.0" text-anchor="start" fill="#333" font-style="italic">p&lt;2e-16</text>
<line x1="400.6" y1="352.3" x2="411.4" y2="352.3" stroke="#666" stroke-width="0.9" stroke-linecap="butt"/>
<text x="401.4" y="349.3" font-size="7.6" text-anchor="start" fill="#333" font-style="italic">n.s.</text>
<rect x="357.9" y="246" width="5.3" height="5.3" fill="none" stroke="#000" stroke-width="1.8"/>
<text x="367.4" y="251.6" font-size="8.6" text-anchor="start" fill="#000">WT</text>
<rect x="357.9" y="259.9" width="5.3" height="5.3" fill="none" stroke="#ed2024" stroke-width="1.8"/>
<text x="367.4" y="265.6" font-size="8.6" text-anchor="start" fill="#000" font-style="italic">Dot1l -/-</text>
</svg></body></html>
